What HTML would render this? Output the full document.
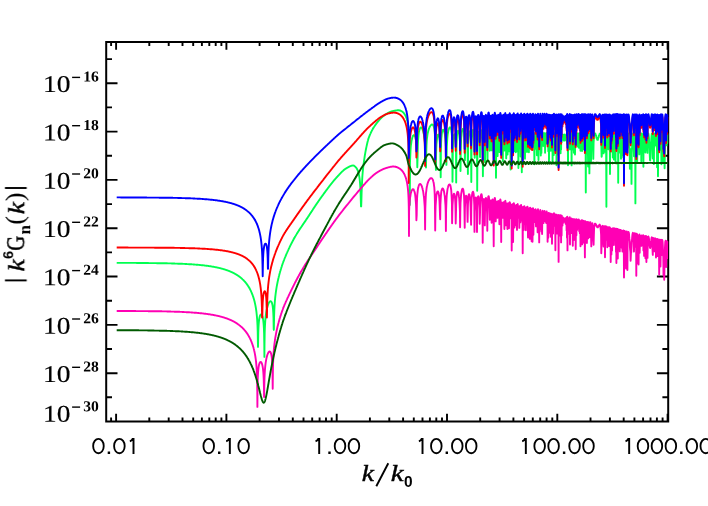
<!DOCTYPE html>
<html><head><meta charset="utf-8"><title>chart</title>
<style>
html,body{margin:0;padding:0;background:#fff;overflow:hidden;}
svg{display:block;}
.ss{font-family:"Liberation Sans",sans-serif;}
.sf{font-family:"Liberation Serif",serif;}
.c{fill:none;stroke-width:1.9;stroke-linejoin:round;stroke-linecap:butt;}
.gp{text-rendering:geometricPrecision;}
.kk{stroke:#000;stroke-width:0.42px;}
.gg{stroke:#000;stroke-width:0.45px;}
.tk{stroke:#000;stroke-width:0.18px;}
text{-webkit-font-smoothing:antialiased;}
</style></head><body>
<svg width="708" height="506" viewBox="0 0 708 506">
<rect width="708" height="506" fill="#fff"/>
<clipPath id="cp"><rect x="106.2" y="42.0" width="562.3" height="379.5"/></clipPath>
<path d="M111.1 421.5 v-3.9M111.1 42.0 v3.9M116.1 421.5 v-7.8M116.1 42.0 v7.8M149.3 421.5 v-3.9M149.3 42.0 v3.9M168.7 421.5 v-3.9M168.7 42.0 v3.9M182.5 421.5 v-3.9M182.5 42.0 v3.9M193.2 421.5 v-3.9M193.2 42.0 v3.9M201.9 421.5 v-3.9M201.9 42.0 v3.9M209.3 421.5 v-3.9M209.3 42.0 v3.9M215.7 421.5 v-3.9M215.7 42.0 v3.9M221.4 421.5 v-3.9M221.4 42.0 v3.9M226.4 421.5 v-7.8M226.4 42.0 v7.8M259.6 421.5 v-3.9M259.6 42.0 v3.9M279.0 421.5 v-3.9M279.0 42.0 v3.9M292.8 421.5 v-3.9M292.8 42.0 v3.9M303.5 421.5 v-3.9M303.5 42.0 v3.9M312.2 421.5 v-3.9M312.2 42.0 v3.9M319.6 421.5 v-3.9M319.6 42.0 v3.9M326.0 421.5 v-3.9M326.0 42.0 v3.9M331.7 421.5 v-3.9M331.7 42.0 v3.9M336.7 421.5 v-7.8M336.7 42.0 v7.8M369.9 421.5 v-3.9M369.9 42.0 v3.9M389.3 421.5 v-3.9M389.3 42.0 v3.9M403.1 421.5 v-3.9M403.1 42.0 v3.9M413.8 421.5 v-3.9M413.8 42.0 v3.9M422.5 421.5 v-3.9M422.5 42.0 v3.9M429.9 421.5 v-3.9M429.9 42.0 v3.9M436.3 421.5 v-3.9M436.3 42.0 v3.9M442.0 421.5 v-3.9M442.0 42.0 v3.9M447.0 421.5 v-7.8M447.0 42.0 v7.8M480.2 421.5 v-3.9M480.2 42.0 v3.9M499.6 421.5 v-3.9M499.6 42.0 v3.9M513.4 421.5 v-3.9M513.4 42.0 v3.9M524.1 421.5 v-3.9M524.1 42.0 v3.9M532.8 421.5 v-3.9M532.8 42.0 v3.9M540.2 421.5 v-3.9M540.2 42.0 v3.9M546.6 421.5 v-3.9M546.6 42.0 v3.9M552.3 421.5 v-3.9M552.3 42.0 v3.9M557.3 421.5 v-7.8M557.3 42.0 v7.8M590.5 421.5 v-3.9M590.5 42.0 v3.9M609.9 421.5 v-3.9M609.9 42.0 v3.9M623.7 421.5 v-3.9M623.7 42.0 v3.9M634.4 421.5 v-3.9M634.4 42.0 v3.9M643.1 421.5 v-3.9M643.1 42.0 v3.9M650.5 421.5 v-3.9M650.5 42.0 v3.9M656.9 421.5 v-3.9M656.9 42.0 v3.9M662.6 421.5 v-3.9M662.6 42.0 v3.9M667.6 421.5 v-7.8M667.6 42.0 v7.8M106.2 397.3 h5.8M668.2 397.3 h-5.8M106.2 373.2 h11.3M668.2 373.2 h-11.3M106.2 349.0 h5.8M668.2 349.0 h-5.8M106.2 324.9 h11.3M668.2 324.9 h-11.3M106.2 300.7 h5.8M668.2 300.7 h-5.8M106.2 276.5 h11.3M668.2 276.5 h-11.3M106.2 252.4 h5.8M668.2 252.4 h-5.8M106.2 228.2 h11.3M668.2 228.2 h-11.3M106.2 204.1 h5.8M668.2 204.1 h-5.8M106.2 179.9 h11.3M668.2 179.9 h-11.3M106.2 155.7 h5.8M668.2 155.7 h-5.8M106.2 131.6 h11.3M668.2 131.6 h-11.3M106.2 107.4 h5.8M668.2 107.4 h-5.8M106.2 83.3 h11.3M668.2 83.3 h-11.3M106.2 59.1 h5.8M668.2 59.1 h-5.8" stroke="#000" stroke-width="1.9" fill="none"/>
<rect x="106.2" y="42.0" width="562.0" height="379.5" fill="none" stroke="#000" stroke-width="2"/>
<g clip-path="url(#cp)">
<path class="c" stroke="#00ff50" d="M116.7 262.9L116.9 262.9L117.1 262.9L117.3 262.9L117.5 262.9L117.7 262.9L117.9 262.9L118.1 262.9L118.3 262.9L118.5 262.9L118.7 262.9L118.9 262.9L119.1 262.9L119.3 262.9L119.5 262.9L119.7 262.9L119.9 262.9L120.1 262.9L120.3 262.9L120.5 262.9L120.7 262.9L120.9 262.9L121.1 262.9L121.3 262.9L121.5 262.9L121.7 262.9L121.9 262.9L122.1 262.9L122.3 262.9L122.5 262.9L122.7 262.9L122.9 262.9L123.1 262.9L123.3 262.9L123.5 262.9L123.7 262.9L123.9 262.9L124.1 262.9L124.3 262.9L124.5 262.9L124.7 262.9L124.9 262.9L125.1 262.9L125.3 262.9L125.5 262.9L125.7 262.9L125.9 262.9L126.1 262.9L126.3 262.9L126.5 262.9L126.7 262.9L126.9 262.9L127.1 262.9L127.3 262.9L127.5 262.9L127.7 262.9L127.9 262.9L128.1 262.9L128.3 262.9L128.5 262.9L128.7 262.9L128.9 262.9L129.1 262.9L129.3 262.9L129.5 262.9L129.7 262.9L129.9 262.9L130.1 262.9L130.3 262.9L130.5 262.9L130.7 262.9L130.9 262.9L131.1 262.9L131.3 262.9L131.5 262.9L131.7 262.9L131.9 262.9L132.1 262.9L132.3 262.9L132.5 262.9L132.7 262.9L132.9 262.9L133.1 262.9L133.3 262.9L133.5 262.9L133.7 262.9L133.9 262.9L134.1 262.9L134.3 262.9L134.5 262.9L134.7 262.9L134.9 262.9L135.1 262.9L135.3 262.9L135.5 262.9L135.7 262.9L135.9 262.9L136.1 262.9L136.3 262.9L136.5 263.0L136.7 263.0L136.9 263.0L137.1 263.0L137.3 263.0L137.5 263.0L137.7 263.0L137.9 263.0L138.1 263.0L138.3 263.0L138.5 263.0L138.7 263.0L138.9 263.0L139.1 263.0L139.3 263.0L139.5 263.0L139.7 263.0L139.9 263.0L140.1 263.0L140.3 263.0L140.5 263.0L140.7 263.0L140.9 263.0L141.1 263.0L141.3 263.0L141.5 263.0L141.7 263.0L141.9 263.0L142.1 263.0L142.3 263.0L142.5 263.0L142.7 263.0L142.9 263.0L143.1 263.0L143.3 263.0L143.5 263.0L143.7 263.0L143.9 263.0L144.1 263.0L144.3 263.0L144.5 263.0L144.7 263.0L144.9 263.0L145.1 263.0L145.3 263.0L145.5 263.0L145.7 263.0L145.9 263.0L146.1 263.0L146.3 263.0L146.5 263.0L146.7 263.0L146.9 263.0L147.1 263.0L147.3 263.0L147.5 263.0L147.7 263.0L147.9 263.0L148.1 263.0L148.3 263.0L148.5 263.0L148.7 263.1L148.9 263.1L149.1 263.1L149.3 263.1L149.5 263.1L149.7 263.1L149.9 263.1L150.1 263.1L150.3 263.1L150.5 263.1L150.7 263.1L150.9 263.1L151.1 263.1L151.3 263.1L151.5 263.1L151.7 263.1L151.9 263.1L152.1 263.1L152.3 263.1L152.5 263.1L152.7 263.1L152.9 263.1L153.1 263.1L153.3 263.1L153.5 263.1L153.7 263.1L153.9 263.1L154.1 263.1L154.3 263.1L154.5 263.1L154.7 263.1L154.9 263.1L155.1 263.1L155.3 263.1L155.5 263.1L155.7 263.1L155.9 263.1L156.1 263.1L156.3 263.1L156.5 263.1L156.7 263.2L156.9 263.2L157.1 263.2L157.3 263.2L157.5 263.2L157.7 263.2L157.9 263.2L158.1 263.2L158.3 263.2L158.5 263.2L158.7 263.2L158.9 263.2L159.1 263.2L159.3 263.2L159.5 263.2L159.7 263.2L159.9 263.2L160.1 263.2L160.3 263.2L160.5 263.2L160.7 263.2L160.9 263.2L161.1 263.2L161.3 263.2L161.5 263.2L161.7 263.2L161.9 263.2L162.1 263.2L162.3 263.2L162.5 263.2L162.7 263.3L162.9 263.3L163.1 263.3L163.3 263.3L163.5 263.3L163.7 263.3L163.9 263.3L164.1 263.3L164.3 263.3L164.5 263.3L164.7 263.3L164.9 263.3L165.1 263.3L165.3 263.3L165.5 263.3L165.7 263.3L165.9 263.3L166.1 263.3L166.3 263.3L166.5 263.3L166.7 263.3L166.9 263.3L167.1 263.3L167.3 263.3L167.5 263.4L167.7 263.4L167.9 263.4L168.1 263.4L168.3 263.4L168.5 263.4L168.7 263.4L168.9 263.4L169.1 263.4L169.3 263.4L169.5 263.4L169.7 263.4L169.9 263.4L170.1 263.4L170.3 263.4L170.5 263.4L170.7 263.4L170.9 263.4L171.1 263.4L171.3 263.4L171.5 263.5L171.7 263.5L171.9 263.5L172.1 263.5L172.3 263.5L172.5 263.5L172.7 263.5L172.9 263.5L173.1 263.5L173.3 263.5L173.5 263.5L173.7 263.5L173.9 263.5L174.1 263.5L174.3 263.5L174.5 263.5L174.7 263.5L174.9 263.6L175.1 263.6L175.3 263.6L175.5 263.6L175.7 263.6L175.9 263.6L176.1 263.6L176.3 263.6L176.5 263.6L176.7 263.6L176.9 263.6L177.1 263.6L177.3 263.6L177.5 263.6L177.7 263.7L177.9 263.7L178.1 263.7L178.3 263.7L178.5 263.7L178.7 263.7L178.9 263.7L179.1 263.7L179.3 263.7L179.5 263.7L179.7 263.7L179.9 263.7L180.1 263.7L180.3 263.7L180.5 263.8L180.7 263.8L180.9 263.8L181.1 263.8L181.3 263.8L181.5 263.8L181.7 263.8L181.9 263.8L182.1 263.8L182.3 263.8L182.5 263.8L182.7 263.9L182.9 263.9L183.1 263.9L183.3 263.9L183.5 263.9L183.7 263.9L183.9 263.9L184.1 263.9L184.3 263.9L184.5 263.9L184.7 263.9L184.9 264.0L185.1 264.0L185.3 264.0L185.5 264.0L185.7 264.0L185.9 264.0L186.1 264.0L186.3 264.0L186.5 264.0L186.7 264.0L186.9 264.1L187.1 264.1L187.3 264.1L187.5 264.1L187.7 264.1L187.9 264.1L188.1 264.1L188.3 264.1L188.5 264.1L188.7 264.2L188.9 264.2L189.1 264.2L189.3 264.2L189.5 264.2L189.7 264.2L189.9 264.2L190.1 264.2L190.3 264.3L190.5 264.3L190.7 264.3L190.9 264.3L191.1 264.3L191.3 264.3L191.5 264.3L191.7 264.3L191.9 264.4L192.1 264.4L192.3 264.4L192.5 264.4L192.7 264.4L192.9 264.4L193.1 264.4L193.3 264.5L193.5 264.5L193.7 264.5L193.9 264.5L194.1 264.5L194.3 264.5L194.5 264.5L194.7 264.6L194.9 264.6L195.1 264.6L195.3 264.6L195.5 264.6L195.7 264.6L195.9 264.6L196.1 264.7L196.3 264.7L196.5 264.7L196.7 264.7L196.9 264.7L197.1 264.7L197.3 264.8L197.5 264.8L197.7 264.8L197.9 264.8L198.1 264.8L198.3 264.9L198.5 264.9L198.7 264.9L198.9 264.9L199.1 264.9L199.3 264.9L199.5 265.0L199.7 265.0L199.9 265.0L200.1 265.0L200.3 265.0L200.5 265.1L200.7 265.1L200.9 265.1L201.1 265.1L201.3 265.1L201.5 265.2L201.7 265.2L201.9 265.2L202.1 265.2L202.3 265.2L202.5 265.3L202.7 265.3L202.9 265.3L203.1 265.3L203.3 265.3L203.5 265.4L203.7 265.4L203.9 265.4L204.1 265.4L204.3 265.5L204.5 265.5L204.7 265.5L204.9 265.5L205.1 265.6L205.3 265.6L205.5 265.6L205.7 265.6L205.9 265.7L206.1 265.7L206.3 265.7L206.5 265.7L206.7 265.8L206.9 265.8L207.1 265.8L207.3 265.8L207.5 265.9L207.7 265.9L207.9 265.9L208.1 265.9L208.3 266.0L208.5 266.0L208.7 266.0L208.9 266.1L209.1 266.1L209.3 266.1L209.5 266.1L209.7 266.2L209.9 266.2L210.1 266.2L210.3 266.3L210.5 266.3L210.7 266.3L210.9 266.4L211.1 266.4L211.3 266.4L211.5 266.5L211.7 266.5L211.9 266.5L212.1 266.6L212.3 266.6L212.5 266.6L212.7 266.7L212.9 266.7L213.1 266.7L213.3 266.8L213.5 266.8L213.7 266.8L213.9 266.9L214.1 266.9L214.3 266.9L214.5 267.0L214.7 267.0L214.9 267.1L215.1 267.1L215.3 267.1L215.5 267.2L215.7 267.2L215.9 267.3L216.1 267.3L216.3 267.3L216.5 267.4L216.7 267.4L216.9 267.5L217.1 267.5L217.3 267.5L217.5 267.6L217.7 267.6L217.9 267.7L218.1 267.7L218.3 267.8L218.5 267.8L218.7 267.9L218.9 267.9L219.1 267.9L219.3 268.0L219.5 268.0L219.7 268.1L219.9 268.1L220.1 268.2L220.3 268.2L220.5 268.3L220.7 268.3L220.9 268.4L221.1 268.4L221.3 268.5L221.5 268.5L221.7 268.6L221.9 268.7L222.1 268.7L222.3 268.8L222.5 268.8L222.7 268.9L222.9 268.9L223.1 269.0L223.3 269.0L223.5 269.1L223.7 269.2L223.9 269.2L224.1 269.3L224.3 269.3L224.5 269.4L224.7 269.5L224.9 269.5L225.1 269.6L225.3 269.7L225.5 269.7L225.7 269.8L225.9 269.9L226.1 269.9L226.3 270.0L226.5 270.1L226.7 270.1L226.9 270.2L227.1 270.3L227.3 270.3L227.5 270.4L227.7 270.5L227.9 270.6L228.1 270.6L228.3 270.7L228.5 270.8L228.7 270.9L228.9 270.9L229.1 271.0L229.3 271.1L229.5 271.2L229.7 271.3L229.9 271.3L230.1 271.4L230.3 271.5L230.5 271.6L230.7 271.7L230.9 271.8L231.1 271.9L231.3 272.0L231.5 272.0L231.7 272.1L231.9 272.2L232.1 272.3L232.3 272.4L232.5 272.5L232.7 272.6L232.9 272.7L233.1 272.8L233.3 272.9L233.5 273.0L233.7 273.1L233.9 273.2L234.1 273.3L234.3 273.4L234.5 273.5L234.7 273.6L234.9 273.8L235.1 273.9L235.3 274.0L235.5 274.1L235.7 274.2L235.9 274.3L236.1 274.5L236.3 274.6L236.5 274.7L236.7 274.8L236.9 274.9L237.1 275.1L237.3 275.2L237.5 275.3L237.7 275.5L237.9 275.6L238.1 275.7L238.3 275.9L238.5 276.0L238.7 276.2L238.9 276.3L239.1 276.4L239.3 276.6L239.5 276.7L239.7 276.9L239.9 277.0L240.1 277.2L240.3 277.4L240.5 277.5L240.7 277.7L240.9 277.9L241.1 278.0L241.3 278.2L241.5 278.4L241.7 278.5L241.9 278.7L242.1 278.9L242.3 279.1L242.5 279.3L242.7 279.5L242.9 279.6L243.1 279.8L243.3 280.0L243.5 280.2L243.7 280.4L243.9 280.7L244.1 280.9L244.3 281.1L244.5 281.3L244.7 281.5L244.9 281.7L245.1 282.0L245.3 282.2L245.5 282.4L245.7 282.7L245.9 282.9L246.1 283.2L246.3 283.4L246.5 283.7L246.7 284.0L246.9 284.2L247.1 284.5L247.3 284.8L247.5 285.1L247.7 285.4L247.9 285.7L248.1 286.0L248.3 286.3L248.5 286.6L248.7 286.9L248.9 287.2L249.1 287.6L249.3 287.9L249.5 288.3L249.7 288.6L249.9 289.0L250.1 289.4L250.3 289.8L250.5 290.2L250.7 290.6L250.9 291.0L251.1 291.4L251.3 291.9L251.5 292.3L251.7 292.8L251.9 293.3L252.1 293.8L252.3 294.3L252.5 294.8L252.7 295.4L252.9 295.9L253.1 296.5L253.3 297.1L253.5 297.7L253.7 298.4L253.9 299.1L254.1 299.8L254.3 300.5L254.5 301.3L254.7 302.1L254.9 303.0L255.1 303.9L255.3 304.9L255.5 305.9L255.7 307.0L255.9 308.2L256.1 309.5L256.3 310.9L256.5 312.5L256.7 314.3L256.9 316.3L257.1 318.7L257.3 321.6L257.5 325.4L257.7 331.1L257.9 343.0L258.0 346.9L258.1 343.3L258.3 332.1L258.5 327.1L258.7 324.0L258.9 321.7L259.1 320.0L259.3 318.7L259.5 317.6L259.7 316.8L259.9 316.1L260.1 315.5L260.3 315.1L260.5 314.8L260.7 314.6L260.9 314.4L261.1 314.4L261.3 314.4L261.5 314.6L261.7 314.8L261.9 315.1L262.1 315.5L262.3 316.0L262.5 316.6L262.7 317.4L262.9 318.3L263.1 319.5L263.3 320.9L263.5 322.7L263.7 325.0L263.9 328.3L264.1 333.3L264.3 344.6L264.4 356.9L264.5 344.4L264.7 332.6L264.9 327.1L265.1 323.4L265.3 320.5L265.5 318.3L265.7 316.4L265.9 314.7L266.1 313.3L266.3 312.0L266.5 310.9L266.7 309.8L266.9 308.9L267.1 308.0L267.3 307.2L267.5 306.5L267.7 305.8L267.9 305.2L268.1 304.6L268.3 304.1L268.5 303.6L268.7 303.2L268.9 302.8L269.1 302.5L269.3 302.2L269.5 301.9L269.7 301.7L269.9 301.5L270.1 301.4L270.3 301.3L270.5 301.3L270.7 301.3L270.9 301.4L271.1 301.5L271.3 301.7L271.5 302.0L271.7 302.3L271.9 302.8L272.1 303.4L272.3 304.2L272.5 305.1L272.7 306.4L272.9 307.9L273.1 310.0L273.3 313.1L273.5 317.9L273.7 328.9L273.8 329.9L273.9 328.4L274.1 316.4L274.3 310.6L274.5 306.6L274.7 303.5L274.9 300.9L275.1 298.7L275.3 296.7L275.5 295.0L275.7 293.3L275.9 291.8L276.1 290.5L276.3 289.1L276.5 287.9L276.7 286.7L276.9 285.6L277.1 284.5L277.3 283.5L277.5 282.5L277.7 281.5L277.9 280.6L278.1 279.7L278.3 278.8L278.5 278.0L278.7 277.2L278.9 276.3L279.1 275.6L279.3 274.8L279.5 274.0L279.7 273.3L279.9 272.6L280.1 271.8L280.3 271.1L280.5 270.5L280.7 269.8L280.9 269.1L281.1 268.5L281.3 267.8L281.5 267.2L281.7 266.6L281.9 265.9L282.1 265.3L282.3 264.7L282.5 264.1L282.7 263.5L282.9 263.0L283.0 262.7L283.2 262.1L283.4 261.6L283.6 261.1L283.8 260.6L284.0 260.1L284.2 259.5L284.4 259.0L284.6 258.5L284.8 258.0L285.0 257.5L285.2 257.0L285.4 256.6L285.6 256.1L285.8 255.6L286.0 255.1L286.2 254.6L286.4 254.2L286.6 253.7L286.8 253.2L287.0 252.8L287.2 252.3L287.4 251.9L287.6 251.4L287.8 251.0L288.0 250.6L288.2 250.1L288.4 249.7L288.6 249.3L288.8 248.8L289.0 248.4L289.2 248.0L289.4 247.6L289.6 247.1L289.8 246.7L290.0 246.3L290.2 245.9L290.4 245.5L290.6 245.1L290.8 244.7L291.0 244.3L291.2 243.9L291.4 243.5L291.6 243.1L291.8 242.8L292.0 242.4L292.2 242.0L292.4 241.6L292.6 241.2L292.8 240.9L293.0 240.5L293.2 240.1L293.4 239.7L293.6 239.4L293.8 239.0L294.0 238.6L294.2 238.3L294.4 237.9L294.6 237.6L294.8 237.2L295.0 236.9L295.2 236.5L295.4 236.2L295.6 235.8L295.8 235.5L296.0 235.2L296.2 234.8L296.4 234.5L296.6 234.2L296.8 233.8L297.0 233.5L297.2 233.2L297.4 232.9L297.6 232.5L297.8 232.2L298.0 231.9L298.2 231.6L298.4 231.3L298.6 231.0L298.8 230.7L299.0 230.4L299.2 230.1L299.4 229.7L299.6 229.4L299.8 229.1L300.0 228.8L300.2 228.5L300.4 228.2L300.6 227.9L300.8 227.6L301.0 227.3L301.2 227.1L301.4 226.8L301.6 226.5L301.8 226.2L302.0 225.9L302.2 225.6L302.4 225.3L302.6 225.0L302.8 224.7L303.0 224.4L303.2 224.1L303.4 223.8L303.6 223.5L303.8 223.2L304.0 223.0L304.2 222.7L304.4 222.4L304.6 222.1L304.8 221.8L305.0 221.5L305.2 221.2L305.4 220.9L305.6 220.6L305.8 220.3L306.0 220.0L306.2 219.7L306.4 219.4L306.6 219.1L306.8 218.8L307.0 218.5L307.2 218.2L307.4 217.9L307.6 217.6L307.8 217.3L308.0 217.0L308.2 216.7L308.4 216.4L308.6 216.1L308.8 215.8L309.0 215.5L309.2 215.1L309.4 214.8L309.6 214.5L309.8 214.2L310.0 213.9L310.2 213.6L310.4 213.3L310.6 213.0L310.8 212.7L311.0 212.4L311.2 212.1L311.4 211.8L311.6 211.5L311.8 211.2L312.0 210.9L312.2 210.6L312.4 210.3L312.6 210.0L312.8 209.6L313.0 209.3L313.2 209.0L313.4 208.7L313.6 208.4L313.8 208.1L314.0 207.8L314.2 207.5L314.4 207.2L314.6 206.9L314.8 206.6L315.0 206.3L315.2 206.0L315.4 205.7L315.6 205.4L315.8 205.1L316.0 204.8L316.2 204.5L316.4 204.2L316.6 203.9L316.8 203.6L317.0 203.3L317.2 203.0L317.4 202.8L317.6 202.5L317.8 202.2L318.0 201.9L318.2 201.6L318.4 201.3L318.6 201.0L318.8 200.7L319.0 200.4L319.2 200.1L319.4 199.8L319.6 199.6L319.8 199.3L320.0 199.0L320.2 198.7L320.4 198.4L320.6 198.1L320.8 197.9L321.0 197.6L321.2 197.3L321.4 197.0L321.6 196.8L321.8 196.5L322.0 196.2L322.2 195.9L322.4 195.7L322.6 195.4L322.8 195.1L323.0 194.8L323.2 194.6L323.4 194.3L323.6 194.0L323.8 193.7L324.0 193.5L324.2 193.2L324.4 192.9L324.6 192.6L324.8 192.4L325.0 192.1L325.2 191.8L325.4 191.5L325.6 191.3L325.8 191.0L326.0 190.7L326.2 190.5L326.4 190.2L326.6 189.9L326.8 189.7L327.0 189.4L327.2 189.1L327.4 188.8L327.6 188.6L327.8 188.3L328.0 188.0L328.2 187.8L328.4 187.5L328.6 187.3L328.8 187.0L329.0 186.7L329.2 186.5L329.4 186.2L329.6 185.9L329.8 185.7L330.0 185.4L330.2 185.2L330.4 184.9L330.6 184.7L330.8 184.4L331.0 184.1L331.2 183.9L331.4 183.6L331.6 183.4L331.8 183.1L332.0 182.9L332.2 182.6L332.4 182.4L332.6 182.1L332.8 181.9L333.0 181.7L333.2 181.4L333.4 181.2L333.6 180.9L333.8 180.7L334.0 180.4L334.2 180.2L334.4 180.0L334.6 179.7L334.8 179.5L335.0 179.3L335.2 179.0L335.4 178.8L335.6 178.6L335.8 178.4L336.0 178.1L336.2 177.9L336.4 177.7L336.6 177.5L336.8 177.2L337.0 177.0L337.2 176.8L337.4 176.6L337.6 176.4L337.8 176.2L338.0 176.0L338.2 175.7L338.4 175.5L338.6 175.3L338.8 175.1L339.0 174.9L339.2 174.7L339.4 174.4L339.6 174.2L339.8 174.0L340.0 173.8L340.2 173.6L340.4 173.4L340.6 173.2L340.8 172.9L341.0 172.7L341.2 172.5L341.4 172.3L341.6 172.1L341.8 171.9L342.0 171.7L342.2 171.5L342.4 171.3L342.6 171.1L342.8 171.0L343.0 170.8L343.2 170.6L343.4 170.4L343.6 170.2L343.8 170.1L344.0 169.9L344.2 169.7L344.4 169.6L344.6 169.4L344.8 169.3L345.0 169.1L345.2 169.0L345.4 168.9L345.6 168.7L345.8 168.6L346.0 168.5L346.2 168.4L346.4 168.3L346.6 168.2L346.8 168.0L347.0 167.9L347.2 167.8L347.4 167.7L347.6 167.6L347.8 167.5L348.0 167.3L348.2 167.2L348.4 167.1L348.6 167.0L348.8 166.9L349.0 166.8L349.2 166.7L349.4 166.6L349.6 166.5L349.8 166.4L350.0 166.3L350.2 166.2L350.4 166.1L350.6 166.0L350.8 166.0L351.0 165.9L351.2 165.8L351.4 165.8L351.6 165.7L351.8 165.7L352.0 165.6L352.2 165.6L352.4 165.6L352.6 165.5L352.8 165.5L353.0 165.5L353.2 165.5L353.4 165.5L353.6 165.6L353.8 165.6L354.0 165.7L354.2 165.8L354.4 166.0L354.6 166.1L354.8 166.3L355.0 166.5L355.2 166.7L355.4 166.9L355.6 167.1L355.8 167.3L356.0 167.5L356.2 167.7L356.4 168.0L356.6 168.3L356.8 168.6L357.0 169.0L357.2 169.4L357.4 169.8L357.6 170.2L357.8 170.7L358.0 171.3L358.2 171.9L358.4 172.5L358.6 173.3L358.8 174.1L359.0 175.1L359.2 176.2L359.4 177.4L359.6 178.7L359.8 180.5L360.0 182.6L360.2 185.2L360.4 188.3L360.6 192.5L360.8 200.0L361.0 206.4L361.2 206.4L361.4 200.5L361.6 192.9L361.8 187.6L362.0 183.2L362.2 179.2L362.4 176.0L362.6 173.5L362.8 171.2L363.0 169.3L363.2 167.5L363.4 165.8L363.6 164.2L363.8 162.7L364.0 161.2L364.2 159.7L364.4 158.3L364.6 157.0L364.8 155.7L365.0 154.5L365.2 153.3L365.4 152.2L365.6 151.1L365.8 150.0L366.0 149.0L366.2 148.0L366.4 147.1L366.6 146.1L366.8 145.2L367.0 144.3L367.2 143.4L367.4 142.6L367.6 141.8L367.8 141.0L368.0 140.3L368.2 139.5L368.4 138.9L368.6 138.2L368.8 137.6L369.0 137.1L369.2 136.6L369.4 136.1L369.6 135.6L369.8 135.1L370.0 134.6L370.2 134.2L370.4 133.7L370.6 133.3L370.8 132.8L371.0 132.4L371.2 132.0L371.4 131.6L371.6 131.2L371.8 130.8L372.0 130.4L372.2 130.0L372.4 129.7L372.6 129.3L372.8 128.9L373.0 128.6L373.2 128.3L373.4 127.9L373.6 127.6L373.8 127.3L374.0 127.0L374.2 126.7L374.4 126.3L374.6 126.1L374.8 125.8L375.0 125.5L375.2 125.2L375.4 124.9L375.6 124.6L375.8 124.4L376.0 124.1L376.2 123.8L376.4 123.5L376.6 123.3L376.8 123.0L377.0 122.8L377.2 122.5L377.4 122.3L377.6 122.0L377.8 121.8L378.0 121.5L378.2 121.3L378.4 121.0L378.6 120.8L378.8 120.6L379.0 120.3L379.2 120.1L379.4 119.9L379.6 119.7L379.8 119.4L380.0 119.2L380.2 119.0L380.4 118.8L380.6 118.6L380.8 118.4L381.0 118.2L381.2 118.0L381.4 117.8L381.6 117.6L381.8 117.4L382.0 117.2L382.2 117.0L382.4 116.9L382.6 116.7L382.8 116.5L383.0 116.3L383.2 116.2L383.4 116.0L383.6 115.9L383.8 115.7L384.0 115.6L384.2 115.4L384.4 115.3L384.6 115.1L384.8 115.0L385.0 114.9L385.2 114.7L385.4 114.6L385.6 114.5L385.8 114.3L386.0 114.2L386.2 114.1L386.4 114.0L386.6 113.8L386.8 113.7L387.0 113.6L387.2 113.5L387.4 113.4L387.6 113.2L387.8 113.1L388.0 113.0L388.2 112.9L388.4 112.8L388.6 112.7L388.8 112.6L389.0 112.5L389.2 112.4L389.4 112.3L389.6 112.2L389.8 112.1L390.0 112.0L390.2 111.9L390.4 111.8L390.6 111.7L390.8 111.7L391.0 111.6L391.2 111.5L391.4 111.5L391.6 111.4L391.8 111.3L392.0 111.3L392.2 111.2L392.4 111.2L392.6 111.1L392.8 111.1L393.0 111.0L393.2 111.0L393.4 111.0L393.6 110.9L393.8 110.9L394.0 110.8L394.2 110.8L394.4 110.8L394.6 110.7L394.8 110.7L395.0 110.6L395.2 110.6L395.4 110.6L395.6 110.5L395.8 110.5L396.0 110.5L396.2 110.5L396.4 110.4L396.6 110.4L396.8 110.4L397.0 110.4L397.2 110.3L397.4 110.3L397.6 110.3L397.8 110.3L398.0 110.3L398.2 110.3L398.4 110.3L398.5 110.3L398.6 110.3L398.7 110.3L398.8 110.3L398.9 110.3L399.0 110.3L399.1 110.3L399.2 110.4L399.3 110.4L399.4 110.4L399.5 110.4L399.6 110.4L399.7 110.4L399.8 110.5L399.9 110.5L400.0 110.5L400.1 110.5L400.2 110.6L400.3 110.6L400.4 110.6L400.5 110.7L400.6 110.7L400.7 110.7L400.8 110.8L400.9 110.8L401.0 110.9L401.1 110.9L401.2 111.0L401.3 111.0L401.4 111.1L401.5 111.1L401.6 111.2L401.7 111.2L401.8 111.3L401.9 111.4L402.0 111.4L402.1 111.5L402.2 111.6L402.3 111.6L402.4 111.7L402.5 111.8L402.6 111.9L402.7 112.0L402.8 112.1L402.9 112.1L403.0 112.2L403.1 112.3L403.2 112.4L403.3 112.5L403.4 112.6L403.5 112.7L403.6 112.9L403.7 113.0L403.8 113.1L403.9 113.2L404.0 113.3L404.1 113.5L404.2 113.6L404.3 113.7L404.4 113.9L404.5 114.0L404.6 114.2L404.7 114.3L404.8 114.5L404.9 114.7L405.0 114.8L405.1 115.0L405.2 115.2L405.3 115.4L405.4 115.6L405.5 115.8L405.6 116.0L405.7 116.2L405.8 116.4L405.9 116.6L406.0 116.8L406.1 117.1L406.2 117.3L406.3 117.6L406.4 117.9L406.5 118.1L406.6 118.4L406.7 118.7L406.8 119.0L406.9 119.3L407.0 119.7L407.1 120.0L407.2 120.4L407.3 120.8L407.4 121.2L407.5 121.6L407.6 122.0L407.7 122.5L407.8 123.0L407.9 123.5L408.0 124.0L408.1 124.6L408.2 125.2L408.3 125.9L408.4 126.6L408.5 127.3L408.6 128.1L408.7 129.0L408.8 130.0L408.9 131.1L409.0 132.3L409.1 133.7L409.2 135.3L409.3 137.2L409.4 139.5L409.5 142.5L409.6 146.7L409.7 153.8L409.8 194.1L409.8 205.0L410.0 162.5L410.3 155.1L410.5 150.7L410.7 147.7L410.9 145.3L411.2 143.4L411.4 141.9L411.6 140.5L411.9 139.4L412.1 138.5L412.3 137.7L412.5 137.0L412.8 136.4L413.0 135.9L413.2 135.6L413.5 135.3L413.7 135.2L413.9 135.1L414.1 135.1L414.4 135.3L414.6 135.5L414.8 135.9L415.1 136.4L415.3 137.0L415.5 137.8L415.7 138.8L416.0 140.0L416.2 141.6L416.4 143.5L416.7 146.0L416.9 149.5L417.1 154.9L417.3 167.3L417.6 156.8L417.8 146.2L418.0 141.1L418.3 137.8L418.5 135.4L418.7 133.6L418.9 132.1L419.2 131.0L419.4 130.0L419.6 129.3L419.9 128.7L420.1 128.2L420.3 127.9L420.5 127.6L420.8 127.5L421.0 127.5L421.2 127.5L421.5 127.7L421.7 127.9L421.9 128.2L422.1 128.6L422.4 129.1L422.6 129.6L422.8 130.3L423.1 131.0L423.3 131.8L423.5 132.7L423.7 133.7L424.0 134.8L424.2 136.1L424.4 137.6L424.7 139.4L424.9 141.5L425.1 144.0L425.3 147.4L425.6 152.3L425.8 161.4L426.0 167.5L426.3 151.2L426.5 145.2L426.7 141.5L426.9 138.9L427.2 136.9L427.4 135.2L427.6 133.8L427.9 132.6L428.1 131.6L428.3 130.7L428.5 129.9L428.8 129.2L429.0 128.5L429.2 127.9L429.5 127.4L429.7 126.9L429.9 126.5L430.1 126.1L430.4 125.8L430.6 125.5L430.8 125.2L431.1 125.0L431.3 124.8L431.5 124.6L431.7 124.5L432.0 124.5L432.2 124.5L432.4 124.6L432.7 124.7L432.9 124.9L433.1 125.2L433.3 125.6L433.6 126.2L433.8 126.8L434.0 127.6L434.3 128.7L434.5 130.0L434.7 131.7L434.9 133.9L435.2 136.9L435.4 141.5L435.6 150.4L435.9 169.9L436.1 153.7L436.3 147.6L436.5 143.8L436.8 141.1L437.0 139.1L437.2 137.6L437.5 136.4L437.7 135.5L437.9 134.9L438.1 134.6L438.4 134.5L438.6 134.6L438.8 135.0L439.1 135.6L439.3 136.6L439.5 138.0L439.7 139.9L440.0 142.5L440.2 146.4L440.4 153.0L440.7 177.3L440.9 150.5L441.1 142.8L441.3 138.6L441.6 135.8L441.8 133.8L442.0 132.4L442.3 131.3L442.5 130.6L442.7 130.1L442.9 129.8L443.2 129.7L443.4 129.8L443.6 130.1L443.9 130.5L444.1 131.1L444.3 131.8L444.5 132.8L444.8 133.9L445.0 135.3L445.2 137.0L445.5 139.1L445.7 141.8L445.9 145.5L446.1 151.3L446.4 164.9L446.6 156.7L446.8 146.7L447.1 141.8L447.3 138.6L447.5 136.2L447.7 134.3L448.0 132.8L448.2 131.6L448.4 130.5L448.7 129.7L448.9 129.0L449.1 128.4L449.3 127.9L449.6 127.6L449.8 127.4L450.0 127.3L450.3 127.4L450.5 127.6L450.7 128.0L450.9 128.7L451.2 129.6L451.4 130.9L451.6 132.7L451.9 135.3L452.1 139.1L452.3 145.9L452.5 181.8L452.8 152.9L453.0 145.5L453.2 141.3L453.5 138.6L453.7 136.7L453.9 135.4L454.1 134.6L454.4 134.2L454.6 134.3L454.8 134.8L455.1 135.8L455.3 137.4L455.5 139.9L455.7 143.7L456.0 150.5L456.2 182.5L456.4 148.1L456.7 140.8L456.9 136.9L457.1 134.4L457.3 132.8L457.6 131.7L457.8 131.0L458.0 130.7L458.3 130.8L458.5 131.1L458.7 131.8L458.9 132.7L459.2 134.0L459.4 135.6L459.6 137.8L459.9 140.9L460.1 145.3L460.3 153.3L460.5 171.0L460.8 148.4L461.0 141.9L461.2 138.0L461.5 135.4L461.7 133.4L461.9 131.9L462.1 130.7L462.4 129.8L462.6 129.2L462.8 128.9L463.1 128.8L463.3 129.0L463.5 129.5L463.7 130.3L464.0 131.7L464.2 133.9L464.4 137.2L464.7 143.0L464.9 160.1L465.1 152.8L465.3 144.0L465.6 139.6L465.8 136.9L466.0 135.2L466.3 134.3L466.5 134.0L466.7 134.5L466.9 135.6L467.2 137.8L467.4 141.3L467.6 147.8L467.9 174.1L468.1 147.0L468.3 139.6L468.5 135.8L468.8 133.5L469.0 132.2L469.2 131.5L469.5 131.3L469.7 131.6L469.9 132.4L470.1 133.7L470.4 135.5L470.6 138.2L470.8 142.2L471.1 149.1L471.3 182.1L471.5 148.3L471.7 141.0L472.0 136.9L472.2 134.2L472.4 132.4L472.7 131.0L472.9 130.2L473.1 129.7L473.3 129.7L473.6 130.2L473.8 131.2L474.0 133.1L474.3 136.1L474.5 141.7L474.7 157.8L474.9 151.0L475.2 142.2L475.4 137.9L475.6 135.5L475.9 134.2L476.1 134.0L476.3 134.7L476.5 136.5L476.8 139.9L477.0 146.7L477.2 190.7L477.5 144.9L477.7 138.1L477.9 134.6L478.1 132.7L478.4 131.8L478.6 131.7L478.8 132.3L479.1 133.5L479.3 135.6L479.5 138.8L479.7 144.2L480.0 157.1L480.2 151.7L480.4 141.5L480.7 136.8L480.9 133.9L481.1 132.0L481.3 130.8L481.6 130.3L481.8 130.5L482.0 131.3L482.3 133.2L482.5 136.6L482.7 143.5L482.9 176.2L483.2 145.6L483.4 139.0L483.6 135.7L483.9 134.2L484.1 133.9L484.3 135.0L484.5 137.8L484.8 143.5L485.0 162.3L485.2 145.7L485.5 137.9L485.7 134.3L485.9 132.5L486.1 132.0L486.4 132.4L486.6 133.7L486.8 136.2L487.1 140.4L487.3 148.9L487.5 160.1L487.7 142.8L488.0 137.0L488.2 133.7L488.4 131.8L488.7 130.9L488.9 130.8L489.1 131.7L489.3 134.0L489.6 138.6L489.8 150.7L490.0 150.4L490.3 140.2L490.5 135.9L490.7 134.1L490.9 134.0L491.2 135.6L491.4 139.7L491.6 150.1L491.9 150.5L492.1 138.9L492.3 134.5L492.5 132.6L492.8 132.2L493.0 133.0L493.2 135.1L493.4 139.1L493.7 147.6L493.9 158.7L494.1 141.6L494.4 135.9L494.6 132.9L494.8 131.4L495.0 131.1L495.3 132.1L495.5 134.7L495.7 140.8L496.0 177.8L496.2 143.7L496.4 137.1L496.6 134.3L496.9 133.9L497.1 135.6L497.3 140.4L497.6 156.1L497.8 144.7L498.0 136.5L498.2 133.3L498.5 132.3L498.7 132.9L498.9 135.2L499.2 140.0L499.4 152.1L499.6 148.6L499.8 138.3L500.1 133.9L500.3 131.9L500.5 131.4L500.8 132.5L501.0 135.9L501.2 145.0L501.4 152.3L501.7 139.2L501.9 134.9L502.1 133.8L502.4 135.2L502.6 140.4L502.8 161.0L503.0 142.3L503.3 135.3L503.5 132.8L503.7 132.6L504.0 134.4L504.2 138.8L504.4 150.5L504.6 148.0L504.9 137.5L505.1 133.4L505.3 131.7L505.6 131.9L505.8 134.5L506.0 141.7L506.2 158.4L506.5 139.7L506.7 134.8L506.9 133.8L507.2 135.9L507.4 143.5L507.6 154.5L507.8 137.9L508.1 133.5L508.3 132.5L508.5 134.0L508.8 138.4L509.0 151.3L509.2 145.8L509.4 136.3L509.7 132.7L509.9 131.7L510.1 133.2L510.4 138.5L510.6 169.5L510.8 141.0L511.0 135.0L511.3 133.8L511.5 136.4L511.7 146.4L512.0 146.5L512.2 135.8L512.4 132.8L512.6 133.1L512.9 136.5L513.1 146.1L513.3 148.9L513.6 136.8L513.8 132.8L514.0 131.9L514.2 134.1L514.5 142.0L514.7 151.2L514.9 137.2L515.2 133.8L515.4 134.9L515.6 142.1L515.8 152.2L516.1 136.6L516.3 132.9L516.5 133.3L516.8 137.4L517.0 151.4L517.2 143.2L517.4 134.8L517.7 132.1L517.9 132.9L518.1 138.3L518.4 168.1L518.6 138.5L518.8 133.9L519.0 134.8L519.3 142.6L519.5 148.4L519.7 135.5L520.0 132.8L520.2 134.3L520.4 141.1L520.6 156.5L520.9 137.2L521.1 132.7L521.3 132.5L521.6 137.0L521.8 172.3L522.0 138.7L522.2 133.9L522.5 135.2L522.7 145.9L522.9 142.9L523.2 134.1L523.4 132.9L523.6 136.6L523.8 152.2L524.1 140.9L524.3 133.6L524.5 132.3L524.8 135.9L525.0 158.7L525.2 138.9L525.4 133.8L525.7 135.7L525.9 150.9L526.1 139.5L526.4 133.3L526.6 133.7L526.8 140.6L527.0 152.0L527.3 135.7L527.5 132.3L527.7 134.3L528.0 147.7L528.2 140.6L528.4 133.9L528.6 135.6L528.9 152.2L529.1 138.5L529.3 133.0L529.6 134.6L529.8 145.2L530.0 142.7L530.2 133.6L530.5 132.6L530.7 138.8L530.9 149.1L531.2 135.0L531.4 134.3L531.6 144.8L531.8 140.8L532.1 133.3L532.3 134.4L532.5 145.6L532.8 141.5L533.0 133.2L533.2 133.2L533.4 143.1L533.7 141.6L533.9 133.8L534.1 136.6L534.4 164.3L534.6 135.3L534.8 133.1L535.0 139.4L535.3 148.7L535.5 134.3L535.7 132.8L536.0 140.6L536.2 143.0L536.4 133.9L536.6 136.8L536.9 155.2L537.1 134.5L537.3 133.6L537.6 143.3L537.8 141.4L538.0 133.0L538.2 134.4L538.5 160.0L538.7 136.2L538.9 134.2L539.2 148.1L539.4 137.3L539.6 133.0L539.8 139.2L540.1 145.9L540.3 133.5L540.5 133.9L540.8 155.5L541.0 136.2L541.2 134.3L541.4 153.0L541.7 135.9L541.9 133.4L542.1 143.5L542.4 139.6L542.6 132.7L542.8 137.2L543.0 145.7L543.3 133.8L543.5 138.8L543.7 142.3L544.0 133.1L544.2 137.8L544.4 146.4L544.6 133.2L544.9 135.2L545.1 152.8L545.3 134.1L545.6 137.9L545.8 143.0L546.0 133.1L546.2 138.6L546.5 143.2L546.7 132.9L546.9 137.4L547.2 142.9L547.4 133.6L547.6 144.4L547.8 136.6L548.1 133.7L548.3 151.2L548.5 135.5L548.8 133.5L549.0 162.2L549.2 134.6L549.4 137.3L549.7 142.0L549.9 133.1L550.1 142.6L550.4 137.7L550.6 133.0L550.8 150.7L551.0 135.0L551.3 137.0L551.5 141.8L551.7 133.2L552.0 145.2L552.2 136.1L552.4 133.7L552.6 161.9L552.9 133.8L553.1 142.2L553.3 136.2L553.6 134.5L553.8 155.0L554.0 133.2L554.2 138.8L554.5 138.1L554.7 135.0L554.9 146.3L555.2 133.1L555.4 145.9L555.6 135.2L555.8 134.9L556.1 144.0L556.3 133.8L556.5 165.3L556.8 133.3L557.0 142.2L557.2 136.0L557.4 134.6L557.7 144.2L557.9 133.9L558.1 154.6L558.4 133.2L558.6 146.9L558.8 134.4L559.0 137.0L559.3 138.2L559.5 135.8L559.7 140.1L560.0 134.0L560.2 150.2L560.4 132.9L560.6 153.2L560.9 133.8L561.1 149.6L561.3 133.6L561.6 142.6L561.8 134.8L562.0 137.3L562.2 136.8L562.5 137.9L562.7 136.2L562.9 136.7L563.2 138.2L563.4 134.6L563.6 140.5L563.8 135.6L564.1 138.3L564.3 135.5L564.5 139.5L564.8 134.4L565.0 140.5L565.2 136.0L565.4 137.2L565.7 136.7L565.9 137.2L566.1 136.1L566.4 136.8L566.6 139.9L566.8 134.3L567.0 142.9L567.3 133.8L567.5 144.8L567.7 133.7L568.0 165.3L568.2 133.4L568.4 147.5L568.6 133.5L568.9 141.5L569.1 136.7L569.3 135.3L569.6 141.5L569.8 133.7L570.0 149.4L570.2 133.6L570.5 144.5L570.7 135.0L570.9 137.5L571.2 137.9L571.4 134.4L571.6 165.4L571.8 133.5L572.1 142.3L572.3 135.3L572.5 135.6L572.8 149.5L573.0 133.3L573.2 144.2L573.4 135.1L573.7 135.5L573.9 152.7L574.1 133.5L574.4 140.9L574.6 136.8L574.8 134.2L575.0 154.5L575.3 134.8L575.5 136.0L575.7 144.5L576.0 133.7L576.2 138.3L576.4 141.2L576.6 133.1L576.9 145.2L577.1 138.5L577.3 133.4L577.6 146.5L577.8 136.0L578.0 134.0L578.2 145.5L578.5 137.5L578.7 133.5L578.9 147.7L579.2 138.7L579.4 133.3L579.6 141.4L579.8 139.7L580.1 133.6L580.3 136.8L580.5 150.8L580.8 133.8L581.0 135.1L581.2 149.3L581.4 138.0L581.7 133.2L581.9 139.7L582.1 151.1L582.4 134.9L582.6 134.0L582.8 145.9L583.0 143.0L583.3 134.0L583.5 134.7L583.7 149.3L584.0 141.9L584.2 134.0L584.4 134.4L584.6 145.8L584.9 145.5L585.1 134.9L585.3 133.5L585.6 139.6L585.8 192.6L586.0 138.2L586.2 133.2L586.5 134.9L586.7 140.6L586.9 153.6L587.2 136.2L587.4 133.7L587.6 134.0L587.8 139.6L588.1 166.6L588.3 141.1L588.5 134.9L588.8 133.2L589.0 135.5L589.2 140.0L589.4 173.4L589.7 140.3L589.9 135.9L590.1 133.6L590.4 133.7L590.6 136.6L590.8 140.8L591.0 161.6L591.3 143.3L591.5 138.3L591.7 135.0L592.0 133.2L592.2 133.8L592.4 134.5L592.6 137.4L592.9 143.3L593.1 149.6L593.3 158.9L593.6 142.7L593.8 139.9L594.0 136.9L594.2 134.4L594.5 134.1L594.7 133.5L594.9 133.2L595.2 133.8L595.4 133.7L595.6 134.5L595.8 135.6L596.1 135.5L596.3 136.8L596.5 138.1L596.8 137.5L597.0 138.8L597.2 139.9L597.4 138.6L597.7 139.3L597.9 139.8L598.1 137.9L598.4 137.9L598.6 137.7L598.8 135.9L599.0 135.6L599.3 135.2L599.5 134.0L599.7 133.7L600.0 133.6L600.2 133.4L600.4 133.5L600.6 134.8L600.9 136.4L601.1 137.9L601.3 144.4L601.6 156.7L601.8 155.9L602.0 140.9L602.2 137.1L602.5 134.8L602.7 133.4L602.9 133.5L603.2 136.0L603.4 141.2L603.6 153.4L603.8 143.8L604.1 137.0L604.3 134.1L604.5 133.6L604.8 135.5L605.0 145.0L605.2 151.7L605.4 138.2L605.7 133.6L605.9 133.7L606.1 139.2L606.4 206.8L606.6 139.5L606.8 133.6L607.0 134.0L607.3 142.6L607.5 147.4L607.7 135.5L608.0 133.6L608.2 138.5L608.4 149.3L608.6 135.3L608.9 133.9L609.1 142.3L609.3 144.2L609.6 133.7L609.8 135.2L610.0 174.0L610.2 135.7L610.5 134.1L610.7 148.5L610.9 137.9L611.2 133.7L611.4 144.2L611.6 137.0L611.8 133.6L612.1 151.8L612.3 135.8L612.5 134.9L612.8 157.6L613.0 134.0L613.2 139.0L613.4 140.4L613.7 133.9L613.9 159.5L614.1 133.8L614.4 139.0L614.6 136.9L614.8 134.7L615.0 143.7L615.3 133.4L615.5 163.2L615.7 133.4L616.0 151.6L616.2 133.8L616.4 145.4L616.6 134.2L616.9 143.7L617.1 134.3L617.3 144.6L617.6 134.0L617.8 149.1L618.0 133.5L618.2 182.8L618.5 133.3L618.7 146.1L618.9 134.3L619.2 137.9L619.4 137.9L619.6 134.1L619.8 152.6L620.1 133.7L620.3 141.5L620.5 138.3L620.8 134.1L621.0 158.8L621.2 135.0L621.4 135.5L621.7 157.4L621.9 133.9L622.1 135.7L622.4 153.0L622.6 134.7L622.8 135.0L623.0 155.3L623.3 137.2L623.5 133.4L623.7 139.1L624.0 146.6L624.2 135.0L624.4 134.0L624.6 140.7L624.9 151.4L625.1 135.5L625.3 133.4L625.6 136.4L625.8 147.5L626.0 145.7L626.2 135.5L626.5 133.5L626.7 134.5L626.9 138.4L627.2 148.6L627.4 147.6L627.6 139.2L627.8 135.3L628.1 133.5L628.3 133.5L628.5 134.5L628.8 136.1L629.0 138.2L629.2 142.9L629.4 147.3L629.7 153.7L629.9 168.8L630.1 159.2L630.4 154.7L630.6 149.3L630.8 151.5L631.0 154.3L631.3 154.5L631.5 183.9L631.7 154.8L632.0 149.2L632.2 142.5L632.4 138.3L632.6 136.3L632.9 134.3L633.1 133.5L633.3 133.8L633.6 135.2L633.8 140.2L634.0 156.2L634.2 146.3L634.5 136.7L634.7 133.6L634.9 134.1L635.2 138.4L635.4 203.4L635.6 138.3L635.8 133.8L636.1 134.6L636.3 146.3L636.5 140.9L636.8 133.9L637.0 135.2L637.2 162.3L637.4 136.1L637.7 133.9L637.9 144.7L638.1 137.9L638.4 133.7L638.6 148.9L638.8 136.3L639.0 134.6L639.3 154.4L639.5 133.6L639.7 141.9L640.0 136.8L640.2 135.4L640.4 142.3L640.6 134.0L640.9 149.4L641.1 133.6L641.3 161.2L641.6 133.4L641.8 153.3L642.0 133.8L642.2 144.0L642.5 134.9L642.7 138.3L642.9 138.5L643.2 134.1L643.4 166.7L643.6 134.0L643.8 137.8L644.1 142.6L644.3 133.5L644.5 141.0L644.8 140.8L645.0 133.4L645.2 137.7L645.4 152.5L645.7 135.2L645.9 133.8L646.1 140.4L646.4 150.3L646.6 136.0L646.8 133.5L647.0 135.7L647.3 144.1L647.5 152.9L647.7 138.8L648.0 134.7L648.2 133.4L648.4 133.7L648.6 135.2L648.9 137.5L649.1 140.7L649.3 144.7L649.6 149.7L649.8 155.4L650.0 160.2L650.2 160.5L650.5 155.9L650.7 150.1L650.9 145.0L651.2 140.9L651.4 137.6L651.6 135.2L651.8 133.7L652.1 133.5L652.3 134.9L652.5 139.4L652.8 158.6L653.0 141.9L653.2 134.9L653.4 133.7L653.7 138.1L653.9 164.0L654.1 136.4L654.4 133.5L654.6 140.0L654.8 144.2L655.0 133.7L655.3 137.3L655.5 145.4L655.7 133.6L656.0 142.3L656.2 136.9L656.4 135.0L656.6 147.0L656.9 133.5L657.1 167.2L657.3 133.6L657.6 158.6L657.8 133.5L658.0 176.2L658.2 133.5L658.5 145.4L658.7 135.5L658.9 135.9L659.2 145.8L659.4 133.4L659.6 140.6L659.8 141.4L660.1 133.5L660.3 138.1L660.5 149.9L660.8 135.2L661.0 133.7L661.2 139.1L661.4 164.3L661.7 139.1L661.9 134.3L662.1 133.5L662.4 135.2L662.6 138.3L662.8 144.9L663.0 161.8L663.3 157.9L663.5 148.3L663.7 144.6L664.0 145.0L664.2 146.1L664.4 148.9L664.6 168.3L664.9 152.0L665.1 142.5L665.3 136.8L665.6 134.2L665.8 133.6L666.0 135.8L666.2 144.2L666.5 145.4L666.7 135.1L666.9 133.8L667.2 141.7L667.4 143.1L667.6 133.6"/>
<path class="c" stroke="#ff0000" d="M116.7 247.5L116.9 247.5L117.1 247.5L117.3 247.5L117.5 247.5L117.7 247.5L117.9 247.5L118.1 247.5L118.3 247.5L118.5 247.5L118.7 247.5L118.9 247.5L119.1 247.5L119.3 247.5L119.5 247.5L119.7 247.5L119.9 247.5L120.1 247.5L120.3 247.5L120.5 247.5L120.7 247.5L120.9 247.5L121.1 247.5L121.3 247.5L121.5 247.5L121.7 247.5L121.9 247.5L122.1 247.5L122.3 247.5L122.5 247.5L122.7 247.5L122.9 247.5L123.1 247.5L123.3 247.5L123.5 247.5L123.7 247.5L123.9 247.5L124.1 247.5L124.3 247.5L124.5 247.5L124.7 247.5L124.9 247.5L125.1 247.5L125.3 247.5L125.5 247.5L125.7 247.5L125.9 247.5L126.1 247.5L126.3 247.5L126.5 247.5L126.7 247.5L126.9 247.5L127.1 247.5L127.3 247.5L127.5 247.5L127.7 247.5L127.9 247.5L128.1 247.5L128.3 247.6L128.5 247.6L128.7 247.6L128.9 247.6L129.1 247.6L129.3 247.6L129.5 247.6L129.7 247.6L129.9 247.6L130.1 247.6L130.3 247.6L130.5 247.6L130.7 247.6L130.9 247.6L131.1 247.6L131.3 247.6L131.5 247.6L131.7 247.6L131.9 247.6L132.1 247.6L132.3 247.6L132.5 247.6L132.7 247.6L132.9 247.6L133.1 247.6L133.3 247.6L133.5 247.6L133.7 247.6L133.9 247.6L134.1 247.6L134.3 247.6L134.5 247.6L134.7 247.6L134.9 247.6L135.1 247.6L135.3 247.6L135.5 247.6L135.7 247.6L135.9 247.6L136.1 247.6L136.3 247.6L136.5 247.6L136.7 247.6L136.9 247.6L137.1 247.6L137.3 247.6L137.5 247.6L137.7 247.6L137.9 247.6L138.1 247.6L138.3 247.6L138.5 247.6L138.7 247.6L138.9 247.6L139.1 247.6L139.3 247.6L139.5 247.6L139.7 247.6L139.9 247.6L140.1 247.6L140.3 247.6L140.5 247.6L140.7 247.6L140.9 247.6L141.1 247.6L141.3 247.6L141.5 247.6L141.7 247.6L141.9 247.6L142.1 247.6L142.3 247.6L142.5 247.6L142.7 247.6L142.9 247.6L143.1 247.6L143.3 247.6L143.5 247.6L143.7 247.6L143.9 247.6L144.1 247.6L144.3 247.6L144.5 247.6L144.7 247.6L144.9 247.6L145.1 247.6L145.3 247.6L145.5 247.6L145.7 247.6L145.9 247.6L146.1 247.6L146.3 247.6L146.5 247.6L146.7 247.6L146.9 247.6L147.1 247.6L147.3 247.6L147.5 247.6L147.7 247.6L147.9 247.6L148.1 247.6L148.3 247.6L148.5 247.6L148.7 247.6L148.9 247.6L149.1 247.6L149.3 247.6L149.5 247.6L149.7 247.6L149.9 247.6L150.1 247.6L150.3 247.6L150.5 247.6L150.7 247.6L150.9 247.6L151.1 247.6L151.3 247.6L151.5 247.6L151.7 247.6L151.9 247.6L152.1 247.6L152.3 247.6L152.5 247.6L152.7 247.6L152.9 247.6L153.1 247.6L153.3 247.6L153.5 247.6L153.7 247.6L153.9 247.6L154.1 247.6L154.3 247.6L154.5 247.7L154.7 247.7L154.9 247.7L155.1 247.7L155.3 247.7L155.5 247.7L155.7 247.7L155.9 247.7L156.1 247.7L156.3 247.7L156.5 247.7L156.7 247.7L156.9 247.7L157.1 247.7L157.3 247.7L157.5 247.7L157.7 247.7L157.9 247.7L158.1 247.7L158.3 247.7L158.5 247.7L158.7 247.7L158.9 247.7L159.1 247.7L159.3 247.7L159.5 247.7L159.7 247.7L159.9 247.7L160.1 247.7L160.3 247.7L160.5 247.7L160.7 247.7L160.9 247.7L161.1 247.7L161.3 247.7L161.5 247.7L161.7 247.7L161.9 247.7L162.1 247.7L162.3 247.7L162.5 247.7L162.7 247.7L162.9 247.7L163.1 247.7L163.3 247.7L163.5 247.7L163.7 247.7L163.9 247.7L164.1 247.7L164.3 247.7L164.5 247.7L164.7 247.7L164.9 247.7L165.1 247.7L165.3 247.7L165.5 247.7L165.7 247.7L165.9 247.7L166.1 247.7L166.3 247.7L166.5 247.8L166.7 247.8L166.9 247.8L167.1 247.8L167.3 247.8L167.5 247.8L167.7 247.8L167.9 247.8L168.1 247.8L168.3 247.8L168.5 247.8L168.7 247.8L168.9 247.8L169.1 247.8L169.3 247.8L169.5 247.8L169.7 247.8L169.9 247.8L170.1 247.8L170.3 247.8L170.5 247.8L170.7 247.8L170.9 247.8L171.1 247.8L171.3 247.8L171.5 247.8L171.7 247.8L171.9 247.8L172.1 247.8L172.3 247.8L172.5 247.8L172.7 247.8L172.9 247.8L173.1 247.8L173.3 247.8L173.5 247.8L173.7 247.8L173.9 247.8L174.1 247.8L174.3 247.8L174.5 247.9L174.7 247.9L174.9 247.9L175.1 247.9L175.3 247.9L175.5 247.9L175.7 247.9L175.9 247.9L176.1 247.9L176.3 247.9L176.5 247.9L176.7 247.9L176.9 247.9L177.1 247.9L177.3 247.9L177.5 247.9L177.7 247.9L177.9 247.9L178.1 247.9L178.3 247.9L178.5 247.9L178.7 247.9L178.9 247.9L179.1 247.9L179.3 247.9L179.5 247.9L179.7 247.9L179.9 247.9L180.1 247.9L180.3 248.0L180.5 248.0L180.7 248.0L180.9 248.0L181.1 248.0L181.3 248.0L181.5 248.0L181.7 248.0L181.9 248.0L182.1 248.0L182.3 248.0L182.5 248.0L182.7 248.0L182.9 248.0L183.1 248.0L183.3 248.0L183.5 248.0L183.7 248.0L183.9 248.0L184.1 248.0L184.3 248.0L184.5 248.0L184.7 248.0L184.9 248.0L185.1 248.1L185.3 248.1L185.5 248.1L185.7 248.1L185.9 248.1L186.1 248.1L186.3 248.1L186.5 248.1L186.7 248.1L186.9 248.1L187.1 248.1L187.3 248.1L187.5 248.1L187.7 248.1L187.9 248.1L188.1 248.1L188.3 248.1L188.5 248.1L188.7 248.1L188.9 248.2L189.1 248.2L189.3 248.2L189.5 248.2L189.7 248.2L189.9 248.2L190.1 248.2L190.3 248.2L190.5 248.2L190.7 248.2L190.9 248.2L191.1 248.2L191.3 248.2L191.5 248.2L191.7 248.2L191.9 248.2L192.1 248.3L192.3 248.3L192.5 248.3L192.7 248.3L192.9 248.3L193.1 248.3L193.3 248.3L193.5 248.3L193.7 248.3L193.9 248.3L194.1 248.3L194.3 248.3L194.5 248.3L194.7 248.3L194.9 248.3L195.1 248.4L195.3 248.4L195.5 248.4L195.7 248.4L195.9 248.4L196.1 248.4L196.3 248.4L196.5 248.4L196.7 248.4L196.9 248.4L197.1 248.4L197.3 248.4L197.5 248.4L197.7 248.5L197.9 248.5L198.1 248.5L198.3 248.5L198.5 248.5L198.7 248.5L198.9 248.5L199.1 248.5L199.3 248.5L199.5 248.5L199.7 248.5L199.9 248.6L200.1 248.6L200.3 248.6L200.5 248.6L200.7 248.6L200.9 248.6L201.1 248.6L201.3 248.6L201.5 248.6L201.7 248.6L201.9 248.7L202.1 248.7L202.3 248.7L202.5 248.7L202.7 248.7L202.9 248.7L203.1 248.7L203.3 248.7L203.5 248.7L203.7 248.7L203.9 248.8L204.1 248.8L204.3 248.8L204.5 248.8L204.7 248.8L204.9 248.8L205.1 248.8L205.3 248.8L205.5 248.9L205.7 248.9L205.9 248.9L206.1 248.9L206.3 248.9L206.5 248.9L206.7 248.9L206.9 248.9L207.1 249.0L207.3 249.0L207.5 249.0L207.7 249.0L207.9 249.0L208.1 249.0L208.3 249.0L208.5 249.1L208.7 249.1L208.9 249.1L209.1 249.1L209.3 249.1L209.5 249.1L209.7 249.1L209.9 249.2L210.1 249.2L210.3 249.2L210.5 249.2L210.7 249.2L210.9 249.2L211.1 249.2L211.3 249.3L211.5 249.3L211.7 249.3L211.9 249.3L212.1 249.3L212.3 249.3L212.5 249.4L212.7 249.4L212.9 249.4L213.1 249.4L213.3 249.4L213.5 249.4L213.7 249.5L213.9 249.5L214.1 249.5L214.3 249.5L214.5 249.5L214.7 249.6L214.9 249.6L215.1 249.6L215.3 249.6L215.5 249.6L215.7 249.7L215.9 249.7L216.1 249.7L216.3 249.7L216.5 249.7L216.7 249.8L216.9 249.8L217.1 249.8L217.3 249.8L217.5 249.8L217.7 249.9L217.9 249.9L218.1 249.9L218.3 249.9L218.5 250.0L218.7 250.0L218.9 250.0L219.1 250.0L219.3 250.1L219.5 250.1L219.7 250.1L219.9 250.1L220.1 250.2L220.3 250.2L220.5 250.2L220.7 250.2L220.9 250.3L221.1 250.3L221.3 250.3L221.5 250.3L221.7 250.4L221.9 250.4L222.1 250.4L222.3 250.4L222.5 250.5L222.7 250.5L222.9 250.5L223.1 250.6L223.3 250.6L223.5 250.6L223.7 250.7L223.9 250.7L224.1 250.7L224.3 250.7L224.5 250.8L224.7 250.8L224.9 250.8L225.1 250.9L225.3 250.9L225.5 250.9L225.7 251.0L225.9 251.0L226.1 251.0L226.3 251.1L226.5 251.1L226.7 251.2L226.9 251.2L227.1 251.2L227.3 251.3L227.5 251.3L227.7 251.3L227.9 251.4L228.1 251.4L228.3 251.5L228.5 251.5L228.7 251.5L228.9 251.6L229.1 251.6L229.3 251.7L229.5 251.7L229.7 251.7L229.9 251.8L230.1 251.8L230.3 251.9L230.5 251.9L230.7 252.0L230.9 252.0L231.1 252.1L231.3 252.1L231.5 252.2L231.7 252.2L231.9 252.3L232.1 252.3L232.3 252.4L232.5 252.4L232.7 252.5L232.9 252.5L233.1 252.6L233.3 252.6L233.5 252.7L233.7 252.7L233.9 252.8L234.1 252.8L234.3 252.9L234.5 253.0L234.7 253.0L234.9 253.1L235.1 253.1L235.3 253.2L235.5 253.3L235.7 253.3L235.9 253.4L236.1 253.4L236.3 253.5L236.5 253.6L236.7 253.6L236.9 253.7L237.1 253.8L237.3 253.8L237.5 253.9L237.7 254.0L237.9 254.1L238.1 254.1L238.3 254.2L238.5 254.3L238.7 254.4L238.9 254.4L239.1 254.5L239.3 254.6L239.5 254.7L239.7 254.8L239.9 254.8L240.1 254.9L240.3 255.0L240.5 255.1L240.7 255.2L240.9 255.3L241.1 255.4L241.3 255.5L241.5 255.5L241.7 255.6L241.9 255.7L242.1 255.8L242.3 255.9L242.5 256.0L242.7 256.1L242.9 256.2L243.1 256.3L243.3 256.5L243.5 256.6L243.7 256.7L243.9 256.8L244.1 256.9L244.3 257.0L244.5 257.1L244.7 257.2L244.9 257.4L245.1 257.5L245.3 257.6L245.5 257.7L245.7 257.9L245.9 258.0L246.1 258.1L246.3 258.3L246.5 258.4L246.7 258.6L246.9 258.7L247.1 258.9L247.3 259.0L247.5 259.2L247.7 259.3L247.9 259.5L248.1 259.6L248.3 259.8L248.5 260.0L248.7 260.1L248.9 260.3L249.1 260.5L249.3 260.7L249.5 260.8L249.7 261.0L249.9 261.2L250.1 261.4L250.3 261.6L250.5 261.8L250.7 262.0L250.9 262.3L251.1 262.5L251.3 262.7L251.5 262.9L251.7 263.2L251.9 263.4L252.1 263.6L252.3 263.9L252.5 264.1L252.7 264.4L252.9 264.7L253.1 264.9L253.3 265.2L253.5 265.5L253.7 265.8L253.9 266.1L254.1 266.4L254.3 266.8L254.5 267.1L254.7 267.4L254.9 267.8L255.1 268.1L255.3 268.5L255.5 268.9L255.7 269.3L255.9 269.7L256.1 270.1L256.3 270.6L256.5 271.0L256.7 271.5L256.9 272.0L257.1 272.5L257.3 273.0L257.5 273.5L257.7 274.1L257.9 274.7L258.1 275.3L258.3 276.0L258.5 276.7L258.7 277.4L258.9 278.2L259.1 279.0L259.3 279.8L259.5 280.8L259.7 281.7L259.9 282.8L260.1 283.9L260.3 285.2L260.5 286.6L260.7 288.1L260.9 289.8L261.1 291.8L261.3 294.2L261.5 297.1L261.7 300.9L261.9 306.5L262.1 317.5L262.2 317.5L262.3 317.5L262.5 307.5L262.7 302.5L262.9 299.4L263.1 297.2L263.3 295.5L263.5 294.3L263.7 293.3L263.9 292.5L264.1 292.0L264.3 291.6L264.5 291.3L264.7 291.3L264.9 291.3L265.1 291.6L265.3 292.0L265.5 292.6L265.7 293.5L265.9 294.7L266.1 296.3L266.3 298.7L266.5 302.4L266.7 309.0L266.9 317.5L267.1 307.9L267.3 300.1L267.5 295.3L267.7 291.8L267.9 288.9L268.1 286.5L268.3 284.4L268.5 282.6L268.7 280.9L268.9 279.3L269.1 277.9L269.3 276.5L269.5 275.3L269.7 274.1L269.9 273.0L270.1 271.9L270.3 270.9L270.5 269.9L270.7 268.9L270.9 268.0L271.1 267.1L271.3 266.3L271.5 265.5L271.7 264.7L271.9 263.9L272.1 263.1L272.3 262.4L272.5 261.7L272.7 261.0L272.9 260.3L273.1 259.6L273.3 258.9L273.5 258.3L273.7 257.7L273.9 257.1L274.1 256.4L274.3 255.8L274.5 255.3L274.7 254.7L274.9 254.1L275.1 253.6L275.3 253.0L275.5 252.5L275.7 251.9L275.9 251.4L276.1 250.9L276.3 250.4L276.5 249.9L276.7 249.4L276.9 248.9L277.1 248.4L277.3 247.9L277.5 247.4L277.7 246.9L277.9 246.5L278.1 246.0L278.3 245.6L278.5 245.1L278.7 244.7L278.9 244.2L279.1 243.8L279.3 243.3L279.5 242.9L279.7 242.5L279.9 242.0L280.1 241.6L280.3 241.2L280.5 240.8L280.7 240.4L280.9 240.0L281.1 239.6L281.3 239.2L281.5 238.8L281.7 238.4L281.9 238.0L282.1 237.6L282.3 237.2L282.5 236.8L282.7 236.4L282.9 236.0L283.0 235.8L283.2 235.5L283.4 235.1L283.6 234.8L283.8 234.5L284.0 234.1L284.2 233.8L284.4 233.5L284.6 233.1L284.8 232.8L285.0 232.5L285.2 232.2L285.4 231.8L285.6 231.5L285.8 231.2L286.0 230.9L286.2 230.6L286.4 230.3L286.6 230.0L286.8 229.7L287.0 229.4L287.2 229.1L287.4 228.8L287.6 228.5L287.8 228.2L288.0 227.9L288.2 227.6L288.4 227.3L288.6 227.0L288.8 226.7L289.0 226.4L289.2 226.1L289.4 225.8L289.6 225.6L289.8 225.3L290.0 225.0L290.2 224.7L290.4 224.4L290.6 224.1L290.8 223.8L291.0 223.6L291.2 223.3L291.4 223.0L291.6 222.7L291.8 222.4L292.0 222.1L292.2 221.9L292.4 221.6L292.6 221.3L292.8 221.0L293.0 220.7L293.2 220.4L293.4 220.2L293.6 219.9L293.8 219.6L294.0 219.3L294.2 219.0L294.4 218.7L294.6 218.4L294.8 218.1L295.0 217.8L295.2 217.5L295.4 217.3L295.6 217.0L295.8 216.7L296.0 216.4L296.2 216.1L296.4 215.8L296.6 215.5L296.8 215.2L297.0 215.0L297.2 214.7L297.4 214.4L297.6 214.1L297.8 213.8L298.0 213.5L298.2 213.2L298.4 213.0L298.6 212.7L298.8 212.4L299.0 212.1L299.2 211.8L299.4 211.5L299.6 211.3L299.8 211.0L300.0 210.7L300.2 210.4L300.4 210.1L300.6 209.8L300.8 209.6L301.0 209.3L301.2 209.0L301.4 208.7L301.6 208.4L301.8 208.2L302.0 207.9L302.2 207.6L302.4 207.3L302.6 207.0L302.8 206.8L303.0 206.5L303.2 206.2L303.4 205.9L303.6 205.7L303.8 205.4L304.0 205.1L304.2 204.8L304.4 204.6L304.6 204.3L304.8 204.0L305.0 203.7L305.2 203.5L305.4 203.2L305.6 202.9L305.8 202.6L306.0 202.4L306.2 202.1L306.4 201.8L306.6 201.5L306.8 201.3L307.0 201.0L307.2 200.7L307.4 200.5L307.6 200.2L307.8 199.9L308.0 199.6L308.2 199.4L308.4 199.1L308.6 198.8L308.8 198.6L309.0 198.3L309.2 198.0L309.4 197.8L309.6 197.5L309.8 197.2L310.0 197.0L310.2 196.7L310.4 196.4L310.6 196.2L310.8 195.9L311.0 195.6L311.2 195.4L311.4 195.1L311.6 194.9L311.8 194.6L312.0 194.3L312.2 194.1L312.4 193.8L312.6 193.5L312.8 193.3L313.0 193.0L313.2 192.7L313.4 192.5L313.6 192.2L313.8 192.0L314.0 191.7L314.2 191.4L314.4 191.2L314.6 190.9L314.8 190.7L315.0 190.4L315.2 190.1L315.4 189.9L315.6 189.6L315.8 189.4L316.0 189.1L316.2 188.8L316.4 188.6L316.6 188.3L316.8 188.1L317.0 187.8L317.2 187.6L317.4 187.3L317.6 187.0L317.8 186.8L318.0 186.5L318.2 186.3L318.4 186.0L318.6 185.7L318.8 185.5L319.0 185.2L319.2 185.0L319.4 184.7L319.6 184.5L319.8 184.2L320.0 183.9L320.2 183.7L320.4 183.4L320.6 183.2L320.8 182.9L321.0 182.7L321.2 182.4L321.4 182.1L321.6 181.9L321.8 181.6L322.0 181.4L322.2 181.1L322.4 180.9L322.6 180.6L322.8 180.3L323.0 180.1L323.2 179.8L323.4 179.6L323.6 179.3L323.8 179.0L324.0 178.8L324.2 178.5L324.4 178.3L324.6 178.0L324.8 177.8L325.0 177.5L325.2 177.2L325.4 177.0L325.6 176.7L325.8 176.5L326.0 176.2L326.2 175.9L326.4 175.7L326.6 175.4L326.8 175.2L327.0 174.9L327.2 174.7L327.4 174.4L327.6 174.1L327.8 173.9L328.0 173.6L328.2 173.4L328.4 173.1L328.6 172.9L328.8 172.6L329.0 172.4L329.2 172.1L329.4 171.8L329.6 171.6L329.8 171.3L330.0 171.1L330.2 170.8L330.4 170.6L330.6 170.3L330.8 170.1L331.0 169.8L331.2 169.6L331.4 169.3L331.6 169.1L331.8 168.8L332.0 168.6L332.2 168.3L332.4 168.1L332.6 167.8L332.8 167.5L333.0 167.3L333.2 167.0L333.4 166.8L333.6 166.6L333.8 166.3L334.0 166.1L334.2 165.8L334.4 165.6L334.6 165.3L334.8 165.1L335.0 164.8L335.2 164.6L335.4 164.3L335.6 164.1L335.8 163.8L336.0 163.6L336.2 163.4L336.4 163.1L336.6 162.9L336.8 162.6L337.0 162.4L337.2 162.1L337.4 161.9L337.6 161.7L337.8 161.4L338.0 161.2L338.2 160.9L338.4 160.7L338.6 160.5L338.8 160.2L339.0 160.0L339.2 159.8L339.4 159.5L339.6 159.3L339.8 159.1L340.0 158.8L340.2 158.6L340.4 158.4L340.6 158.1L340.8 157.9L341.0 157.7L341.2 157.4L341.4 157.2L341.6 157.0L341.8 156.8L342.0 156.5L342.2 156.3L342.4 156.1L342.6 155.9L342.8 155.6L343.0 155.4L343.2 155.2L343.4 155.0L343.6 154.7L343.8 154.5L344.0 154.3L344.2 154.1L344.4 153.8L344.6 153.6L344.8 153.4L345.0 153.2L345.2 153.0L345.4 152.7L345.6 152.5L345.8 152.3L346.0 152.1L346.2 151.9L346.4 151.6L346.6 151.4L346.8 151.2L347.0 151.0L347.2 150.8L347.4 150.5L347.6 150.3L347.8 150.1L348.0 149.9L348.2 149.7L348.4 149.5L348.6 149.2L348.8 149.0L349.0 148.8L349.2 148.6L349.4 148.4L349.6 148.1L349.8 147.9L350.0 147.7L350.2 147.5L350.4 147.3L350.6 147.1L350.8 146.8L351.0 146.6L351.2 146.4L351.4 146.2L351.6 146.0L351.8 145.7L352.0 145.5L352.2 145.3L352.4 145.1L352.6 144.9L352.8 144.6L353.0 144.4L353.2 144.2L353.4 144.0L353.6 143.8L353.8 143.5L354.0 143.3L354.2 143.1L354.4 142.9L354.6 142.6L354.8 142.4L355.0 142.2L355.2 142.0L355.4 141.7L355.6 141.5L355.8 141.3L356.0 141.1L356.2 140.8L356.4 140.6L356.6 140.4L356.8 140.1L357.0 139.9L357.2 139.7L357.4 139.4L357.6 139.2L357.8 139.0L358.0 138.8L358.2 138.5L358.4 138.3L358.6 138.1L358.8 137.8L359.0 137.6L359.2 137.4L359.4 137.1L359.6 136.9L359.8 136.7L360.0 136.5L360.2 136.2L360.4 136.0L360.6 135.8L360.8 135.5L361.0 135.3L361.2 135.1L361.4 134.9L361.6 134.6L361.8 134.4L362.0 134.2L362.2 134.0L362.4 133.7L362.6 133.5L362.8 133.3L363.0 133.1L363.2 132.9L363.4 132.6L363.6 132.4L363.8 132.2L364.0 132.0L364.2 131.8L364.4 131.5L364.6 131.3L364.8 131.1L365.0 130.9L365.2 130.7L365.4 130.5L365.6 130.3L365.8 130.1L366.0 129.9L366.2 129.7L366.4 129.4L366.6 129.2L366.8 129.0L367.0 128.8L367.2 128.6L367.4 128.4L367.6 128.2L367.8 128.0L368.0 127.9L368.2 127.7L368.4 127.5L368.6 127.3L368.8 127.1L369.0 126.9L369.2 126.7L369.4 126.5L369.6 126.3L369.8 126.2L370.0 126.0L370.2 125.8L370.4 125.6L370.6 125.4L370.8 125.2L371.0 125.0L371.2 124.9L371.4 124.7L371.6 124.5L371.8 124.3L372.0 124.1L372.2 123.9L372.4 123.8L372.6 123.6L372.8 123.4L373.0 123.2L373.2 123.0L373.4 122.9L373.6 122.7L373.8 122.5L374.0 122.3L374.2 122.1L374.4 122.0L374.6 121.8L374.8 121.6L375.0 121.5L375.2 121.3L375.4 121.1L375.6 120.9L375.8 120.8L376.0 120.6L376.2 120.4L376.4 120.3L376.6 120.1L376.8 120.0L377.0 119.8L377.2 119.6L377.4 119.5L377.6 119.3L377.8 119.2L378.0 119.0L378.2 118.9L378.4 118.7L378.6 118.6L378.8 118.4L379.0 118.3L379.2 118.1L379.4 118.0L379.6 117.9L379.8 117.7L380.0 117.6L380.2 117.5L380.4 117.3L380.6 117.2L380.8 117.1L381.0 117.0L381.2 116.8L381.4 116.7L381.6 116.6L381.8 116.5L382.0 116.4L382.2 116.3L382.4 116.1L382.6 116.0L382.8 115.9L383.0 115.8L383.2 115.7L383.4 115.6L383.6 115.5L383.8 115.4L384.0 115.3L384.2 115.1L384.4 115.0L384.6 114.9L384.8 114.8L385.0 114.7L385.2 114.6L385.4 114.6L385.6 114.5L385.8 114.4L386.0 114.3L386.2 114.2L386.4 114.1L386.6 114.0L386.8 114.0L387.0 113.9L387.2 113.8L387.4 113.8L387.6 113.7L387.8 113.7L388.0 113.6L388.2 113.5L388.4 113.5L388.6 113.4L388.8 113.4L389.0 113.3L389.2 113.3L389.4 113.3L389.6 113.2L389.8 113.2L390.0 113.1L390.2 113.1L390.4 113.0L390.6 113.0L390.8 113.0L391.0 112.9L391.2 112.9L391.4 112.8L391.6 112.8L391.8 112.8L392.0 112.7L392.2 112.7L392.4 112.7L392.6 112.7L392.8 112.7L393.0 112.6L393.2 112.6L393.4 112.6L393.6 112.6L393.7 112.6L393.8 112.6L393.9 112.6L394.0 112.6L394.1 112.6L394.2 112.6L394.3 112.6L394.4 112.6L394.5 112.6L394.6 112.6L394.7 112.7L394.8 112.7L394.9 112.7L395.0 112.7L395.1 112.7L395.2 112.7L395.3 112.7L395.4 112.7L395.5 112.8L395.6 112.8L395.7 112.8L395.8 112.8L395.9 112.8L396.0 112.8L396.1 112.9L396.2 112.9L396.3 112.9L396.4 112.9L396.5 113.0L396.6 113.0L396.7 113.0L396.8 113.1L396.9 113.1L397.0 113.1L397.1 113.1L397.2 113.2L397.3 113.2L397.4 113.3L397.5 113.3L397.6 113.3L397.7 113.4L397.8 113.4L397.9 113.4L398.0 113.5L398.1 113.5L398.2 113.6L398.3 113.6L398.4 113.7L398.5 113.7L398.6 113.8L398.7 113.8L398.8 113.9L398.9 113.9L399.0 114.0L399.1 114.1L399.2 114.1L399.3 114.2L399.4 114.2L399.5 114.3L399.6 114.4L399.7 114.4L399.8 114.5L399.9 114.6L400.0 114.6L400.1 114.7L400.2 114.8L400.3 114.9L400.4 114.9L400.5 115.0L400.6 115.1L400.7 115.2L400.8 115.3L400.9 115.4L401.0 115.5L401.1 115.6L401.2 115.6L401.3 115.7L401.4 115.8L401.5 115.9L401.6 116.1L401.7 116.2L401.8 116.3L401.9 116.4L402.0 116.5L402.1 116.6L402.2 116.7L402.3 116.9L402.4 117.0L402.5 117.1L402.6 117.2L402.7 117.4L402.8 117.5L402.9 117.7L403.0 117.8L403.1 117.9L403.2 118.1L403.3 118.3L403.4 118.4L403.5 118.6L403.6 118.7L403.7 118.9L403.8 119.1L403.9 119.3L404.0 119.5L404.1 119.7L404.2 119.8L404.3 120.1L404.4 120.3L404.5 120.5L404.6 120.7L404.7 120.9L404.8 121.2L404.9 121.4L405.0 121.6L405.1 121.9L405.2 122.2L405.3 122.4L405.4 122.7L405.5 123.0L405.6 123.3L405.7 123.6L405.8 123.9L405.9 124.3L406.0 124.6L406.1 125.0L406.2 125.4L406.3 125.8L406.4 126.2L406.5 126.6L406.6 127.1L406.7 127.6L406.8 128.1L406.9 128.6L407.0 129.2L407.1 129.8L407.2 130.4L407.3 131.1L407.4 131.8L407.5 132.6L407.6 133.5L407.7 134.4L407.8 135.4L407.9 136.6L408.0 137.9L408.1 139.4L408.2 141.1L408.3 143.2L408.4 145.8L408.5 149.4L408.6 154.7L408.7 166.3L408.7 183.0L408.9 161.3L409.1 150.7L409.3 145.5L409.6 141.9L409.8 139.3L410.0 137.2L410.3 135.5L410.5 134.0L410.7 132.8L410.9 131.7L411.2 130.8L411.4 130.0L411.6 129.3L411.9 128.7L412.1 128.3L412.3 127.9L412.5 127.6L412.8 127.5L413.0 127.4L413.2 127.4L413.5 127.5L413.7 127.7L413.9 128.1L414.1 128.5L414.4 129.1L414.6 129.9L414.8 130.8L415.1 132.0L415.3 133.5L415.5 135.3L415.7 137.7L416.0 141.1L416.2 146.3L416.4 157.5L416.7 153.7L416.9 141.9L417.1 136.6L417.3 133.1L417.6 130.6L417.8 128.6L418.0 127.1L418.3 125.9L418.5 124.8L418.7 124.0L418.9 123.3L419.2 122.8L419.4 122.4L419.6 122.1L419.9 121.8L420.1 121.7L420.3 121.7L420.5 121.8L420.8 121.9L421.0 122.1L421.2 122.4L421.5 122.8L421.7 123.3L421.9 123.8L422.1 124.5L422.4 125.2L422.6 126.0L422.8 126.9L423.1 128.0L423.3 129.2L423.5 130.5L423.7 132.1L424.0 133.9L424.2 136.2L424.4 139.0L424.7 142.9L424.9 149.1L425.1 165.9L425.3 145.0L425.6 136.2L425.8 131.6L426.0 128.5L426.3 126.1L426.5 124.3L426.7 122.7L426.9 121.4L427.2 120.3L427.4 119.3L427.6 118.4L427.9 117.6L428.1 116.9L428.3 116.3L428.5 115.7L428.8 115.2L429.0 114.7L429.2 114.3L429.5 113.9L429.7 113.5L429.9 113.2L430.1 112.9L430.4 112.7L430.6 112.5L430.8 112.3L431.1 112.2L431.3 112.1L431.5 112.1L431.7 112.1L432.0 112.3L432.2 112.4L432.4 112.7L432.7 113.1L432.9 113.5L433.1 114.1L433.3 114.9L433.6 115.8L433.8 117.0L434.0 118.5L434.3 120.5L434.5 123.2L434.7 127.1L434.9 133.9L435.2 163.4L435.4 145.9L435.6 138.2L435.9 133.9L436.1 130.9L436.3 128.6L436.5 126.9L436.8 125.6L437.0 124.6L437.2 123.9L437.5 123.4L437.7 123.1L437.9 123.1L438.1 123.4L438.4 123.9L438.6 124.7L438.8 125.8L439.1 127.4L439.3 129.5L439.5 132.6L439.7 137.3L440.0 146.9L440.2 151.3L440.4 136.9L440.7 131.2L440.9 127.7L441.1 125.3L441.3 123.6L441.6 122.3L441.8 121.3L442.0 120.6L442.3 120.2L442.5 119.9L442.7 119.9L442.9 120.0L443.2 120.3L443.4 120.7L443.6 121.3L443.9 122.1L444.1 123.0L444.3 124.2L444.5 125.6L444.8 127.3L445.0 129.5L445.2 132.3L445.5 136.3L445.7 142.6L445.9 161.6L446.1 140.6L446.4 132.2L446.6 127.7L446.8 124.7L447.1 122.4L447.3 120.6L447.5 119.1L447.7 117.9L448.0 116.9L448.2 116.0L448.4 115.3L448.7 114.7L448.9 114.2L449.1 113.9L449.3 113.7L449.6 113.6L449.8 113.6L450.0 113.9L450.3 114.3L450.5 114.9L450.7 115.8L450.9 117.0L451.2 118.7L451.4 121.1L451.6 124.7L451.9 131.0L452.1 151.7L452.3 141.7L452.5 133.5L452.8 129.1L453.0 126.1L453.2 124.1L453.5 122.7L453.7 121.8L453.9 121.4L454.1 121.3L454.4 121.7L454.6 122.6L454.8 124.0L455.1 126.3L455.3 129.6L455.5 135.4L455.7 150.8L456.0 139.8L456.2 130.7L456.4 126.2L456.7 123.4L456.9 121.6L457.1 120.3L457.3 119.5L457.6 119.1L457.8 119.0L458.0 119.3L458.3 119.8L458.5 120.6L458.7 121.7L458.9 123.2L459.2 125.2L459.4 127.8L459.6 131.5L459.9 137.6L460.1 154.1L460.3 138.6L460.5 129.7L460.8 125.1L461.0 122.1L461.2 119.8L461.5 118.1L461.7 116.8L461.9 115.8L462.1 115.1L462.4 114.6L462.6 114.4L462.8 114.4L463.1 114.7L463.3 115.4L463.5 116.5L463.7 118.2L464.0 120.7L464.2 124.9L464.4 133.1L464.7 152.8L464.9 134.3L465.1 128.2L465.3 124.6L465.6 122.4L465.8 121.0L466.0 120.4L466.3 120.4L466.5 121.1L466.7 122.6L466.9 125.1L467.2 129.4L467.4 138.4L467.6 146.6L467.9 131.0L468.1 125.4L468.3 122.2L468.5 120.3L468.8 119.2L469.0 118.6L469.2 118.6L469.5 119.1L469.7 120.0L469.9 121.4L470.1 123.4L470.4 126.4L470.6 130.9L470.8 139.5L471.1 148.4L471.3 131.0L471.5 124.9L471.7 121.3L472.0 118.9L472.2 117.2L472.4 116.0L472.7 115.2L472.9 114.8L473.1 114.9L473.3 115.5L473.6 116.6L473.8 118.6L474.0 122.0L474.3 128.3L474.5 154.6L474.7 134.6L474.9 127.0L475.2 123.2L475.4 120.9L475.6 119.8L475.9 119.7L476.1 120.5L476.3 122.5L476.5 126.2L476.8 133.7L477.0 154.4L477.2 130.4L477.5 124.2L477.7 121.0L477.9 119.2L478.1 118.4L478.4 118.3L478.6 118.9L478.8 120.2L479.1 122.3L479.3 125.6L479.5 131.2L479.7 145.3L480.0 135.7L480.2 126.1L480.4 121.5L480.7 118.6L480.9 116.8L481.1 115.7L481.3 115.2L481.6 115.3L481.8 116.2L482.0 118.0L482.3 121.4L482.5 128.3L482.7 163.2L482.9 131.1L483.2 124.4L483.4 121.1L483.6 119.5L483.9 119.3L484.1 120.3L484.3 123.0L484.5 128.5L484.8 145.4L485.0 132.5L485.2 124.3L485.5 120.5L485.7 118.7L485.9 118.1L486.1 118.4L486.4 119.6L486.6 122.0L486.8 126.0L487.1 133.8L487.3 150.3L487.5 128.3L487.7 122.1L488.0 118.6L488.2 116.6L488.4 115.6L488.7 115.4L488.9 116.2L489.1 118.2L489.3 122.4L489.6 132.4L489.8 138.5L490.0 126.2L490.3 121.5L490.5 119.3L490.7 118.9L490.9 120.3L491.2 123.8L491.4 132.4L491.6 141.4L491.9 125.9L492.1 120.8L492.3 118.6L492.5 117.9L492.8 118.5L493.0 120.3L493.2 123.8L493.4 130.8L493.7 165.5L493.9 128.0L494.1 121.3L494.4 117.9L494.6 116.1L494.8 115.5L495.0 116.2L495.3 118.4L495.5 123.3L495.7 138.8L496.0 131.6L496.2 123.1L496.4 119.6L496.6 118.6L496.9 119.8L497.1 123.6L497.3 133.9L497.6 134.9L497.8 123.5L498.0 119.4L498.2 117.9L498.5 118.1L498.7 119.8L498.9 123.7L499.2 132.2L499.4 140.8L499.6 124.7L499.8 119.3L500.1 116.7L500.3 115.7L500.5 116.3L500.8 118.8L501.0 125.2L501.2 157.9L501.4 126.6L501.7 120.6L501.9 118.5L502.1 119.1L502.4 122.7L502.6 133.5L502.8 132.8L503.0 122.2L503.3 118.6L503.5 117.7L503.7 118.7L504.0 122.0L504.2 129.7L504.4 144.3L504.6 124.4L504.9 118.8L505.1 116.3L505.3 115.8L505.6 117.4L505.8 122.2L506.0 140.3L506.2 128.2L506.5 120.7L506.7 118.4L506.9 119.2L507.2 123.9L507.4 143.5L507.6 126.8L507.8 119.9L508.1 117.7L508.3 118.1L508.5 121.1L508.8 128.7L509.0 142.4L509.2 123.3L509.4 118.0L509.7 116.0L509.9 116.4L510.1 119.6L510.4 130.0L510.6 131.9L510.8 121.3L511.0 118.3L511.3 119.1L511.5 124.6L511.7 168.6L512.0 124.0L512.2 118.6L512.4 117.5L512.6 119.4L512.9 125.1L513.1 155.3L513.3 124.7L513.6 118.3L513.8 116.1L514.0 116.7L514.2 121.0L514.5 140.4L514.7 125.9L514.9 119.2L515.2 118.2L515.4 121.7L515.6 137.7L515.8 126.0L516.1 118.9L516.3 117.5L516.5 119.5L516.8 126.5L517.0 142.1L517.2 122.0L517.4 117.1L517.7 116.1L517.9 118.7L518.1 129.1L518.4 129.5L518.6 119.8L518.8 118.0L519.0 121.4L519.3 139.4L519.5 124.6L519.7 118.3L520.0 117.6L520.2 121.1L520.4 133.8L520.6 127.3L520.9 118.5L521.1 116.1L521.3 117.7L521.6 126.1L521.8 131.5L522.0 119.9L522.2 118.0L522.5 122.2L522.7 166.7L522.9 122.1L523.2 117.6L523.4 118.4L523.6 124.9L523.8 140.6L524.1 120.7L524.3 116.4L524.5 117.0L524.8 123.9L525.0 133.9L525.2 119.9L525.4 117.9L525.7 123.1L525.9 140.4L526.1 120.3L526.4 117.3L526.6 119.9L526.8 132.4L527.0 125.8L527.3 117.6L527.5 116.3L527.7 121.0L528.0 146.9L528.2 120.8L528.4 117.8L528.6 122.7L528.9 138.5L529.1 119.7L529.3 117.4L529.6 121.3L529.8 148.0L530.0 121.6L530.2 116.5L530.5 117.6L530.7 129.6L530.9 124.8L531.2 117.9L531.4 120.2L531.6 149.7L531.8 120.9L532.1 117.3L532.3 120.9L532.5 150.1L532.8 120.9L533.0 116.3L533.2 118.7L533.4 142.9L533.7 121.2L533.9 117.7L534.1 124.6L534.4 128.5L534.6 117.9L534.8 118.4L535.0 129.8L535.3 124.5L535.5 116.8L535.7 117.7L536.0 133.9L536.2 121.9L536.4 117.7L536.6 125.0L536.9 126.7L537.1 117.6L537.3 119.4L537.6 139.5L537.8 120.8L538.0 116.3L538.2 120.8L538.5 133.5L538.7 118.3L538.9 119.8L539.2 149.2L539.4 118.9L539.6 117.9L539.8 129.2L540.1 123.2L540.3 116.4L540.5 119.9L540.8 135.5L541.0 118.3L541.2 120.1L541.4 137.7L541.7 118.2L541.9 118.8L542.1 140.1L542.4 119.8L542.6 116.5L542.8 125.8L543.0 123.2L543.3 117.6L543.5 128.8L543.7 121.6L544.0 117.3L544.2 126.5L544.4 123.4L544.6 116.4L544.9 122.1L545.1 126.0L545.3 117.5L545.6 126.8L545.8 121.9L546.0 117.3L546.2 128.0L546.5 121.8L546.7 116.4L546.9 126.0L547.2 121.8L547.4 118.0L547.6 146.4L547.8 118.4L548.1 119.2L548.3 142.2L548.5 117.4L548.8 118.8L549.0 132.8L549.2 117.5L549.4 125.7L549.7 121.3L549.9 117.7L550.1 137.0L550.4 118.7L550.6 117.7L550.8 140.6L551.0 117.6L551.3 125.0L551.5 121.2L551.7 117.8L552.0 147.5L552.2 117.7L552.4 119.1L552.6 128.3L552.9 117.4L553.1 136.9L553.3 118.2L553.6 120.6L553.8 126.7L554.0 116.4L554.2 128.8L554.5 119.1L554.7 121.2L554.9 123.4L555.2 117.6L555.4 153.0L555.6 117.2L555.8 121.4L556.1 122.2L556.3 118.8L556.5 128.5L556.8 117.2L557.0 135.9L557.2 117.7L557.4 120.8L557.7 122.3L557.9 119.0L558.1 126.4L558.4 117.4L558.6 170.1L558.8 116.8L559.0 125.0L559.3 119.1L559.5 122.7L559.7 120.2L560.0 119.6L560.2 125.0L560.4 116.9L560.6 137.5L560.9 117.3L561.1 143.8L561.3 117.1L561.6 136.9L561.8 117.0L562.0 125.7L562.2 118.4L562.5 126.5L562.7 118.1L562.9 124.2L563.2 118.9L563.4 120.7L563.6 120.3L563.8 122.3L564.1 119.2L564.3 122.2L564.5 119.7L564.8 120.2L565.0 120.3L565.2 123.0L565.4 118.6L565.7 124.2L565.9 118.3L566.1 123.3L566.4 118.3L566.6 130.6L566.8 117.2L567.0 137.8L567.3 116.6L567.5 150.3L567.7 117.3L568.0 128.5L568.2 118.2L568.4 123.8L568.6 118.6L568.9 120.9L569.1 124.2L569.3 117.6L569.6 133.9L569.8 116.6L570.0 143.8L570.2 117.9L570.5 122.4L570.7 121.2L570.9 118.5L571.2 126.5L571.4 117.2L571.6 131.8L571.8 118.4L572.1 121.2L572.3 121.8L572.5 117.7L572.8 144.4L573.0 117.8L573.2 122.2L573.4 121.4L573.7 117.6L573.9 138.3L574.1 118.3L574.4 120.4L574.6 124.6L574.8 117.2L575.0 126.3L575.3 120.9L575.5 117.6L575.7 147.1L576.0 118.3L576.2 119.1L576.4 133.0L576.6 116.7L576.9 122.7L577.1 127.6L577.3 117.1L577.6 123.3L577.8 123.0L578.0 117.1L578.2 122.9L578.5 125.5L578.7 116.6L578.9 123.8L579.2 128.1L579.4 117.3L579.6 120.7L579.8 130.2L580.1 118.0L580.3 118.3L580.5 142.9L580.8 118.9L581.0 117.4L581.2 124.5L581.4 126.4L581.7 116.8L581.9 119.8L582.1 140.8L582.4 120.9L582.6 116.7L582.8 123.0L583.0 138.9L583.3 119.2L583.5 117.0L583.7 124.5L584.0 135.6L584.2 119.2L584.4 116.8L584.6 122.9L584.9 153.0L585.1 120.9L585.3 116.6L585.6 119.7L585.8 129.9L586.0 126.7L586.2 117.5L586.5 117.3L586.7 120.3L586.9 138.2L587.2 123.3L587.4 118.3L587.6 117.0L587.8 119.7L588.1 131.8L588.3 133.2L588.5 120.9L588.8 116.8L589.0 117.5L589.2 120.0L589.4 129.6L589.7 131.5L589.9 122.6L590.1 118.4L590.4 116.6L590.6 118.1L590.8 120.4L591.0 128.2L591.3 140.4L591.5 127.1L591.7 121.0L592.0 117.4L592.2 117.1L592.4 117.1L592.6 118.4L592.9 121.7L593.1 124.6L593.3 134.4L593.6 138.3L593.8 130.5L594.0 124.4L594.2 120.0L594.5 119.2L594.7 118.1L594.9 116.9L595.2 117.1L595.4 116.9L595.6 116.9L595.8 117.5L596.1 117.5L596.3 118.0L596.5 118.9L596.8 118.6L597.0 119.2L597.2 119.9L597.4 119.2L597.7 119.5L597.9 119.8L598.1 118.8L598.4 118.7L598.6 118.6L598.8 117.7L599.0 117.4L599.3 117.3L599.5 116.9L599.7 116.7L600.0 117.2L600.2 117.8L600.4 118.1L600.6 120.5L600.9 123.4L601.1 126.3L601.3 144.9L601.6 135.5L601.8 126.7L602.0 120.4L602.2 118.2L602.5 117.2L602.7 117.2L602.9 118.1L603.2 122.8L603.4 133.0L603.6 137.6L603.8 122.0L604.1 118.2L604.3 117.0L604.5 118.3L604.8 121.9L605.0 148.1L605.2 125.5L605.4 118.9L605.7 116.9L605.9 118.4L606.1 128.9L606.4 130.4L606.6 119.6L606.8 116.9L607.0 119.1L607.3 137.5L607.5 123.7L607.7 117.5L608.0 118.3L608.2 127.3L608.4 124.4L608.6 117.2L608.9 118.6L609.1 135.8L609.3 122.1L609.6 116.9L609.8 121.3L610.0 129.3L610.2 117.5L610.5 119.2L610.7 151.4L610.9 118.7L611.2 118.4L611.4 143.6L611.6 118.2L611.8 118.1L612.1 139.7L612.3 117.5L612.5 120.7L612.8 127.2L613.0 117.0L613.2 128.1L613.4 120.1L613.7 118.7L613.9 133.7L614.1 116.9L614.4 128.4L614.6 118.2L614.8 120.3L615.0 121.9L615.3 117.7L615.5 128.2L615.7 116.8L616.0 140.1L616.2 116.7L616.4 151.0L616.6 116.8L616.9 141.4L617.1 116.8L617.3 145.8L617.6 116.7L617.8 146.1L618.0 116.8L618.2 130.4L618.5 117.4L618.7 123.0L618.9 119.6L619.2 118.7L619.4 126.1L619.6 116.9L619.8 138.6L620.1 118.2L620.3 120.7L620.5 126.8L620.8 116.9L621.0 127.5L621.2 120.8L621.4 117.3L621.7 134.6L621.9 118.9L622.1 117.5L622.4 138.1L622.6 120.3L622.8 117.2L623.0 126.6L623.3 124.8L623.5 116.8L623.7 119.4L624.0 185.7L624.2 120.8L624.4 116.9L624.6 120.2L624.9 140.5L625.1 121.8L625.3 117.3L625.6 117.8L625.8 123.7L626.0 154.2L626.2 121.8L626.5 117.8L626.7 117.0L626.9 118.9L627.2 124.1L627.4 155.3L627.6 128.5L627.8 121.3L628.1 117.9L628.3 117.1L628.5 117.0L628.8 117.6L629.0 118.9L629.2 121.4L629.4 123.6L629.7 126.0L629.9 131.5L630.1 134.1L630.4 136.4L630.6 145.3L630.8 141.0L631.0 136.8L631.3 136.7L631.5 130.6L631.7 126.3L632.0 124.4L632.2 121.2L632.4 118.9L632.6 117.8L632.9 116.8L633.1 117.1L633.3 118.4L633.6 121.1L633.8 130.6L634.0 135.3L634.2 123.1L634.5 118.0L634.7 116.9L634.9 119.2L635.2 127.1L635.4 130.3L635.6 118.9L635.8 116.9L636.1 120.1L636.3 159.0L636.5 120.3L636.8 116.9L637.0 121.2L637.2 133.0L637.4 117.7L637.7 118.5L637.9 146.0L638.1 118.6L638.4 118.4L638.6 147.3L638.8 117.8L639.0 120.0L639.3 126.3L639.5 116.9L639.7 135.2L640.0 118.0L640.2 121.5L640.4 121.1L640.6 118.9L640.9 124.4L641.1 117.8L641.3 127.9L641.6 117.4L641.8 125.9L642.0 118.4L642.2 122.0L642.5 120.7L642.7 118.9L642.9 127.3L643.2 116.8L643.4 131.9L643.6 118.9L643.8 118.6L644.1 137.2L644.3 117.4L644.5 120.4L644.8 132.2L645.0 117.4L645.2 118.5L645.4 139.3L645.7 121.1L645.9 116.8L646.1 120.1L646.4 142.8L646.6 122.6L646.8 117.3L647.0 117.5L647.3 122.0L647.5 138.4L647.7 127.8L648.0 120.3L648.2 117.5L648.4 116.8L648.6 117.2L648.9 118.4L649.1 120.2L649.3 122.3L649.6 124.6L649.8 126.6L650.0 127.8L650.2 127.8L650.5 126.7L650.7 124.8L650.9 122.5L651.2 120.3L651.4 118.5L651.6 117.2L651.8 116.8L652.1 117.6L652.3 120.5L652.5 129.1L652.8 134.1L653.0 120.8L653.2 117.1L653.4 118.0L653.7 126.5L653.9 128.3L654.1 117.9L654.4 117.7L654.6 130.2L654.8 122.1L655.0 116.8L655.3 124.8L655.5 122.6L655.7 117.1L656.0 136.1L656.2 118.1L656.4 120.7L656.6 123.4L656.9 117.5L657.1 131.7L657.3 117.1L657.6 134.0L657.8 117.1L658.0 129.6L658.2 117.7L658.5 122.6L658.7 121.7L658.9 117.6L659.2 152.2L659.4 117.4L659.6 120.1L659.8 133.5L660.1 117.6L660.3 118.8L660.5 143.9L660.8 121.1L661.0 116.9L661.2 119.3L661.4 132.2L661.7 128.3L661.9 119.5L662.1 116.9L662.4 117.2L662.6 118.9L662.8 122.4L663.0 128.0L663.3 134.4L663.5 151.7L663.7 145.2L664.0 147.8L664.2 156.2L664.4 147.5L664.6 131.5L664.9 125.4L665.1 121.2L665.3 118.0L665.6 116.8L665.8 117.7L666.0 122.2L666.2 143.1L666.5 122.6L666.7 117.2L666.9 118.4L667.2 134.1L667.4 121.5L667.6 116.9"/>
<path class="c" stroke="#0000ff" d="M116.7 197.4L116.9 197.4L117.1 197.4L117.3 197.4L117.5 197.4L117.7 197.4L117.9 197.4L118.1 197.4L118.3 197.4L118.5 197.4L118.7 197.4L118.9 197.4L119.1 197.4L119.3 197.4L119.5 197.4L119.7 197.4L119.9 197.4L120.1 197.4L120.3 197.4L120.5 197.4L120.7 197.5L120.9 197.5L121.1 197.5L121.3 197.5L121.5 197.5L121.7 197.5L121.9 197.5L122.1 197.5L122.3 197.5L122.5 197.5L122.7 197.5L122.9 197.5L123.1 197.5L123.3 197.5L123.5 197.5L123.7 197.5L123.9 197.5L124.1 197.5L124.3 197.5L124.5 197.5L124.7 197.5L124.9 197.5L125.1 197.5L125.3 197.5L125.5 197.5L125.7 197.5L125.9 197.5L126.1 197.5L126.3 197.5L126.5 197.5L126.7 197.5L126.9 197.5L127.1 197.5L127.3 197.5L127.5 197.5L127.7 197.5L127.9 197.5L128.1 197.5L128.3 197.5L128.5 197.5L128.7 197.5L128.9 197.5L129.1 197.5L129.3 197.5L129.5 197.5L129.7 197.5L129.9 197.5L130.1 197.5L130.3 197.5L130.5 197.5L130.7 197.5L130.9 197.5L131.1 197.5L131.3 197.5L131.5 197.5L131.7 197.5L131.9 197.5L132.1 197.5L132.3 197.5L132.5 197.5L132.7 197.5L132.9 197.5L133.1 197.5L133.3 197.5L133.5 197.5L133.7 197.5L133.9 197.5L134.1 197.5L134.3 197.5L134.5 197.5L134.7 197.5L134.9 197.5L135.1 197.5L135.3 197.5L135.5 197.5L135.7 197.5L135.9 197.5L136.1 197.5L136.3 197.5L136.5 197.5L136.7 197.5L136.9 197.5L137.1 197.5L137.3 197.5L137.5 197.5L137.7 197.5L137.9 197.5L138.1 197.5L138.3 197.5L138.5 197.5L138.7 197.5L138.9 197.5L139.1 197.5L139.3 197.5L139.5 197.5L139.7 197.5L139.9 197.5L140.1 197.5L140.3 197.5L140.5 197.5L140.7 197.5L140.9 197.5L141.1 197.5L141.3 197.5L141.5 197.5L141.7 197.5L141.9 197.5L142.1 197.5L142.3 197.5L142.5 197.5L142.7 197.5L142.9 197.5L143.1 197.5L143.3 197.5L143.5 197.5L143.7 197.5L143.9 197.5L144.1 197.5L144.3 197.5L144.5 197.5L144.7 197.5L144.9 197.5L145.1 197.5L145.3 197.5L145.5 197.5L145.7 197.5L145.9 197.5L146.1 197.5L146.3 197.5L146.5 197.5L146.7 197.5L146.9 197.6L147.1 197.6L147.3 197.6L147.5 197.6L147.7 197.6L147.9 197.6L148.1 197.6L148.3 197.6L148.5 197.6L148.7 197.6L148.9 197.6L149.1 197.6L149.3 197.6L149.5 197.6L149.7 197.6L149.9 197.6L150.1 197.6L150.3 197.6L150.5 197.6L150.7 197.6L150.9 197.6L151.1 197.6L151.3 197.6L151.5 197.6L151.7 197.6L151.9 197.6L152.1 197.6L152.3 197.6L152.5 197.6L152.7 197.6L152.9 197.6L153.1 197.6L153.3 197.6L153.5 197.6L153.7 197.6L153.9 197.6L154.1 197.6L154.3 197.6L154.5 197.6L154.7 197.6L154.9 197.6L155.1 197.6L155.3 197.6L155.5 197.6L155.7 197.6L155.9 197.6L156.1 197.6L156.3 197.6L156.5 197.6L156.7 197.6L156.9 197.6L157.1 197.6L157.3 197.6L157.5 197.6L157.7 197.6L157.9 197.6L158.1 197.6L158.3 197.6L158.5 197.6L158.7 197.6L158.9 197.6L159.1 197.7L159.3 197.7L159.5 197.7L159.7 197.7L159.9 197.7L160.1 197.7L160.3 197.7L160.5 197.7L160.7 197.7L160.9 197.7L161.1 197.7L161.3 197.7L161.5 197.7L161.7 197.7L161.9 197.7L162.1 197.7L162.3 197.7L162.5 197.7L162.7 197.7L162.9 197.7L163.1 197.7L163.3 197.7L163.5 197.7L163.7 197.7L163.9 197.7L164.1 197.7L164.3 197.7L164.5 197.7L164.7 197.7L164.9 197.7L165.1 197.7L165.3 197.7L165.5 197.7L165.7 197.7L165.9 197.7L166.1 197.7L166.3 197.7L166.5 197.7L166.7 197.7L166.9 197.7L167.1 197.8L167.3 197.8L167.5 197.8L167.7 197.8L167.9 197.8L168.1 197.8L168.3 197.8L168.5 197.8L168.7 197.8L168.9 197.8L169.1 197.8L169.3 197.8L169.5 197.8L169.7 197.8L169.9 197.8L170.1 197.8L170.3 197.8L170.5 197.8L170.7 197.8L170.9 197.8L171.1 197.8L171.3 197.8L171.5 197.8L171.7 197.8L171.9 197.8L172.1 197.8L172.3 197.8L172.5 197.8L172.7 197.8L172.9 197.8L173.1 197.9L173.3 197.9L173.5 197.9L173.7 197.9L173.9 197.9L174.1 197.9L174.3 197.9L174.5 197.9L174.7 197.9L174.9 197.9L175.1 197.9L175.3 197.9L175.5 197.9L175.7 197.9L175.9 197.9L176.1 197.9L176.3 197.9L176.5 197.9L176.7 197.9L176.9 197.9L177.1 197.9L177.3 197.9L177.5 197.9L177.7 198.0L177.9 198.0L178.1 198.0L178.3 198.0L178.5 198.0L178.7 198.0L178.9 198.0L179.1 198.0L179.3 198.0L179.5 198.0L179.7 198.0L179.9 198.0L180.1 198.0L180.3 198.0L180.5 198.0L180.7 198.0L180.9 198.0L181.1 198.0L181.3 198.0L181.5 198.0L181.7 198.1L181.9 198.1L182.1 198.1L182.3 198.1L182.5 198.1L182.7 198.1L182.9 198.1L183.1 198.1L183.3 198.1L183.5 198.1L183.7 198.1L183.9 198.1L184.1 198.1L184.3 198.1L184.5 198.1L184.7 198.1L184.9 198.1L185.1 198.2L185.3 198.2L185.5 198.2L185.7 198.2L185.9 198.2L186.1 198.2L186.3 198.2L186.5 198.2L186.7 198.2L186.9 198.2L187.1 198.2L187.3 198.2L187.5 198.2L187.7 198.2L187.9 198.2L188.1 198.3L188.3 198.3L188.5 198.3L188.7 198.3L188.9 198.3L189.1 198.3L189.3 198.3L189.5 198.3L189.7 198.3L189.9 198.3L190.1 198.3L190.3 198.3L190.5 198.3L190.7 198.4L190.9 198.4L191.1 198.4L191.3 198.4L191.5 198.4L191.7 198.4L191.9 198.4L192.1 198.4L192.3 198.4L192.5 198.4L192.7 198.4L192.9 198.5L193.1 198.5L193.3 198.5L193.5 198.5L193.7 198.5L193.9 198.5L194.1 198.5L194.3 198.5L194.5 198.5L194.7 198.5L194.9 198.5L195.1 198.6L195.3 198.6L195.5 198.6L195.7 198.6L195.9 198.6L196.1 198.6L196.3 198.6L196.5 198.6L196.7 198.6L196.9 198.6L197.1 198.7L197.3 198.7L197.5 198.7L197.7 198.7L197.9 198.7L198.1 198.7L198.3 198.7L198.5 198.7L198.7 198.7L198.9 198.8L199.1 198.8L199.3 198.8L199.5 198.8L199.7 198.8L199.9 198.8L200.1 198.8L200.3 198.8L200.5 198.9L200.7 198.9L200.9 198.9L201.1 198.9L201.3 198.9L201.5 198.9L201.7 198.9L201.9 198.9L202.1 199.0L202.3 199.0L202.5 199.0L202.7 199.0L202.9 199.0L203.1 199.0L203.3 199.0L203.5 199.1L203.7 199.1L203.9 199.1L204.1 199.1L204.3 199.1L204.5 199.1L204.7 199.2L204.9 199.2L205.1 199.2L205.3 199.2L205.5 199.2L205.7 199.2L205.9 199.2L206.1 199.3L206.3 199.3L206.5 199.3L206.7 199.3L206.9 199.3L207.1 199.3L207.3 199.4L207.5 199.4L207.7 199.4L207.9 199.4L208.1 199.4L208.3 199.4L208.5 199.5L208.7 199.5L208.9 199.5L209.1 199.5L209.3 199.5L209.5 199.6L209.7 199.6L209.9 199.6L210.1 199.6L210.3 199.6L210.5 199.7L210.7 199.7L210.9 199.7L211.1 199.7L211.3 199.7L211.5 199.8L211.7 199.8L211.9 199.8L212.1 199.8L212.3 199.8L212.5 199.9L212.7 199.9L212.9 199.9L213.1 199.9L213.3 200.0L213.5 200.0L213.7 200.0L213.9 200.0L214.1 200.0L214.3 200.1L214.5 200.1L214.7 200.1L214.9 200.1L215.1 200.2L215.3 200.2L215.5 200.2L215.7 200.2L215.9 200.3L216.1 200.3L216.3 200.3L216.5 200.3L216.7 200.4L216.9 200.4L217.1 200.4L217.3 200.5L217.5 200.5L217.7 200.5L217.9 200.5L218.1 200.6L218.3 200.6L218.5 200.6L218.7 200.7L218.9 200.7L219.1 200.7L219.3 200.7L219.5 200.8L219.7 200.8L219.9 200.8L220.1 200.9L220.3 200.9L220.5 200.9L220.7 201.0L220.9 201.0L221.1 201.0L221.3 201.1L221.5 201.1L221.7 201.1L221.9 201.2L222.1 201.2L222.3 201.2L222.5 201.3L222.7 201.3L222.9 201.3L223.1 201.4L223.3 201.4L223.5 201.5L223.7 201.5L223.9 201.5L224.1 201.6L224.3 201.6L224.5 201.6L224.7 201.7L224.9 201.7L225.1 201.8L225.3 201.8L225.5 201.8L225.7 201.9L225.9 201.9L226.1 202.0L226.3 202.0L226.5 202.1L226.7 202.1L226.9 202.1L227.1 202.2L227.3 202.2L227.5 202.3L227.7 202.3L227.9 202.4L228.1 202.4L228.3 202.5L228.5 202.5L228.7 202.6L228.9 202.6L229.1 202.7L229.3 202.7L229.5 202.8L229.7 202.8L229.9 202.9L230.1 202.9L230.3 203.0L230.5 203.0L230.7 203.1L230.9 203.1L231.1 203.2L231.3 203.2L231.5 203.3L231.7 203.4L231.9 203.4L232.1 203.5L232.3 203.5L232.5 203.6L232.7 203.7L232.9 203.7L233.1 203.8L233.3 203.8L233.5 203.9L233.7 204.0L233.9 204.0L234.1 204.1L234.3 204.2L234.5 204.2L234.7 204.3L234.9 204.4L235.1 204.4L235.3 204.5L235.5 204.6L235.7 204.7L235.9 204.7L236.1 204.8L236.3 204.9L236.5 205.0L236.7 205.0L236.9 205.1L237.1 205.2L237.3 205.3L237.5 205.4L237.7 205.4L237.9 205.5L238.1 205.6L238.3 205.7L238.5 205.8L238.7 205.9L238.9 205.9L239.1 206.0L239.3 206.1L239.5 206.2L239.7 206.3L239.9 206.4L240.1 206.5L240.3 206.6L240.5 206.7L240.7 206.8L240.9 206.9L241.1 207.0L241.3 207.1L241.5 207.2L241.7 207.3L241.9 207.4L242.1 207.5L242.3 207.6L242.5 207.7L242.7 207.9L242.9 208.0L243.1 208.1L243.3 208.2L243.5 208.3L243.7 208.4L243.9 208.6L244.1 208.7L244.3 208.8L244.5 208.9L244.7 209.1L244.9 209.2L245.1 209.3L245.3 209.5L245.5 209.6L245.7 209.8L245.9 209.9L246.1 210.0L246.3 210.2L246.5 210.3L246.7 210.5L246.9 210.7L247.1 210.8L247.3 211.0L247.5 211.1L247.7 211.3L247.9 211.5L248.1 211.6L248.3 211.8L248.5 212.0L248.7 212.2L248.9 212.3L249.1 212.5L249.3 212.7L249.5 212.9L249.7 213.1L249.9 213.3L250.1 213.5L250.3 213.7L250.5 213.9L250.7 214.1L250.9 214.4L251.1 214.6L251.3 214.8L251.5 215.1L251.7 215.3L251.9 215.5L252.1 215.8L252.3 216.0L252.5 216.3L252.7 216.6L252.9 216.8L253.1 217.1L253.3 217.4L253.5 217.7L253.7 218.0L253.9 218.3L254.1 218.6L254.3 218.9L254.5 219.2L254.7 219.6L254.9 219.9L255.1 220.3L255.3 220.6L255.5 221.0L255.7 221.4L255.9 221.8L256.1 222.2L256.3 222.6L256.5 223.0L256.7 223.5L256.9 223.9L257.1 224.4L257.3 224.9L257.5 225.4L257.7 225.9L257.9 226.5L258.1 227.1L258.3 227.7L258.5 228.3L258.7 228.9L258.9 229.6L259.1 230.3L259.3 231.1L259.5 231.9L259.7 232.7L259.9 233.6L260.1 234.6L260.3 235.6L260.5 236.7L260.7 237.9L260.9 239.2L261.1 240.7L261.3 242.3L261.5 244.1L261.7 246.3L261.9 248.9L262.1 252.2L262.3 256.7L262.5 264.3L262.7 276.2L262.9 264.9L263.1 258.0L263.3 254.1L263.5 251.4L263.7 249.5L263.9 248.0L264.1 246.8L264.3 245.8L264.5 245.1L264.7 244.5L264.9 244.1L265.1 243.8L265.3 243.6L265.5 243.6L265.7 243.6L265.9 243.8L266.1 244.1L266.3 244.6L266.5 245.3L266.7 246.1L266.9 247.3L267.1 248.8L267.3 250.9L267.5 253.9L267.7 258.7L267.9 268.7L268.0 268.7L268.1 268.7L268.3 257.3L268.5 251.5L268.7 247.5L268.9 244.4L269.1 241.9L269.3 239.7L269.5 237.8L269.7 236.1L269.9 234.6L270.1 233.1L270.3 231.8L270.5 230.6L270.7 229.4L270.9 228.3L271.1 227.3L271.3 226.3L271.5 225.3L271.7 224.4L271.9 223.5L272.1 222.7L272.3 221.9L272.5 221.1L272.7 220.3L272.9 219.6L273.1 218.9L273.3 218.2L273.5 217.5L273.7 216.9L273.9 216.2L274.1 215.6L274.3 215.0L274.5 214.4L274.7 213.8L274.9 213.2L275.1 212.6L275.3 212.1L275.5 211.5L275.7 211.0L275.9 210.5L276.1 210.0L276.3 209.5L276.5 209.0L276.7 208.5L276.9 208.0L277.1 207.5L277.3 207.1L277.5 206.6L277.7 206.1L277.9 205.7L278.1 205.3L278.3 204.8L278.5 204.4L278.7 204.0L278.9 203.5L279.1 203.1L279.3 202.7L279.5 202.3L279.7 201.9L279.9 201.5L280.1 201.1L280.3 200.7L280.5 200.3L280.7 200.0L280.9 199.6L281.1 199.2L281.3 198.8L281.5 198.5L281.7 198.1L281.9 197.8L282.1 197.4L282.3 197.0L282.5 196.7L282.7 196.3L282.9 196.0L283.1 195.7L283.3 195.3L283.5 195.0L283.7 194.7L283.9 194.3L284.1 194.0L284.3 193.7L284.5 193.3L284.7 193.0L284.9 192.7L285.1 192.4L285.3 192.1L285.5 191.8L285.7 191.4L285.9 191.1L286.1 190.8L286.3 190.5L286.5 190.2L286.7 189.9L286.9 189.6L287.1 189.3L287.3 189.0L287.5 188.7L287.7 188.4L287.9 188.2L288.1 187.9L288.3 187.6L288.5 187.3L288.7 187.0L288.9 186.7L289.1 186.4L289.3 186.2L289.5 185.9L289.7 185.6L289.9 185.3L290.1 185.1L290.3 184.8L290.5 184.5L290.7 184.2L290.9 184.0L291.1 183.7L291.3 183.4L291.5 183.2L291.7 182.9L291.9 182.6L292.1 182.4L292.3 182.1L292.5 181.9L292.7 181.6L292.9 181.3L293.1 181.1L293.3 180.8L293.5 180.6L293.7 180.3L293.9 180.1L294.1 179.8L294.3 179.6L294.5 179.3L294.7 179.1L294.9 178.8L295.1 178.6L295.3 178.3L295.5 178.1L295.7 177.8L295.9 177.6L296.1 177.3L296.3 177.1L296.5 176.8L296.7 176.6L296.9 176.4L297.1 176.1L297.3 175.9L297.5 175.6L297.7 175.4L297.9 175.2L298.1 174.9L298.3 174.7L298.5 174.5L298.7 174.2L298.9 174.0L299.1 173.8L299.3 173.5L299.5 173.3L299.7 173.1L299.9 172.8L300.1 172.6L300.3 172.4L300.5 172.2L300.7 171.9L300.9 171.7L301.1 171.5L301.3 171.2L301.5 171.0L301.7 170.8L301.9 170.6L302.1 170.3L302.3 170.1L302.5 169.9L302.7 169.7L302.9 169.5L303.1 169.2L303.3 169.0L303.5 168.8L303.7 168.6L303.9 168.3L304.1 168.1L304.3 167.9L304.5 167.7L304.7 167.5L304.9 167.3L305.1 167.0L305.3 166.8L305.5 166.6L305.7 166.4L305.9 166.2L306.1 166.0L306.3 165.7L306.5 165.5L306.7 165.3L306.9 165.1L307.1 164.9L307.3 164.7L307.5 164.5L307.7 164.3L307.9 164.0L308.1 163.8L308.3 163.6L308.5 163.4L308.7 163.2L308.9 163.0L309.1 162.8L309.3 162.6L309.5 162.4L309.7 162.2L309.9 161.9L310.1 161.7L310.3 161.5L310.5 161.3L310.7 161.1L310.9 160.9L311.1 160.7L311.3 160.5L311.5 160.3L311.7 160.1L311.9 159.9L312.1 159.7L312.3 159.5L312.5 159.3L312.7 159.1L312.9 158.9L313.1 158.7L313.3 158.5L313.5 158.3L313.7 158.1L313.9 157.8L314.1 157.6L314.3 157.4L314.5 157.2L314.7 157.0L314.9 156.8L315.1 156.6L315.3 156.4L315.5 156.2L315.7 156.0L315.9 155.8L316.1 155.6L316.3 155.4L316.5 155.2L316.7 155.0L316.9 154.8L317.1 154.6L317.3 154.4L317.5 154.3L317.7 154.1L317.9 153.9L318.1 153.7L318.3 153.5L318.5 153.3L318.7 153.1L318.9 152.9L319.1 152.7L319.3 152.5L319.5 152.3L319.7 152.1L319.9 151.9L320.1 151.7L320.3 151.5L320.5 151.3L320.7 151.1L320.9 150.9L321.1 150.7L321.3 150.5L321.5 150.3L321.7 150.1L321.9 149.9L322.1 149.8L322.3 149.6L322.5 149.4L322.7 149.2L322.9 149.0L323.1 148.8L323.3 148.6L323.5 148.4L323.7 148.2L323.9 148.0L324.1 147.8L324.3 147.6L324.5 147.4L324.7 147.3L324.9 147.1L325.1 146.9L325.3 146.7L325.5 146.5L325.7 146.3L325.9 146.1L326.1 145.9L326.3 145.7L326.5 145.5L326.7 145.3L326.9 145.2L327.1 145.0L327.3 144.8L327.5 144.6L327.7 144.4L327.9 144.2L328.1 144.0L328.3 143.8L328.5 143.6L328.7 143.5L328.9 143.3L329.1 143.1L329.3 142.9L329.5 142.7L329.7 142.5L329.9 142.3L330.1 142.1L330.3 141.9L330.5 141.8L330.7 141.6L330.9 141.4L331.1 141.2L331.3 141.0L331.5 140.8L331.7 140.6L331.9 140.4L332.1 140.3L332.3 140.1L332.5 139.9L332.7 139.7L332.9 139.5L333.1 139.3L333.3 139.1L333.5 139.0L333.7 138.8L333.9 138.6L334.1 138.4L334.3 138.2L334.5 138.0L334.7 137.8L334.9 137.7L335.1 137.5L335.3 137.3L335.5 137.1L335.7 136.9L335.9 136.7L336.0 136.6L336.2 136.5L336.4 136.3L336.6 136.1L336.8 135.9L337.0 135.8L337.2 135.6L337.4 135.4L337.6 135.2L337.8 135.1L338.0 134.9L338.2 134.7L338.4 134.6L338.6 134.4L338.8 134.2L339.0 134.0L339.2 133.9L339.4 133.7L339.6 133.5L339.8 133.4L340.0 133.2L340.2 133.0L340.4 132.9L340.6 132.7L340.8 132.5L341.0 132.4L341.2 132.2L341.4 132.0L341.6 131.9L341.8 131.7L342.0 131.5L342.2 131.4L342.4 131.2L342.6 131.1L342.8 130.9L343.0 130.7L343.2 130.6L343.4 130.4L343.6 130.2L343.8 130.1L344.0 129.9L344.2 129.8L344.4 129.6L344.6 129.4L344.8 129.3L345.0 129.1L345.2 129.0L345.4 128.8L345.6 128.6L345.8 128.5L346.0 128.3L346.2 128.2L346.4 128.0L346.6 127.8L346.8 127.7L347.0 127.5L347.2 127.4L347.4 127.2L347.6 127.0L347.8 126.9L348.0 126.7L348.2 126.6L348.4 126.4L348.6 126.2L348.8 126.1L349.0 125.9L349.2 125.8L349.4 125.6L349.6 125.5L349.8 125.3L350.0 125.1L350.2 125.0L350.4 124.8L350.6 124.7L350.8 124.5L351.0 124.3L351.2 124.2L351.4 124.0L351.6 123.9L351.8 123.7L352.0 123.6L352.2 123.4L352.4 123.2L352.6 123.1L352.8 122.9L353.0 122.8L353.2 122.6L353.4 122.4L353.6 122.3L353.8 122.1L354.0 122.0L354.2 121.8L354.4 121.6L354.6 121.5L354.8 121.3L355.0 121.2L355.2 121.0L355.4 120.8L355.6 120.7L355.8 120.5L356.0 120.4L356.2 120.2L356.4 120.0L356.6 119.9L356.8 119.7L357.0 119.6L357.2 119.4L357.4 119.2L357.6 119.1L357.8 118.9L358.0 118.8L358.2 118.6L358.4 118.5L358.6 118.3L358.8 118.1L359.0 118.0L359.2 117.8L359.4 117.7L359.6 117.5L359.8 117.3L360.0 117.2L360.2 117.0L360.4 116.9L360.6 116.7L360.8 116.6L361.0 116.4L361.2 116.2L361.4 116.1L361.6 115.9L361.8 115.8L362.0 115.6L362.2 115.5L362.4 115.3L362.6 115.1L362.8 115.0L363.0 114.8L363.2 114.7L363.4 114.5L363.6 114.4L363.8 114.2L364.0 114.1L364.2 113.9L364.4 113.8L364.6 113.6L364.8 113.4L365.0 113.3L365.2 113.1L365.4 113.0L365.6 112.8L365.8 112.7L366.0 112.5L366.2 112.4L366.4 112.2L366.6 112.1L366.8 111.9L367.0 111.8L367.2 111.6L367.4 111.5L367.6 111.3L367.8 111.2L368.0 111.0L368.2 110.9L368.4 110.7L368.6 110.6L368.8 110.4L369.0 110.3L369.2 110.2L369.4 110.0L369.6 109.9L369.8 109.7L370.0 109.6L370.2 109.4L370.4 109.3L370.6 109.1L370.8 109.0L371.0 108.8L371.2 108.7L371.4 108.5L371.6 108.4L371.8 108.2L372.0 108.1L372.2 107.9L372.4 107.8L372.6 107.6L372.8 107.5L373.0 107.3L373.2 107.2L373.4 107.0L373.6 106.9L373.8 106.8L374.0 106.6L374.2 106.5L374.4 106.3L374.6 106.2L374.8 106.0L375.0 105.9L375.2 105.7L375.4 105.6L375.6 105.4L375.8 105.3L376.0 105.2L376.2 105.0L376.4 104.9L376.6 104.7L376.8 104.6L377.0 104.5L377.2 104.3L377.4 104.2L377.6 104.1L377.8 103.9L378.0 103.8L378.2 103.7L378.4 103.5L378.6 103.4L378.8 103.3L379.0 103.1L379.2 103.0L379.4 102.9L379.6 102.8L379.8 102.6L380.0 102.5L380.2 102.4L380.4 102.3L380.6 102.2L380.8 102.0L381.0 101.9L381.2 101.8L381.4 101.7L381.6 101.6L381.8 101.5L382.0 101.4L382.2 101.3L382.4 101.2L382.6 101.0L382.8 100.9L383.0 100.8L383.2 100.7L383.4 100.6L383.6 100.5L383.8 100.4L384.0 100.3L384.2 100.2L384.4 100.1L384.6 100.0L384.8 99.9L385.0 99.8L385.2 99.7L385.4 99.6L385.6 99.5L385.8 99.4L386.0 99.3L386.2 99.2L386.4 99.1L386.6 99.1L386.8 99.0L387.0 98.9L387.2 98.8L387.4 98.8L387.6 98.7L387.8 98.7L388.0 98.6L388.2 98.5L388.4 98.5L388.6 98.4L388.8 98.4L389.0 98.4L389.2 98.3L389.4 98.3L389.6 98.2L389.8 98.2L390.0 98.1L390.2 98.1L390.4 98.0L390.6 98.0L390.8 98.0L391.0 97.9L391.2 97.9L391.4 97.8L391.6 97.8L391.8 97.8L392.0 97.8L392.2 97.7L392.4 97.7L392.6 97.7L392.8 97.7L393.0 97.6L393.2 97.6L393.4 97.6L393.6 97.6L393.7 97.6L393.8 97.6L393.9 97.6L394.0 97.6L394.1 97.6L394.2 97.6L394.3 97.6L394.4 97.6L394.5 97.6L394.6 97.6L394.7 97.6L394.8 97.7L394.9 97.7L395.0 97.7L395.1 97.7L395.2 97.7L395.3 97.7L395.4 97.7L395.5 97.7L395.6 97.8L395.7 97.8L395.8 97.8L395.9 97.8L396.0 97.8L396.1 97.9L396.2 97.9L396.3 97.9L396.4 97.9L396.5 97.9L396.6 98.0L396.7 98.0L396.8 98.0L396.9 98.1L397.0 98.1L397.1 98.1L397.2 98.2L397.3 98.2L397.4 98.2L397.5 98.3L397.6 98.3L397.7 98.3L397.8 98.4L397.9 98.4L398.0 98.5L398.1 98.5L398.2 98.6L398.3 98.6L398.4 98.6L398.5 98.7L398.6 98.7L398.7 98.8L398.8 98.8L398.9 98.9L399.0 99.0L399.1 99.0L399.2 99.1L399.3 99.1L399.4 99.2L399.5 99.3L399.6 99.3L399.7 99.4L399.8 99.5L399.9 99.5L400.0 99.6L400.1 99.7L400.2 99.7L400.3 99.8L400.4 99.9L400.5 100.0L400.6 100.1L400.7 100.2L400.8 100.2L400.9 100.3L401.0 100.4L401.1 100.5L401.2 100.6L401.3 100.7L401.4 100.8L401.5 100.9L401.6 101.0L401.7 101.1L401.8 101.2L401.9 101.3L402.0 101.4L402.1 101.6L402.2 101.7L402.3 101.8L402.4 101.9L402.5 102.1L402.6 102.2L402.7 102.3L402.8 102.5L402.9 102.6L403.0 102.7L403.1 102.9L403.2 103.0L403.3 103.2L403.4 103.4L403.5 103.5L403.6 103.7L403.7 103.9L403.8 104.0L403.9 104.2L404.0 104.4L404.1 104.6L404.2 104.8L404.3 105.0L404.4 105.2L404.5 105.4L404.6 105.6L404.7 105.9L404.8 106.1L404.9 106.3L405.0 106.6L405.1 106.8L405.2 107.1L405.3 107.4L405.4 107.7L405.5 108.0L405.6 108.3L405.7 108.6L405.8 108.9L405.9 109.2L406.0 109.6L406.1 109.9L406.2 110.3L406.3 110.7L406.4 111.1L406.5 111.6L406.6 112.0L406.7 112.5L406.8 113.0L406.9 113.5L407.0 114.1L407.1 114.7L407.2 115.3L407.3 116.0L407.4 116.8L407.5 117.5L407.6 118.4L407.7 119.3L407.8 120.4L407.9 121.5L408.0 122.8L408.1 124.3L408.2 126.1L408.3 128.2L408.4 130.8L408.5 134.3L408.6 139.7L408.7 151.3L408.7 158.0L408.9 154.6L409.1 144.0L409.3 138.8L409.6 135.3L409.8 132.7L410.0 130.6L410.3 128.9L410.5 127.4L410.7 126.2L410.9 125.2L411.2 124.3L411.4 123.5L411.6 122.8L411.9 122.3L412.1 121.8L412.3 121.5L412.5 121.2L412.8 121.1L413.0 121.0L413.2 121.0L413.5 121.2L413.7 121.4L413.9 121.8L414.1 122.2L414.4 122.9L414.6 123.6L414.8 124.6L415.1 125.8L415.3 127.3L415.5 129.1L415.7 131.6L416.0 135.0L416.2 140.2L416.4 151.4L416.7 148.2L416.9 136.4L417.1 131.1L417.3 127.6L417.6 125.1L417.8 123.2L418.0 121.7L418.3 120.4L418.5 119.4L418.7 118.6L418.9 117.9L419.2 117.4L419.4 117.0L419.6 116.7L419.9 116.5L420.1 116.4L420.3 116.4L420.5 116.5L420.8 116.6L421.0 116.9L421.2 117.2L421.5 117.6L421.7 118.1L421.9 118.6L422.1 119.3L422.4 120.0L422.6 120.9L422.8 121.8L423.1 122.8L423.3 124.0L423.5 125.4L423.7 127.0L424.0 128.8L424.2 131.1L424.4 134.0L424.7 137.9L424.9 144.1L425.1 160.9L425.3 140.9L425.6 132.1L425.8 127.5L426.0 124.4L426.3 122.1L426.5 120.2L426.7 118.7L426.9 117.4L427.2 116.3L427.4 115.3L427.6 114.4L427.9 113.7L428.1 113.0L428.3 112.3L428.5 111.8L428.8 111.2L429.0 110.8L429.2 110.3L429.5 109.9L429.7 109.6L429.9 109.3L430.1 109.0L430.4 108.8L430.6 108.6L430.8 108.4L431.1 108.3L431.3 108.2L431.5 108.2L431.7 108.3L432.0 108.4L432.2 108.6L432.4 108.8L432.7 109.2L432.9 109.7L433.1 110.3L433.3 111.0L433.6 112.0L433.8 113.2L434.0 114.7L434.3 116.7L434.5 119.4L434.7 123.3L434.9 130.1L435.2 159.6L435.4 141.0L435.6 133.3L435.9 129.0L436.1 126.0L436.3 123.7L436.5 122.0L436.8 120.7L437.0 119.7L437.2 119.0L437.5 118.6L437.7 118.3L437.9 118.3L438.1 118.6L438.4 119.1L438.6 119.9L438.8 121.0L439.1 122.6L439.3 124.8L439.5 127.9L439.7 132.6L440.0 142.2L440.2 147.0L440.4 132.6L440.7 126.9L440.9 123.4L441.1 121.0L441.3 119.3L441.6 118.0L441.8 117.0L442.0 116.3L442.3 115.9L442.5 115.7L442.7 115.6L442.9 115.7L443.2 116.0L443.4 116.5L443.6 117.1L443.9 117.9L444.1 118.8L444.3 120.0L444.5 121.4L444.8 123.2L445.0 125.3L445.2 128.2L445.5 132.1L445.7 138.5L445.9 157.5L446.1 137.1L446.4 128.7L446.6 124.2L446.8 121.2L447.1 118.9L447.3 117.1L447.5 115.6L447.7 114.4L448.0 113.4L448.2 112.5L448.4 111.8L448.7 111.2L448.9 110.8L449.1 110.4L449.3 110.2L449.6 110.1L449.8 110.2L450.0 110.4L450.3 110.8L450.5 111.4L450.7 112.3L450.9 113.6L451.2 115.3L451.4 117.7L451.6 121.3L451.9 127.6L452.1 148.3L452.3 137.5L452.5 129.3L452.8 124.9L453.0 122.0L453.2 119.9L453.5 118.6L453.7 117.7L453.9 117.2L454.1 117.2L454.4 117.6L454.6 118.5L454.8 119.9L455.1 122.1L455.3 125.5L455.5 131.3L455.7 146.7L456.0 136.0L456.2 126.9L456.4 122.4L456.7 119.6L456.9 117.8L457.1 116.5L457.3 115.7L457.6 115.3L457.8 115.3L458.0 115.5L458.3 116.0L458.5 116.8L458.7 117.9L458.9 119.4L459.2 121.4L459.4 124.1L459.6 127.8L459.9 133.9L460.1 150.3L460.3 135.3L460.5 126.5L460.8 121.9L461.0 118.8L461.2 116.6L461.5 114.9L461.7 113.6L461.9 112.6L462.1 111.9L462.4 111.4L462.6 111.2L462.8 111.2L463.1 111.5L463.3 112.2L463.5 113.3L463.7 114.9L464.0 117.5L464.2 121.7L464.4 129.9L464.7 148.9L464.9 130.5L465.1 124.4L465.3 120.8L465.6 118.6L465.8 117.2L466.0 116.6L466.3 116.6L466.5 117.3L466.7 118.8L466.9 121.4L467.2 125.7L467.4 134.6L467.6 143.1L467.9 127.4L468.1 121.8L468.3 118.7L468.5 116.8L468.8 115.6L469.0 115.1L469.2 115.1L469.5 115.6L469.7 116.5L469.9 117.9L470.1 119.9L470.4 122.9L470.6 127.4L470.8 136.1L471.1 145.3L471.3 127.9L471.5 121.8L471.7 118.2L472.0 115.8L472.2 114.1L472.4 112.9L472.7 112.1L472.9 111.8L473.1 111.8L473.3 112.4L473.6 113.6L473.8 115.6L474.0 118.9L474.3 125.3L474.5 151.6L474.7 131.0L474.9 123.5L475.2 119.6L475.4 117.4L475.6 116.3L475.9 116.2L476.1 117.0L476.3 119.0L476.5 122.7L476.8 130.2L477.0 151.1L477.2 127.0L477.5 120.8L477.7 117.6L477.9 115.9L478.1 115.0L478.4 115.0L478.6 115.6L478.8 116.9L479.1 119.0L479.3 122.3L479.5 127.9L479.7 142.0L480.0 132.7L480.2 123.1L480.4 118.5L480.7 115.6L480.9 113.8L481.1 112.7L481.3 112.2L481.6 112.3L481.8 113.2L482.0 115.0L482.3 118.4L482.5 125.3L482.7 159.8L482.9 127.7L483.2 121.0L483.4 117.7L483.6 116.1L483.9 115.9L484.1 116.9L484.3 119.6L484.5 125.1L484.8 142.0L485.0 129.3L485.2 121.0L485.5 117.3L485.7 115.5L485.9 114.8L486.1 115.2L486.4 116.4L486.6 118.8L486.8 122.8L487.1 130.6L487.3 147.4L487.5 125.4L487.7 119.1L488.0 115.7L488.2 113.7L488.4 112.7L488.7 112.5L488.9 113.3L489.1 115.3L489.3 119.4L489.6 129.5L489.8 135.2L490.0 122.9L490.3 118.2L490.5 116.1L490.7 115.7L490.9 117.0L491.2 120.6L491.4 129.1L491.6 138.2L491.9 122.7L492.1 117.7L492.3 115.4L492.5 114.8L492.8 115.3L493.0 117.2L493.2 120.7L493.4 127.7L493.7 162.7L493.9 125.1L494.1 118.4L494.4 115.0L494.6 113.3L494.8 112.7L495.0 113.3L495.3 115.5L495.5 120.4L495.7 135.9L496.0 128.4L496.2 119.9L496.4 116.5L496.6 115.5L496.9 116.6L497.1 120.4L497.3 130.7L497.6 131.9L497.8 120.4L498.0 116.3L498.2 114.8L498.5 115.0L498.7 116.8L498.9 120.6L499.2 129.2L499.4 138.0L499.6 121.9L499.8 116.5L500.1 113.8L500.3 112.9L500.5 113.4L500.8 116.0L501.0 122.4L501.2 154.8L501.4 123.5L501.7 117.5L501.9 115.4L502.1 116.0L502.4 119.6L502.6 130.4L502.8 129.8L503.0 119.2L503.3 115.6L503.5 114.7L503.7 115.7L504.0 119.0L504.2 126.7L504.4 141.5L504.6 121.6L504.9 116.0L505.1 113.5L505.3 113.1L505.6 114.6L505.8 119.4L506.0 137.5L506.2 125.1L506.5 117.7L506.7 115.3L506.9 116.2L507.2 120.9L507.4 140.4L507.6 123.8L507.8 116.9L508.1 114.7L508.3 115.2L508.5 118.2L508.8 125.8L509.0 139.6L509.2 120.6L509.4 115.3L509.7 113.3L509.9 113.6L510.1 116.8L510.4 127.2L510.6 128.9L510.8 118.3L511.0 115.3L511.3 116.1L511.5 121.7L511.7 165.6L512.0 121.1L512.2 115.7L512.4 114.6L512.6 116.5L512.9 122.2L513.1 152.4L513.3 122.0L513.6 115.5L513.8 113.3L514.0 113.9L514.2 118.3L514.5 137.7L514.7 122.9L514.9 116.3L515.2 115.2L515.4 118.8L515.6 134.8L515.8 123.1L516.1 116.1L516.3 114.6L516.5 116.6L516.8 123.6L517.0 139.3L517.2 119.2L517.4 114.3L517.7 113.4L517.9 115.9L518.1 126.4L518.4 126.6L518.6 116.9L518.8 115.1L519.0 118.5L519.3 136.5L519.5 121.8L519.7 115.5L520.0 114.8L520.2 118.2L520.4 130.9L520.6 124.6L520.9 115.8L521.1 113.4L521.3 115.0L521.6 123.4L521.8 128.6L522.0 117.0L522.2 115.1L522.5 119.3L522.7 163.8L522.9 119.3L523.2 114.8L523.4 115.6L523.6 122.0L523.8 137.9L524.1 118.0L524.3 113.7L524.5 114.3L524.8 121.2L525.0 131.0L525.2 117.0L525.4 115.1L525.7 120.2L525.9 137.6L526.1 117.5L526.4 114.5L526.6 117.1L526.8 129.6L527.0 123.1L527.3 114.9L527.5 113.6L527.7 118.3L528.0 144.0L528.2 117.9L528.4 114.9L528.6 119.9L528.9 135.7L529.1 116.9L529.3 114.6L529.6 118.5L529.8 145.2L530.0 118.9L530.2 113.8L530.5 115.0L530.7 126.9L530.9 122.0L531.2 115.1L531.4 117.4L531.6 146.9L531.8 118.1L532.1 114.5L532.3 118.1L532.5 147.3L532.8 118.3L533.0 113.6L533.2 116.1L533.4 140.2L533.7 118.4L533.9 114.9L534.1 121.8L534.4 125.7L534.6 115.2L534.8 115.7L535.0 127.0L535.3 121.8L535.5 114.1L535.7 115.1L536.0 131.2L536.2 119.1L536.4 114.9L536.6 122.2L536.9 123.9L537.1 114.8L537.3 116.6L537.6 136.8L537.8 118.2L538.0 113.6L538.2 118.1L538.5 130.7L538.7 115.5L538.9 117.0L539.2 146.5L539.4 116.2L539.6 115.2L539.8 126.5L540.1 120.6L540.3 113.8L540.5 117.2L540.8 132.7L541.0 115.5L541.2 117.4L541.4 135.0L541.7 115.4L541.9 116.0L542.1 137.4L542.4 117.2L542.6 113.8L542.8 123.1L543.0 120.4L543.3 114.8L543.5 126.0L543.7 118.9L544.0 114.6L544.2 123.8L544.4 120.8L544.6 113.7L544.9 119.5L545.1 123.3L545.3 114.7L545.6 124.0L545.8 119.2L546.0 114.6L546.2 125.3L546.5 119.2L546.7 113.8L546.9 123.4L547.2 119.0L547.4 115.3L547.6 143.7L547.8 115.8L548.1 116.5L548.3 139.6L548.5 114.8L548.8 116.2L549.0 130.1L549.2 114.8L549.4 123.0L549.7 118.6L549.9 115.0L550.1 134.3L550.4 116.0L550.6 115.1L550.8 137.8L551.0 114.9L551.3 122.3L551.5 118.5L551.7 115.2L552.0 144.8L552.2 115.1L552.4 116.5L552.6 125.6L552.9 114.7L553.1 134.2L553.3 115.5L553.6 118.0L553.8 124.1L554.0 113.8L554.2 126.2L554.5 116.4L554.7 118.5L554.9 120.7L555.2 114.9L555.4 150.4L555.6 114.6L555.8 118.8L556.1 119.6L556.3 116.1L556.5 125.9L556.8 114.5L557.0 133.2L557.2 115.1L557.4 118.2L557.7 119.6L557.9 116.3L558.1 123.7L558.4 114.7L558.6 167.5L558.8 114.2L559.0 122.4L559.3 116.5L559.5 120.0L559.7 117.6L560.0 117.0L560.2 122.4L560.4 114.3L560.6 134.9L560.9 114.7L561.1 141.2L561.3 114.4L561.6 134.2L561.8 114.4L562.0 123.1L562.2 115.7L562.5 123.8L562.7 115.5L562.9 121.6L563.2 116.3L563.4 118.1L563.6 117.7L563.8 119.7L564.1 116.6L564.3 119.6L564.5 117.1L564.8 117.6L565.0 117.7L565.2 120.3L565.4 116.0L565.7 121.6L565.9 115.7L566.1 120.7L566.4 115.6L566.6 128.0L566.8 114.5L567.0 135.2L567.3 114.0L567.5 147.7L567.7 114.7L568.0 125.9L568.2 115.6L568.4 121.3L568.6 116.0L568.9 118.2L569.1 121.5L569.3 115.0L569.6 131.2L569.8 114.0L570.0 141.2L570.2 115.2L570.5 119.8L570.7 118.6L570.9 115.9L571.2 124.0L571.4 114.6L571.6 129.2L571.8 115.8L572.1 118.7L572.3 119.2L572.5 115.1L572.8 141.8L573.0 115.2L573.2 119.7L573.4 118.8L573.7 115.0L573.9 135.7L574.1 115.7L574.4 117.9L574.6 122.0L574.8 114.5L575.0 123.7L575.3 118.3L575.5 115.1L575.7 144.6L576.0 115.6L576.2 116.5L576.4 130.4L576.6 114.1L576.9 120.1L577.1 125.0L577.3 114.5L577.6 120.8L577.8 120.5L578.0 114.5L578.2 120.3L578.5 122.9L578.7 114.0L578.9 121.2L579.2 125.5L579.4 114.7L579.6 118.1L579.8 127.6L580.1 115.4L580.3 115.7L580.5 140.3L580.8 116.4L581.0 114.8L581.2 121.9L581.4 123.8L581.7 114.2L581.9 117.2L582.1 138.2L582.4 118.3L582.6 114.1L582.8 120.4L583.0 136.3L583.3 116.7L583.5 114.4L583.7 121.9L584.0 133.0L584.2 116.7L584.4 114.3L584.6 120.3L584.9 150.4L585.1 118.3L585.3 114.1L585.6 117.1L585.8 127.3L586.0 124.1L586.2 115.0L586.5 114.7L586.7 117.7L586.9 135.7L587.2 120.7L587.4 115.7L587.6 114.4L587.8 117.1L588.1 129.2L588.3 130.6L588.5 118.3L588.8 114.3L589.0 114.9L589.2 117.4L589.4 127.0L589.7 129.0L589.9 120.0L590.1 115.8L590.4 114.1L590.6 115.5L590.8 117.8L591.0 125.6L591.3 137.9L591.5 124.5L591.7 118.4L592.0 114.9L592.2 114.5L592.4 114.5L592.6 115.9L592.9 119.1L593.1 122.0L593.3 131.8L593.6 135.7L593.8 127.9L594.0 121.8L594.2 117.5L594.5 116.7L594.7 115.6L594.9 114.3L595.2 114.5L595.4 114.4L595.6 114.3L595.8 115.0L596.1 115.0L596.3 115.5L596.5 116.3L596.8 116.0L597.0 116.6L597.2 117.3L597.4 116.6L597.7 116.9L597.9 117.2L598.1 116.2L598.4 116.2L598.6 116.1L598.8 115.1L599.0 114.9L599.3 114.8L599.5 114.4L599.7 114.1L600.0 114.6L600.2 115.2L600.4 115.5L600.6 117.9L600.9 120.9L601.1 123.8L601.3 142.3L601.6 132.9L601.8 124.1L602.0 117.8L602.2 115.7L602.5 114.6L602.7 114.6L602.9 115.5L603.2 120.2L603.4 130.4L603.6 135.0L603.8 119.4L604.1 115.6L604.3 114.4L604.5 115.7L604.8 119.3L605.0 145.5L605.2 122.9L605.4 116.3L605.7 114.4L605.9 115.9L606.1 126.4L606.4 127.8L606.6 117.0L606.8 114.4L607.0 116.6L607.3 135.0L607.5 121.2L607.7 114.9L608.0 115.7L608.2 124.8L608.4 121.9L608.6 114.7L608.9 116.1L609.1 133.2L609.3 119.6L609.6 114.4L609.8 118.8L610.0 126.8L610.2 114.9L610.5 116.6L610.7 148.8L610.9 116.1L611.2 115.9L611.4 141.1L611.6 115.7L611.8 115.6L612.1 137.1L612.3 115.0L612.5 118.2L612.8 124.7L613.0 114.4L613.2 125.6L613.4 117.5L613.7 116.2L613.9 131.1L614.1 114.3L614.4 125.8L614.6 115.6L614.8 117.8L615.0 119.3L615.3 115.1L615.5 125.6L615.7 114.3L616.0 137.6L616.2 114.2L616.4 148.4L616.6 114.3L616.9 138.9L617.1 114.3L617.3 143.2L617.6 114.2L617.8 143.6L618.0 114.2L618.2 127.8L618.5 114.8L618.7 120.5L618.9 117.0L619.2 116.2L619.4 123.6L619.6 114.4L619.8 136.0L620.1 115.7L620.3 118.1L620.5 124.3L620.8 114.4L621.0 125.0L621.2 118.3L621.4 114.8L621.7 132.0L621.9 116.4L622.1 115.0L622.4 135.6L622.6 117.8L622.8 114.7L623.0 124.1L623.3 122.2L623.5 114.3L623.7 116.8L624.0 183.2L624.2 118.3L624.4 114.4L624.6 117.7L624.9 138.0L625.1 119.2L625.3 114.8L625.6 115.3L625.8 121.2L626.0 151.7L626.2 119.3L626.5 115.3L626.7 114.5L626.9 116.4L627.2 121.6L627.4 152.8L627.6 126.0L627.8 118.8L628.1 115.3L628.3 114.5L628.5 114.5L628.8 115.1L629.0 116.3L629.2 118.9L629.4 121.1L629.7 123.5L629.9 128.9L630.1 131.6L630.4 133.9L630.6 142.8L630.8 138.5L631.0 134.3L631.3 134.2L631.5 128.1L631.7 123.8L632.0 121.8L632.2 118.7L632.4 116.4L632.6 115.3L632.9 114.3L633.1 114.6L633.3 115.9L633.6 118.6L633.8 128.1L634.0 132.8L634.2 120.5L634.5 115.5L634.7 114.4L634.9 116.6L635.2 124.6L635.4 127.8L635.6 116.4L635.8 114.4L636.1 117.6L636.3 156.5L636.5 117.8L636.8 114.4L637.0 118.7L637.2 130.4L637.4 115.2L637.7 116.0L637.9 143.4L638.1 116.1L638.4 115.8L638.6 144.7L638.8 115.3L639.0 117.5L639.3 123.8L639.5 114.4L639.7 132.6L640.0 115.5L640.2 118.9L640.4 118.6L640.6 116.4L640.9 121.9L641.1 115.3L641.3 125.3L641.6 114.9L641.8 123.4L642.0 115.9L642.2 119.5L642.5 118.2L642.7 116.4L642.9 124.7L643.2 114.3L643.4 129.4L643.6 116.4L643.8 116.1L644.1 134.7L644.3 114.9L644.5 117.8L644.8 129.7L645.0 114.9L645.2 116.0L645.4 136.8L645.7 118.6L645.9 114.3L646.1 117.6L646.4 140.3L646.6 120.1L646.8 114.8L647.0 114.9L647.3 119.5L647.5 135.9L647.7 125.3L648.0 117.7L648.2 115.0L648.4 114.2L648.6 114.7L648.9 115.9L649.1 117.7L649.3 119.8L649.6 122.1L649.8 124.1L650.0 125.3L650.2 125.3L650.5 124.2L650.7 122.2L650.9 120.0L651.2 117.8L651.4 115.9L651.6 114.7L651.8 114.2L652.1 115.1L652.3 118.0L652.5 126.6L652.8 131.6L653.0 118.3L653.2 114.6L653.4 115.5L653.7 123.9L653.9 125.8L654.1 115.3L654.4 115.2L654.6 127.7L654.8 119.6L655.0 114.3L655.3 122.3L655.5 120.1L655.7 114.6L656.0 133.5L656.2 115.6L656.4 118.1L656.6 120.9L656.9 115.0L657.1 129.1L657.3 114.5L657.6 131.5L657.8 114.6L658.0 127.1L658.2 115.2L658.5 120.1L658.7 119.1L658.9 115.1L659.2 149.7L659.4 114.9L659.6 117.6L659.8 131.0L660.1 115.1L660.3 116.3L660.5 141.4L660.8 118.6L661.0 114.3L661.2 116.8L661.4 129.7L661.7 125.8L661.9 117.0L662.1 114.4L662.4 114.7L662.6 116.4L662.8 119.9L663.0 125.5L663.3 131.9L663.5 149.1L663.7 142.7L664.0 145.3L664.2 153.6L664.4 144.9L664.6 129.0L664.9 122.9L665.1 118.7L665.3 115.5L665.6 114.3L665.8 115.1L666.0 119.7L666.2 140.6L666.5 120.1L666.7 114.6L666.9 115.9L667.2 131.6L667.4 119.0L667.6 114.4"/>
<path class="c" stroke="#ff00b4" d="M116.7 311.0L116.9 311.0L117.1 311.0L117.3 311.0L117.5 311.0L117.7 311.0L117.9 311.0L118.1 311.0L118.3 311.0L118.5 311.0L118.7 311.0L118.9 311.0L119.1 311.0L119.3 311.0L119.5 311.0L119.7 311.0L119.9 311.0L120.1 311.0L120.3 311.0L120.5 311.0L120.7 311.0L120.9 311.0L121.1 311.0L121.3 311.0L121.5 311.0L121.7 311.0L121.9 311.0L122.1 311.0L122.3 311.0L122.5 311.0L122.7 311.0L122.9 311.0L123.1 311.0L123.3 311.0L123.5 311.0L123.7 311.0L123.9 311.0L124.1 311.0L124.3 311.0L124.5 311.0L124.7 311.0L124.9 311.0L125.1 311.0L125.3 311.0L125.5 311.0L125.7 311.0L125.9 311.0L126.1 311.0L126.3 311.0L126.5 311.0L126.7 311.0L126.9 311.0L127.1 311.0L127.3 311.0L127.5 311.0L127.7 311.0L127.9 311.0L128.1 311.0L128.3 311.0L128.5 311.0L128.7 311.0L128.9 311.0L129.1 311.0L129.3 311.0L129.5 311.0L129.7 311.0L129.9 311.0L130.1 311.0L130.3 311.0L130.5 311.0L130.7 311.0L130.9 311.0L131.1 311.0L131.3 311.0L131.5 311.0L131.7 311.0L131.9 311.0L132.1 311.0L132.3 311.0L132.5 311.0L132.7 311.0L132.9 311.0L133.1 311.0L133.3 311.0L133.5 311.0L133.7 311.0L133.9 311.0L134.1 311.0L134.3 311.0L134.5 311.0L134.7 311.0L134.9 311.0L135.1 311.0L135.3 311.0L135.5 311.0L135.7 311.0L135.9 311.1L136.1 311.1L136.3 311.1L136.5 311.1L136.7 311.1L136.9 311.1L137.1 311.1L137.3 311.1L137.5 311.1L137.7 311.1L137.9 311.1L138.1 311.1L138.3 311.1L138.5 311.1L138.7 311.1L138.9 311.1L139.1 311.1L139.3 311.1L139.5 311.1L139.7 311.1L139.9 311.1L140.1 311.1L140.3 311.1L140.5 311.1L140.7 311.1L140.9 311.1L141.1 311.1L141.3 311.1L141.5 311.1L141.7 311.1L141.9 311.1L142.1 311.1L142.3 311.1L142.5 311.1L142.7 311.1L142.9 311.1L143.1 311.1L143.3 311.1L143.5 311.1L143.7 311.1L143.9 311.1L144.1 311.1L144.3 311.1L144.5 311.1L144.7 311.1L144.9 311.1L145.1 311.1L145.3 311.1L145.5 311.1L145.7 311.1L145.9 311.1L146.1 311.1L146.3 311.1L146.5 311.1L146.7 311.1L146.9 311.1L147.1 311.1L147.3 311.1L147.5 311.1L147.7 311.1L147.9 311.1L148.1 311.2L148.3 311.2L148.5 311.2L148.7 311.2L148.9 311.2L149.1 311.2L149.3 311.2L149.5 311.2L149.7 311.2L149.9 311.2L150.1 311.2L150.3 311.2L150.5 311.2L150.7 311.2L150.9 311.2L151.1 311.2L151.3 311.2L151.5 311.2L151.7 311.2L151.9 311.2L152.1 311.2L152.3 311.2L152.5 311.2L152.7 311.2L152.9 311.2L153.1 311.2L153.3 311.2L153.5 311.2L153.7 311.2L153.9 311.2L154.1 311.2L154.3 311.2L154.5 311.2L154.7 311.2L154.9 311.2L155.1 311.2L155.3 311.2L155.5 311.2L155.7 311.2L155.9 311.2L156.1 311.3L156.3 311.3L156.5 311.3L156.7 311.3L156.9 311.3L157.1 311.3L157.3 311.3L157.5 311.3L157.7 311.3L157.9 311.3L158.1 311.3L158.3 311.3L158.5 311.3L158.7 311.3L158.9 311.3L159.1 311.3L159.3 311.3L159.5 311.3L159.7 311.3L159.9 311.3L160.1 311.3L160.3 311.3L160.5 311.3L160.7 311.3L160.9 311.3L161.1 311.3L161.3 311.3L161.5 311.3L161.7 311.3L161.9 311.3L162.1 311.4L162.3 311.4L162.5 311.4L162.7 311.4L162.9 311.4L163.1 311.4L163.3 311.4L163.5 311.4L163.7 311.4L163.9 311.4L164.1 311.4L164.3 311.4L164.5 311.4L164.7 311.4L164.9 311.4L165.1 311.4L165.3 311.4L165.5 311.4L165.7 311.4L165.9 311.4L166.1 311.4L166.3 311.4L166.5 311.4L166.7 311.4L166.9 311.5L167.1 311.5L167.3 311.5L167.5 311.5L167.7 311.5L167.9 311.5L168.1 311.5L168.3 311.5L168.5 311.5L168.7 311.5L168.9 311.5L169.1 311.5L169.3 311.5L169.5 311.5L169.7 311.5L169.9 311.5L170.1 311.5L170.3 311.5L170.5 311.5L170.7 311.5L170.9 311.6L171.1 311.6L171.3 311.6L171.5 311.6L171.7 311.6L171.9 311.6L172.1 311.6L172.3 311.6L172.5 311.6L172.7 311.6L172.9 311.6L173.1 311.6L173.3 311.6L173.5 311.6L173.7 311.6L173.9 311.6L174.1 311.6L174.3 311.7L174.5 311.7L174.7 311.7L174.9 311.7L175.1 311.7L175.3 311.7L175.5 311.7L175.7 311.7L175.9 311.7L176.1 311.7L176.3 311.7L176.5 311.7L176.7 311.7L176.9 311.7L177.1 311.8L177.3 311.8L177.5 311.8L177.7 311.8L177.9 311.8L178.1 311.8L178.3 311.8L178.5 311.8L178.7 311.8L178.9 311.8L179.1 311.8L179.3 311.8L179.5 311.8L179.7 311.8L179.9 311.9L180.1 311.9L180.3 311.9L180.5 311.9L180.7 311.9L180.9 311.9L181.1 311.9L181.3 311.9L181.5 311.9L181.7 311.9L181.9 311.9L182.1 312.0L182.3 312.0L182.5 312.0L182.7 312.0L182.9 312.0L183.1 312.0L183.3 312.0L183.5 312.0L183.7 312.0L183.9 312.0L184.1 312.0L184.3 312.1L184.5 312.1L184.7 312.1L184.9 312.1L185.1 312.1L185.3 312.1L185.5 312.1L185.7 312.1L185.9 312.1L186.1 312.1L186.3 312.2L186.5 312.2L186.7 312.2L186.9 312.2L187.1 312.2L187.3 312.2L187.5 312.2L187.7 312.2L187.9 312.2L188.1 312.3L188.3 312.3L188.5 312.3L188.7 312.3L188.9 312.3L189.1 312.3L189.3 312.3L189.5 312.3L189.7 312.4L189.9 312.4L190.1 312.4L190.3 312.4L190.5 312.4L190.7 312.4L190.9 312.4L191.1 312.4L191.3 312.5L191.5 312.5L191.7 312.5L191.9 312.5L192.1 312.5L192.3 312.5L192.5 312.5L192.7 312.6L192.9 312.6L193.1 312.6L193.3 312.6L193.5 312.6L193.7 312.6L193.9 312.6L194.1 312.7L194.3 312.7L194.5 312.7L194.7 312.7L194.9 312.7L195.1 312.7L195.3 312.7L195.5 312.8L195.7 312.8L195.9 312.8L196.1 312.8L196.3 312.8L196.5 312.8L196.7 312.9L196.9 312.9L197.1 312.9L197.3 312.9L197.5 312.9L197.7 313.0L197.9 313.0L198.1 313.0L198.3 313.0L198.5 313.0L198.7 313.0L198.9 313.1L199.1 313.1L199.3 313.1L199.5 313.1L199.7 313.1L199.9 313.2L200.1 313.2L200.3 313.2L200.5 313.2L200.7 313.2L200.9 313.3L201.1 313.3L201.3 313.3L201.5 313.3L201.7 313.3L201.9 313.4L202.1 313.4L202.3 313.4L202.5 313.4L202.7 313.4L202.9 313.5L203.1 313.5L203.3 313.5L203.5 313.5L203.7 313.6L203.9 313.6L204.1 313.6L204.3 313.6L204.5 313.7L204.7 313.7L204.9 313.7L205.1 313.7L205.3 313.8L205.5 313.8L205.7 313.8L205.9 313.8L206.1 313.9L206.3 313.9L206.5 313.9L206.7 313.9L206.9 314.0L207.1 314.0L207.3 314.0L207.5 314.0L207.7 314.1L207.9 314.1L208.1 314.1L208.3 314.2L208.5 314.2L208.7 314.2L208.9 314.2L209.1 314.3L209.3 314.3L209.5 314.3L209.7 314.4L209.9 314.4L210.1 314.4L210.3 314.5L210.5 314.5L210.7 314.5L210.9 314.6L211.1 314.6L211.3 314.6L211.5 314.7L211.7 314.7L211.9 314.7L212.1 314.8L212.3 314.8L212.5 314.8L212.7 314.9L212.9 314.9L213.1 314.9L213.3 315.0L213.5 315.0L213.7 315.0L213.9 315.1L214.1 315.1L214.3 315.2L214.5 315.2L214.7 315.2L214.9 315.3L215.1 315.3L215.3 315.4L215.5 315.4L215.7 315.4L215.9 315.5L216.1 315.5L216.3 315.6L216.5 315.6L216.7 315.6L216.9 315.7L217.1 315.7L217.3 315.8L217.5 315.8L217.7 315.9L217.9 315.9L218.1 316.0L218.3 316.0L218.5 316.0L218.7 316.1L218.9 316.1L219.1 316.2L219.3 316.2L219.5 316.3L219.7 316.3L219.9 316.4L220.1 316.4L220.3 316.5L220.5 316.5L220.7 316.6L220.9 316.6L221.1 316.7L221.3 316.8L221.5 316.8L221.7 316.9L221.9 316.9L222.1 317.0L222.3 317.0L222.5 317.1L222.7 317.1L222.9 317.2L223.1 317.3L223.3 317.3L223.5 317.4L223.7 317.4L223.9 317.5L224.1 317.6L224.3 317.6L224.5 317.7L224.7 317.8L224.9 317.8L225.1 317.9L225.3 318.0L225.5 318.0L225.7 318.1L225.9 318.2L226.1 318.2L226.3 318.3L226.5 318.4L226.7 318.4L226.9 318.5L227.1 318.6L227.3 318.7L227.5 318.7L227.7 318.8L227.9 318.9L228.1 319.0L228.3 319.0L228.5 319.1L228.7 319.2L228.9 319.3L229.1 319.4L229.3 319.5L229.5 319.5L229.7 319.6L229.9 319.7L230.1 319.8L230.3 319.9L230.5 320.0L230.7 320.1L230.9 320.1L231.1 320.2L231.3 320.3L231.5 320.4L231.7 320.5L231.9 320.6L232.1 320.7L232.3 320.8L232.5 320.9L232.7 321.0L232.9 321.1L233.1 321.2L233.3 321.3L233.5 321.4L233.7 321.5L233.9 321.6L234.1 321.7L234.3 321.9L234.5 322.0L234.7 322.1L234.9 322.2L235.1 322.3L235.3 322.4L235.5 322.6L235.7 322.7L235.9 322.8L236.1 322.9L236.3 323.0L236.5 323.2L236.7 323.3L236.9 323.4L237.1 323.6L237.3 323.7L237.5 323.8L237.7 324.0L237.9 324.1L238.1 324.3L238.3 324.4L238.5 324.5L238.7 324.7L238.9 324.8L239.1 325.0L239.3 325.1L239.5 325.3L239.7 325.5L239.9 325.6L240.1 325.8L240.3 325.9L240.5 326.1L240.7 326.3L240.9 326.5L241.1 326.6L241.3 326.8L241.5 327.0L241.7 327.2L241.9 327.4L242.1 327.5L242.3 327.7L242.5 327.9L242.7 328.1L242.9 328.3L243.1 328.5L243.3 328.7L243.5 329.0L243.7 329.2L243.9 329.4L244.1 329.6L244.3 329.8L244.5 330.1L244.7 330.3L244.9 330.5L245.1 330.8L245.3 331.0L245.5 331.3L245.7 331.5L245.9 331.8L246.1 332.0L246.3 332.3L246.5 332.6L246.7 332.9L246.9 333.2L247.1 333.4L247.3 333.7L247.5 334.0L247.7 334.4L247.9 334.7L248.1 335.0L248.3 335.3L248.5 335.7L248.7 336.0L248.9 336.4L249.1 336.7L249.3 337.1L249.5 337.5L249.7 337.8L249.9 338.2L250.1 338.7L250.3 339.1L250.5 339.5L250.7 339.9L250.9 340.4L251.1 340.9L251.3 341.3L251.5 341.8L251.7 342.3L251.9 342.9L252.1 343.4L252.3 344.0L252.5 344.6L252.7 345.2L252.9 345.8L253.1 346.4L253.3 347.1L253.5 347.8L253.7 348.6L253.9 349.3L254.1 350.2L254.3 351.0L254.5 351.9L254.7 352.9L254.9 353.9L255.1 355.0L255.3 356.2L255.5 357.5L255.7 358.9L255.9 360.5L256.1 362.2L256.3 364.3L256.5 366.6L256.7 369.6L256.9 373.4L257.1 379.1L257.3 390.9L257.4 406.9L257.5 391.2L257.7 380.0L257.9 375.0L258.1 371.9L258.3 369.6L258.5 367.9L258.7 366.5L258.9 365.4L259.1 364.6L259.3 363.9L259.5 363.3L259.7 362.8L259.9 362.5L260.1 362.2L260.3 362.1L260.5 362.0L260.7 362.0L260.9 362.0L261.1 362.2L261.3 362.4L261.5 362.7L261.7 363.1L261.9 363.6L262.1 364.2L262.3 365.0L262.5 365.8L262.7 366.9L262.9 368.2L263.1 369.9L263.3 371.9L263.5 374.7L263.7 378.7L263.9 385.8L264.1 397.0L264.3 385.4L264.5 377.9L264.7 373.5L264.9 370.3L265.1 367.8L265.3 365.8L265.5 364.1L265.7 362.6L265.9 361.3L266.1 360.1L266.3 359.1L266.5 358.1L266.7 357.3L266.9 356.5L267.1 355.8L267.3 355.1L267.5 354.5L267.7 354.0L267.9 353.5L268.1 353.1L268.3 352.7L268.5 352.4L268.7 352.1L268.9 351.9L269.1 351.7L269.3 351.6L269.5 351.5L269.7 351.5L269.9 351.6L270.1 351.7L270.3 351.9L270.5 352.2L270.7 352.6L270.9 353.1L271.1 353.7L271.3 354.5L271.5 355.6L271.7 356.9L271.9 358.7L272.1 361.2L272.3 364.9L272.5 371.6L272.7 388.7L272.9 370.6L273.1 362.8L273.3 358.0L273.5 354.5L273.7 351.7L273.9 349.3L274.1 347.2L274.3 345.3L274.5 343.6L274.7 342.1L274.9 340.6L275.1 339.2L275.3 337.9L275.5 336.7L275.7 335.6L275.9 334.4L276.1 333.4L276.3 332.4L276.5 331.4L276.7 330.4L276.9 329.5L277.1 328.6L277.3 327.7L277.5 326.8L277.7 326.0L277.9 325.2L278.1 324.4L278.3 323.6L278.5 322.9L278.7 322.1L278.9 321.4L279.1 320.7L279.3 320.0L279.5 319.3L279.7 318.6L279.9 318.0L280.1 317.3L280.3 316.6L280.5 316.0L280.7 315.4L280.9 314.8L281.1 314.1L281.3 313.5L281.5 312.9L281.7 312.4L281.9 311.8L282.1 311.2L282.3 310.6L282.5 310.1L282.7 309.5L282.9 309.0L283.0 308.7L283.2 308.2L283.4 307.7L283.6 307.1L283.8 306.6L284.0 306.1L284.2 305.7L284.4 305.2L284.6 304.7L284.8 304.2L285.0 303.7L285.2 303.3L285.4 302.8L285.6 302.4L285.8 301.9L286.0 301.5L286.2 301.0L286.4 300.6L286.6 300.1L286.8 299.7L287.0 299.3L287.2 298.8L287.4 298.4L287.6 298.0L287.8 297.5L288.0 297.1L288.2 296.7L288.4 296.3L288.6 295.8L288.8 295.4L289.0 295.0L289.2 294.6L289.4 294.2L289.6 293.7L289.8 293.3L290.0 292.9L290.2 292.5L290.4 292.1L290.6 291.7L290.8 291.2L291.0 290.8L291.2 290.4L291.4 290.0L291.6 289.6L291.8 289.2L292.0 288.8L292.2 288.4L292.4 288.0L292.6 287.6L292.8 287.2L293.0 286.8L293.2 286.4L293.4 286.0L293.6 285.6L293.8 285.2L294.0 284.8L294.2 284.4L294.4 284.0L294.6 283.6L294.8 283.2L295.0 282.8L295.2 282.4L295.4 282.1L295.6 281.7L295.8 281.3L296.0 280.9L296.2 280.5L296.4 280.1L296.6 279.8L296.8 279.4L297.0 279.0L297.2 278.6L297.4 278.2L297.6 277.9L297.8 277.5L298.0 277.1L298.2 276.8L298.4 276.4L298.6 276.0L298.8 275.7L299.0 275.3L299.2 274.9L299.4 274.6L299.6 274.2L299.8 273.9L300.0 273.5L300.2 273.1L300.4 272.8L300.6 272.4L300.8 272.1L301.0 271.7L301.2 271.4L301.4 271.0L301.6 270.7L301.8 270.3L302.0 270.0L302.2 269.7L302.4 269.3L302.6 269.0L302.8 268.6L303.0 268.3L303.2 268.0L303.4 267.6L303.6 267.3L303.8 267.0L304.0 266.7L304.2 266.3L304.4 266.0L304.6 265.7L304.8 265.4L305.0 265.0L305.2 264.7L305.4 264.4L305.6 264.1L305.8 263.8L306.0 263.5L306.2 263.2L306.4 262.8L306.6 262.5L306.8 262.2L307.0 261.9L307.2 261.6L307.4 261.3L307.6 261.0L307.8 260.7L308.0 260.4L308.2 260.1L308.4 259.8L308.6 259.5L308.8 259.2L309.0 258.9L309.2 258.6L309.4 258.3L309.6 258.0L309.8 257.7L310.0 257.4L310.2 257.1L310.4 256.8L310.6 256.5L310.8 256.2L311.0 255.9L311.2 255.6L311.4 255.3L311.6 255.0L311.8 254.7L312.0 254.4L312.2 254.1L312.4 253.8L312.6 253.5L312.8 253.2L313.0 252.9L313.2 252.6L313.4 252.3L313.6 252.0L313.8 251.7L314.0 251.4L314.2 251.1L314.4 250.8L314.6 250.5L314.8 250.2L315.0 249.9L315.2 249.6L315.4 249.3L315.6 249.0L315.8 248.7L316.0 248.4L316.2 248.1L316.4 247.8L316.6 247.5L316.8 247.2L317.0 246.9L317.2 246.6L317.4 246.3L317.6 246.0L317.8 245.7L318.0 245.3L318.2 245.0L318.4 244.7L318.6 244.4L318.8 244.1L319.0 243.8L319.2 243.5L319.4 243.2L319.6 242.9L319.8 242.6L320.0 242.3L320.2 242.0L320.4 241.7L320.6 241.4L320.8 241.1L321.0 240.8L321.2 240.5L321.4 240.2L321.6 239.9L321.8 239.6L322.0 239.3L322.2 239.0L322.4 238.7L322.6 238.4L322.8 238.2L323.0 237.9L323.2 237.6L323.4 237.3L323.6 237.0L323.8 236.7L324.0 236.4L324.2 236.1L324.4 235.8L324.6 235.5L324.8 235.2L325.0 234.9L325.2 234.6L325.4 234.3L325.6 234.0L325.8 233.7L326.0 233.5L326.2 233.2L326.4 232.9L326.6 232.6L326.8 232.3L327.0 232.0L327.2 231.7L327.4 231.4L327.6 231.1L327.8 230.8L328.0 230.5L328.2 230.2L328.4 229.9L328.6 229.7L328.8 229.4L329.0 229.1L329.2 228.8L329.4 228.5L329.6 228.2L329.8 227.9L330.0 227.6L330.2 227.3L330.4 227.1L330.6 226.8L330.8 226.5L331.0 226.2L331.2 225.9L331.4 225.6L331.6 225.3L331.8 225.1L332.0 224.8L332.2 224.5L332.4 224.2L332.6 223.9L332.8 223.6L333.0 223.4L333.2 223.1L333.4 222.8L333.6 222.5L333.8 222.2L334.0 222.0L334.2 221.7L334.4 221.4L334.6 221.1L334.8 220.9L335.0 220.6L335.2 220.3L335.4 220.0L335.6 219.8L335.8 219.5L336.0 219.2L336.2 218.9L336.4 218.7L336.6 218.4L336.8 218.1L337.0 217.9L337.2 217.6L337.4 217.3L337.6 217.1L337.8 216.8L338.0 216.5L338.2 216.3L338.4 216.0L338.6 215.7L338.8 215.5L339.0 215.2L339.2 214.9L339.4 214.7L339.6 214.4L339.8 214.2L340.0 213.9L340.2 213.6L340.4 213.4L340.6 213.1L340.8 212.9L341.0 212.6L341.2 212.4L341.4 212.1L341.6 211.8L341.8 211.6L342.0 211.3L342.2 211.1L342.4 210.8L342.6 210.6L342.8 210.3L343.0 210.1L343.2 209.8L343.4 209.5L343.6 209.3L343.8 209.0L344.0 208.8L344.2 208.5L344.4 208.3L344.6 208.0L344.8 207.8L345.0 207.5L345.2 207.3L345.4 207.0L345.6 206.8L345.8 206.5L346.0 206.3L346.2 206.0L346.4 205.8L346.6 205.5L346.8 205.3L347.0 205.0L347.2 204.8L347.4 204.6L347.6 204.3L347.8 204.1L348.0 203.8L348.2 203.6L348.4 203.3L348.6 203.1L348.8 202.8L349.0 202.6L349.2 202.3L349.4 202.1L349.6 201.8L349.8 201.6L350.0 201.3L350.2 201.1L350.4 200.9L350.6 200.6L350.8 200.4L351.0 200.1L351.2 199.9L351.4 199.6L351.6 199.4L351.8 199.1L352.0 198.9L352.2 198.7L352.4 198.4L352.6 198.2L352.8 197.9L353.0 197.7L353.2 197.4L353.4 197.2L353.6 197.0L353.8 196.7L354.0 196.5L354.2 196.2L354.4 196.0L354.6 195.8L354.8 195.5L355.0 195.3L355.2 195.0L355.4 194.8L355.6 194.6L355.8 194.3L356.0 194.1L356.2 193.8L356.4 193.6L356.6 193.4L356.8 193.1L357.0 192.9L357.2 192.6L357.4 192.4L357.6 192.2L357.8 191.9L358.0 191.7L358.2 191.5L358.4 191.2L358.6 191.0L358.8 190.8L359.0 190.5L359.2 190.3L359.4 190.1L359.6 189.8L359.8 189.6L360.0 189.4L360.2 189.1L360.4 188.9L360.6 188.7L360.8 188.4L361.0 188.2L361.2 188.0L361.4 187.8L361.6 187.5L361.8 187.3L362.0 187.1L362.2 186.8L362.4 186.6L362.6 186.4L362.8 186.1L363.0 185.9L363.2 185.7L363.4 185.4L363.6 185.2L363.8 185.0L364.0 184.7L364.2 184.5L364.4 184.3L364.6 184.0L364.8 183.8L365.0 183.6L365.2 183.3L365.4 183.1L365.6 182.9L365.8 182.7L366.0 182.4L366.2 182.2L366.4 182.0L366.6 181.8L366.8 181.6L367.0 181.3L367.2 181.1L367.4 180.9L367.6 180.7L367.8 180.5L368.0 180.3L368.2 180.1L368.4 179.9L368.6 179.7L368.8 179.5L369.0 179.3L369.2 179.1L369.4 178.9L369.6 178.7L369.8 178.5L370.0 178.3L370.2 178.2L370.4 178.0L370.6 177.8L370.8 177.6L371.0 177.4L371.2 177.2L371.4 177.0L371.6 176.8L371.8 176.7L372.0 176.5L372.2 176.3L372.4 176.1L372.6 175.9L372.8 175.8L373.0 175.6L373.2 175.4L373.4 175.2L373.6 175.1L373.8 174.9L374.0 174.7L374.2 174.6L374.4 174.4L374.6 174.3L374.8 174.1L375.0 173.9L375.2 173.8L375.4 173.6L375.6 173.5L375.8 173.4L376.0 173.2L376.2 173.1L376.4 172.9L376.6 172.8L376.8 172.7L377.0 172.5L377.2 172.4L377.4 172.3L377.6 172.2L377.8 172.0L378.0 171.9L378.2 171.8L378.4 171.7L378.6 171.5L378.8 171.4L379.0 171.3L379.2 171.2L379.4 171.1L379.6 170.9L379.8 170.8L380.0 170.7L380.2 170.6L380.4 170.5L380.6 170.4L380.8 170.3L381.0 170.2L381.2 170.1L381.4 170.0L381.6 169.9L381.8 169.8L382.0 169.7L382.2 169.6L382.4 169.5L382.6 169.4L382.8 169.3L383.0 169.2L383.2 169.1L383.4 169.0L383.6 168.9L383.8 168.9L384.0 168.8L384.2 168.7L384.4 168.6L384.6 168.6L384.8 168.5L385.0 168.4L385.2 168.4L385.4 168.3L385.6 168.2L385.8 168.2L386.0 168.1L386.2 168.0L386.4 168.0L386.6 167.9L386.8 167.8L387.0 167.8L387.2 167.7L387.4 167.7L387.6 167.6L387.8 167.5L388.0 167.5L388.2 167.4L388.4 167.4L388.6 167.3L388.8 167.3L389.0 167.2L389.2 167.2L389.4 167.1L389.6 167.1L389.8 167.0L390.0 167.0L390.2 166.9L390.4 166.9L390.6 166.8L390.8 166.8L391.0 166.8L391.2 166.7L391.4 166.7L391.6 166.7L391.8 166.6L392.0 166.6L392.2 166.6L392.4 166.5L392.6 166.5L392.7 166.5L392.8 166.5L392.9 166.5L393.0 166.5L393.1 166.5L393.2 166.5L393.3 166.5L393.4 166.5L393.5 166.5L393.6 166.5L393.7 166.5L393.8 166.5L393.9 166.6L394.0 166.6L394.1 166.6L394.2 166.6L394.3 166.6L394.4 166.6L394.5 166.6L394.6 166.6L394.7 166.6L394.8 166.7L394.9 166.7L395.0 166.7L395.1 166.7L395.2 166.7L395.3 166.7L395.4 166.8L395.5 166.8L395.6 166.8L395.7 166.8L395.8 166.9L395.9 166.9L396.0 166.9L396.1 166.9L396.2 167.0L396.3 167.0L396.4 167.0L396.5 167.0L396.6 167.1L396.7 167.1L396.8 167.1L396.9 167.2L397.0 167.2L397.1 167.3L397.2 167.3L397.3 167.3L397.4 167.4L397.5 167.4L397.6 167.4L397.7 167.5L397.8 167.5L397.9 167.6L398.0 167.6L398.1 167.7L398.2 167.7L398.3 167.8L398.4 167.8L398.5 167.9L398.6 167.9L398.7 168.0L398.8 168.0L398.9 168.1L399.0 168.1L399.1 168.2L399.2 168.3L399.3 168.3L399.4 168.4L399.5 168.5L399.6 168.5L399.7 168.6L399.8 168.7L399.9 168.7L400.0 168.8L400.1 168.9L400.2 169.0L400.3 169.0L400.4 169.1L400.5 169.2L400.6 169.3L400.7 169.4L400.8 169.5L400.9 169.5L401.0 169.6L401.1 169.7L401.2 169.8L401.3 169.9L401.4 170.0L401.5 170.1L401.6 170.2L401.7 170.3L401.8 170.4L401.9 170.5L402.0 170.7L402.1 170.8L402.2 170.9L402.3 171.0L402.4 171.1L402.5 171.3L402.6 171.4L402.7 171.5L402.8 171.7L402.9 171.8L403.0 171.9L403.1 172.1L403.2 172.2L403.3 172.4L403.4 172.5L403.5 172.7L403.6 172.8L403.7 173.0L403.8 173.2L403.9 173.4L404.0 173.5L404.1 173.7L404.2 173.9L404.3 174.1L404.4 174.3L404.5 174.5L404.6 174.7L404.7 174.9L404.8 175.1L404.9 175.4L405.0 175.6L405.1 175.9L405.2 176.1L405.3 176.4L405.4 176.6L405.5 176.9L405.6 177.2L405.7 177.5L405.8 177.8L405.9 178.1L406.0 178.4L406.1 178.7L406.2 179.1L406.3 179.5L406.4 179.8L406.5 180.2L406.6 180.7L406.7 181.1L406.8 181.5L406.9 182.0L407.0 182.5L407.1 183.1L407.2 183.6L407.3 184.2L407.4 184.8L407.5 185.5L407.6 186.2L407.7 187.0L407.8 187.9L407.9 188.8L408.0 189.8L408.1 191.0L408.2 192.2L408.3 193.7L408.4 195.4L408.5 197.5L408.6 200.0L408.7 203.4L408.8 208.4L408.9 218.5L409.0 236.0L409.1 211.4L409.3 206.3L409.6 202.8L409.8 200.2L410.0 198.2L410.3 196.5L410.5 195.1L410.7 193.9L410.9 192.9L411.2 192.1L411.4 191.3L411.6 190.7L411.9 190.2L412.1 189.8L412.3 189.5L412.5 189.3L412.8 189.2L413.0 189.2L413.2 189.2L413.5 189.4L413.7 189.7L413.9 190.1L414.1 190.6L414.4 191.3L414.6 192.1L414.8 193.1L415.1 194.3L415.3 195.9L415.5 197.8L415.7 200.3L416.0 203.7L416.2 208.9L416.4 220.2L416.7 214.9L416.9 203.2L417.1 197.9L417.3 194.6L417.6 192.1L417.8 190.2L418.0 188.8L418.3 187.6L418.5 186.6L418.7 185.9L418.9 185.2L419.2 184.8L419.4 184.4L419.6 184.2L419.9 184.0L420.1 184.0L420.3 184.0L420.5 184.1L420.8 184.4L421.0 184.6L421.2 185.0L421.5 185.5L421.7 186.0L421.9 186.6L422.1 187.3L422.4 188.1L422.6 189.0L422.8 190.0L423.1 191.1L423.3 192.3L423.5 193.8L423.7 195.4L424.0 197.3L424.2 199.6L424.4 202.5L424.7 206.5L424.9 212.8L425.1 229.6L425.3 209.4L425.6 200.7L425.8 196.1L426.0 193.1L426.3 190.8L426.5 189.0L426.7 187.5L426.9 186.3L427.2 185.2L427.4 184.3L427.6 183.5L427.9 182.7L428.1 182.1L428.3 181.5L428.5 181.0L428.8 180.5L429.0 180.1L429.2 179.7L429.5 179.4L429.7 179.1L429.9 178.9L430.1 178.6L430.4 178.4L430.6 178.3L430.8 178.2L431.1 178.1L431.3 178.1L431.5 178.2L431.7 178.3L432.0 178.5L432.2 178.7L432.4 179.0L432.7 179.4L432.9 180.0L433.1 180.6L433.3 181.5L433.6 182.5L433.8 183.7L434.0 185.3L434.3 187.3L434.5 190.1L434.7 194.0L434.9 200.9L435.2 230.5L435.4 213.6L435.6 205.9L435.9 201.6L436.1 198.7L436.3 196.5L436.5 194.8L436.8 193.6L437.0 192.6L437.2 192.0L437.5 191.5L437.7 191.4L437.9 191.4L438.1 191.7L438.4 192.3L438.6 193.1L438.8 194.3L439.1 195.9L439.3 198.2L439.5 201.3L439.7 206.1L440.0 215.7L440.2 219.3L440.4 204.9L440.7 199.3L440.9 195.9L441.1 193.5L441.3 191.8L441.6 190.6L441.8 189.7L442.0 189.1L442.3 188.7L442.5 188.5L442.7 188.5L442.9 188.7L443.2 189.0L443.4 189.5L443.6 190.2L443.9 191.0L444.1 192.0L444.3 193.3L444.5 194.7L444.8 196.5L445.0 198.8L445.2 201.7L445.5 205.6L445.7 212.1L445.9 231.1L446.1 210.6L446.4 202.3L446.6 197.8L446.8 194.8L447.1 192.6L447.3 190.8L447.5 189.4L447.7 188.3L448.0 187.3L448.2 186.5L448.4 185.8L448.7 185.3L448.9 184.9L449.1 184.6L449.3 184.5L449.6 184.5L449.8 184.6L450.0 184.8L450.3 185.3L450.5 186.0L450.7 186.9L450.9 188.2L451.2 190.0L451.4 192.5L451.6 196.1L451.9 202.4L452.1 223.2L452.3 213.7L452.5 205.5L452.8 201.1L453.0 198.3L453.2 196.3L453.5 194.9L453.7 194.1L453.9 193.7L454.1 193.7L454.4 194.2L454.6 195.1L454.8 196.6L455.1 198.9L455.3 202.3L455.5 208.2L455.7 223.6L456.0 212.0L456.2 203.0L456.4 198.6L456.7 195.8L456.9 194.0L457.1 192.8L457.3 192.1L457.6 191.7L457.8 191.7L458.0 192.0L458.3 192.6L458.5 193.4L458.7 194.6L458.9 196.2L459.2 198.2L459.4 200.9L459.6 204.7L459.9 210.8L460.1 227.3L460.3 212.3L460.5 203.4L460.8 198.9L461.0 195.9L461.2 193.7L461.5 192.1L461.7 190.8L461.9 189.9L462.1 189.2L462.4 188.8L462.6 188.6L462.8 188.7L463.1 189.1L463.3 189.8L463.5 190.9L463.7 192.7L464.0 195.3L464.2 199.5L464.4 207.8L464.7 227.8L464.9 209.4L465.1 203.3L465.3 199.8L465.6 197.6L465.8 196.3L466.0 195.7L466.3 195.8L466.5 196.6L466.7 198.1L466.9 200.7L467.2 205.1L467.4 214.1L467.6 221.9L467.9 206.3L468.1 200.7L468.3 197.6L468.5 195.8L468.8 194.7L469.0 194.2L469.2 194.3L469.5 194.8L469.7 195.8L469.9 197.2L470.1 199.3L470.4 202.3L470.6 206.9L470.8 215.6L471.1 224.8L471.3 207.4L471.5 201.4L471.7 197.9L472.0 195.5L472.2 193.8L472.4 192.7L472.7 192.0L472.9 191.7L473.1 191.8L473.3 192.4L473.6 193.7L473.8 195.7L474.0 199.2L474.3 205.5L474.5 231.9L474.7 212.1L474.9 204.6L475.2 200.8L475.4 198.6L475.6 197.6L475.9 197.5L476.1 198.4L476.3 200.5L476.5 204.2L476.8 211.8L477.0 232.1L477.2 208.1L477.5 202.0L477.7 198.8L477.9 197.1L478.1 196.4L478.4 196.3L478.6 197.0L478.8 198.4L479.1 200.5L479.3 203.9L479.5 209.5L479.7 223.7L480.0 214.3L480.2 204.8L480.4 200.2L480.7 197.4L480.9 195.7L481.1 194.6L481.3 194.2L481.6 194.4L481.8 195.3L482.0 197.2L482.3 200.6L482.5 207.6L482.7 242.7L482.9 210.6L483.2 204.1L483.4 200.8L483.6 199.3L483.9 199.1L484.1 200.2L484.3 202.9L484.5 208.4L484.8 225.4L485.0 212.2L485.2 204.0L485.5 200.4L485.7 198.6L485.9 198.0L486.1 198.4L486.4 199.7L486.6 202.1L486.8 206.1L487.1 214.0L487.3 230.8L487.5 208.8L487.7 202.7L488.0 199.3L488.2 197.3L488.4 196.3L488.7 196.2L488.9 197.1L489.1 199.1L489.3 203.3L489.6 213.4L489.8 219.8L490.0 207.5L490.3 202.8L490.5 200.8L490.7 200.4L490.9 201.8L491.2 205.4L491.4 214.0L491.6 222.8L491.9 207.3L492.1 202.4L492.3 200.1L492.5 199.5L492.8 200.1L493.0 202.0L493.2 205.6L493.4 212.7L493.7 246.2L493.9 210.1L494.1 203.5L494.4 200.2L494.6 198.4L494.8 197.9L495.0 198.6L495.3 200.8L495.5 205.8L495.7 221.4L496.0 214.4L496.2 205.9L496.4 202.5L496.6 201.6L496.9 202.8L497.1 206.6L497.3 217.0L497.6 217.8L497.8 206.5L498.0 202.4L498.2 200.9L498.5 201.2L498.7 203.0L498.9 206.9L499.2 215.5L499.4 224.3L499.6 208.2L499.8 202.9L500.1 200.3L500.3 199.4L500.5 200.0L500.8 202.6L501.0 209.1L501.2 242.0L501.4 210.7L501.7 204.8L501.9 202.8L502.1 203.4L502.4 207.1L502.6 217.9L502.8 217.1L503.0 206.5L503.3 202.9L503.5 202.1L503.7 203.2L504.0 206.5L504.2 214.2L504.4 229.0L504.6 209.2L504.9 203.6L505.1 201.2L505.3 200.8L505.6 202.4L505.8 207.2L506.0 225.4L506.2 213.5L506.5 206.1L506.7 203.8L506.9 204.7L507.2 209.5L507.4 229.0L507.6 212.2L507.8 205.3L508.1 203.2L508.3 203.7L508.5 206.8L508.8 214.4L509.0 228.2L509.2 209.3L509.4 204.0L509.7 202.1L509.9 202.5L510.1 205.7L510.4 216.2L510.6 218.2L510.8 207.7L511.0 204.8L511.3 205.6L511.5 211.2L511.7 250.6L512.0 210.5L512.2 205.2L512.4 204.1L512.6 206.0L512.9 211.8L513.1 242.1L513.3 211.7L513.6 205.3L513.8 203.1L514.0 203.8L514.2 208.2L514.5 227.6L514.7 213.3L514.9 206.7L515.2 205.7L515.4 209.3L515.6 225.3L515.8 213.5L516.1 206.5L516.3 205.0L516.5 207.1L516.8 214.2L517.0 229.9L517.2 209.9L517.4 205.0L517.7 204.1L517.9 206.7L518.1 217.2L518.4 217.8L518.6 208.1L518.8 206.4L519.0 209.9L519.3 227.9L519.5 213.0L519.7 206.7L520.0 206.1L520.2 209.6L520.4 222.4L520.6 216.0L520.9 207.3L521.1 204.9L521.3 206.6L521.6 215.1L521.8 220.6L522.0 209.0L522.2 207.2L522.5 211.4L522.7 253.2L522.9 211.3L523.2 206.9L523.4 207.7L523.6 214.3L523.8 230.1L524.1 210.3L524.3 206.1L524.5 206.7L524.8 213.7L525.0 223.8L525.2 209.8L525.4 207.9L525.7 213.1L525.9 230.3L526.1 210.3L526.4 207.4L526.6 210.0L526.8 222.6L527.0 216.1L527.3 207.9L527.5 206.7L527.7 211.4L528.0 237.5L528.2 211.5L528.4 208.5L528.6 213.5L528.9 229.1L529.1 210.5L529.3 208.1L529.6 212.1L529.8 238.9L530.0 212.6L530.2 207.6L530.5 208.8L530.7 220.8L530.9 216.2L531.2 209.3L531.4 211.7L531.6 241.2L531.8 212.3L532.1 208.7L532.3 212.4L532.5 241.7L532.8 212.6L533.0 208.1L533.2 210.5L533.4 234.7L533.7 213.2L533.9 209.8L534.1 216.7L534.4 220.5L534.6 210.0L534.8 210.6L535.0 222.0L535.3 216.8L535.5 209.1L535.7 210.2L536.0 226.4L536.2 214.5L536.4 210.3L536.6 217.7L536.9 219.3L537.1 210.3L537.3 212.1L537.6 232.3L537.8 213.8L538.0 209.3L538.2 213.8L538.5 226.6L538.7 211.5L538.9 213.0L539.2 242.4L539.4 212.2L539.6 211.2L539.8 222.6L540.1 216.7L540.3 210.0L540.5 213.5L540.8 229.2L541.0 212.0L541.2 214.0L541.4 231.5L541.7 212.0L541.9 212.6L542.1 234.1L542.4 213.9L542.6 210.6L542.8 219.9L543.0 217.4L543.3 211.9L543.5 223.1L543.7 215.9L544.0 211.7L544.2 221.0L544.4 218.0L544.6 211.0L544.9 216.7L545.1 220.8L545.3 212.3L545.6 221.7L545.8 216.7L546.0 212.2L546.2 223.0L546.5 216.8L546.7 211.5L546.9 221.2L547.2 217.0L547.4 213.3L547.6 241.8L547.8 213.8L548.1 214.6L548.3 237.7L548.5 213.0L548.8 214.4L549.0 228.5L549.2 213.3L549.4 221.5L549.7 217.1L549.9 213.5L550.1 232.9L550.4 214.6L550.6 213.8L550.8 236.7L551.0 213.8L551.3 221.2L551.5 217.4L551.7 214.1L552.0 243.8L552.2 214.2L552.4 215.6L552.6 224.9L552.9 214.1L553.1 233.6L553.3 214.9L553.6 217.4L553.8 223.5L554.0 213.3L554.2 225.7L554.5 216.1L554.7 218.3L554.9 220.4L555.2 214.7L555.4 250.2L555.6 214.5L555.8 218.7L556.1 219.7L556.3 216.2L556.5 226.0L556.8 214.7L557.0 233.5L557.2 215.3L557.4 218.5L557.7 220.1L557.9 216.8L558.1 224.2L558.4 215.3L558.6 261.9L558.8 214.9L559.0 223.1L559.3 217.3L559.5 220.9L559.7 218.4L560.0 217.9L560.2 223.4L560.4 215.3L560.6 236.1L560.9 215.9L561.1 242.4L561.3 215.7L561.6 235.5L561.8 215.8L562.0 224.5L562.2 217.3L562.5 225.5L562.7 217.1L562.9 223.3L563.2 218.0L563.4 219.8L563.6 219.6L563.8 221.7L564.1 218.5L564.3 221.6L564.5 219.1L564.8 219.7L565.0 219.9L565.2 222.6L565.4 218.2L565.7 223.9L565.9 218.1L566.1 223.1L566.4 218.2L566.6 230.6L566.8 217.1L567.0 237.8L567.3 216.7L567.5 250.4L567.7 217.6L568.0 228.8L568.2 218.5L568.4 224.2L568.6 219.0L568.9 221.4L569.1 224.8L569.3 218.2L569.6 234.5L569.8 217.3L570.0 244.6L570.2 218.7L570.5 223.3L570.7 222.1L570.9 219.5L571.2 227.6L571.4 218.4L571.6 233.0L571.8 219.6L572.1 222.5L572.3 223.1L572.5 219.1L572.8 245.8L573.0 219.3L573.2 223.8L573.4 223.0L573.7 219.3L573.9 240.0L574.1 220.0L574.4 222.3L574.6 226.4L574.8 219.1L575.0 228.3L575.3 222.9L575.5 219.7L575.7 249.3L576.0 220.5L576.2 221.4L576.4 235.3L576.6 219.1L576.9 225.2L577.1 230.1L577.3 219.6L577.6 225.9L577.8 225.7L578.0 219.9L578.2 225.6L578.5 228.3L578.7 219.5L578.9 226.8L579.2 231.1L579.4 220.3L579.6 223.8L579.8 233.3L580.1 221.2L580.3 221.5L580.5 246.2L580.8 222.3L581.0 220.9L581.2 228.0L581.4 229.9L581.7 220.3L581.9 223.5L582.1 244.4L582.4 224.6L582.6 220.5L582.8 226.9L583.0 242.8L583.3 223.2L583.5 221.0L583.7 228.6L584.0 239.8L584.2 223.4L584.4 221.1L584.6 227.3L584.9 257.4L585.1 225.3L585.3 221.1L585.6 224.3L585.8 234.5L586.0 231.3L586.2 222.2L586.5 222.1L586.7 225.1L586.9 243.1L587.2 228.2L587.4 223.3L587.6 222.0L587.8 224.8L588.1 237.0L588.3 238.4L588.5 226.1L588.8 222.1L589.0 222.9L589.2 225.4L589.4 235.1L589.7 237.1L589.9 228.2L590.1 224.0L590.4 222.3L590.6 223.9L590.8 226.2L591.0 234.0L591.3 246.4L591.5 233.1L591.7 227.0L592.0 223.5L592.2 223.3L592.4 223.3L592.6 224.7L592.9 228.0L593.1 230.9L593.3 240.8L593.6 244.7L593.8 237.0L594.0 230.9L594.2 226.6L594.5 226.0L594.7 224.9L594.9 223.7L595.2 224.0L595.4 223.8L595.6 223.9L595.8 224.6L596.1 224.6L596.3 225.2L596.5 226.1L596.8 225.8L597.0 226.5L597.2 227.2L597.4 226.6L597.7 226.9L597.9 227.3L598.1 226.3L598.4 226.3L598.6 226.4L598.8 225.4L599.0 225.2L599.3 225.2L599.5 224.8L599.7 224.6L600.0 225.2L600.2 225.9L600.4 226.2L600.6 228.7L600.9 231.7L601.1 234.6L601.3 253.3L601.6 243.9L601.8 235.2L602.0 228.9L602.2 226.8L602.5 225.8L602.7 225.9L602.9 226.8L603.2 231.6L603.4 241.8L603.6 246.5L603.8 230.9L604.1 227.2L604.3 226.1L604.5 227.4L604.8 231.0L605.0 257.3L605.2 234.7L605.4 228.3L605.7 226.3L605.9 227.9L606.1 238.5L606.4 239.9L606.6 229.2L606.8 226.6L607.0 228.8L607.3 247.3L607.5 233.5L607.7 227.4L608.0 228.2L608.2 237.3L608.4 234.5L608.6 227.3L608.9 228.8L609.1 246.0L609.3 232.4L609.6 227.2L609.8 231.7L610.0 239.8L610.2 228.0L610.5 229.7L610.7 262.0L610.9 229.4L611.2 229.1L611.4 254.4L611.6 229.1L611.8 229.0L612.1 250.6L612.3 228.5L612.5 231.8L612.8 238.3L613.0 228.1L613.2 239.3L613.4 231.4L613.7 230.0L613.9 245.1L614.1 228.3L614.4 239.9L614.6 229.7L614.8 231.9L615.0 233.5L615.3 229.4L615.5 240.0L615.7 228.7L616.0 252.0L616.2 228.7L616.4 263.0L616.6 228.9L616.9 253.5L617.1 229.0L617.3 258.0L617.6 229.0L617.8 258.5L618.0 229.1L618.2 242.8L618.5 229.9L618.7 235.6L618.9 232.2L619.2 231.4L619.4 238.9L619.6 229.7L619.8 251.4L620.1 231.1L620.3 233.6L620.5 239.8L620.8 230.0L621.0 240.6L621.2 234.0L621.4 230.6L621.7 247.8L621.9 232.2L622.1 230.9L622.4 251.6L622.6 233.8L622.8 230.8L623.0 240.2L623.3 238.4L623.5 230.5L623.7 233.1L624.0 277.6L624.2 234.7L624.4 230.9L624.6 234.2L624.9 254.5L625.1 235.9L625.3 231.5L625.6 232.1L625.8 238.0L626.0 268.5L626.2 236.2L626.5 232.3L626.7 231.5L626.9 233.5L627.2 238.7L627.4 270.0L627.6 243.2L627.8 236.1L628.1 232.7L628.3 231.9L628.5 232.0L628.8 232.6L629.0 233.9L629.2 236.5L629.4 238.7L629.7 241.2L629.9 246.7L630.1 249.4L630.4 251.8L630.6 260.8L630.8 256.5L631.0 252.4L631.3 252.3L631.5 246.2L631.7 242.0L632.0 240.1L632.2 237.0L632.4 234.8L632.6 233.7L632.9 232.8L633.1 233.1L633.3 234.5L633.6 237.3L633.8 246.8L634.0 251.6L634.2 239.4L634.5 234.3L634.7 233.3L634.9 235.7L635.2 243.7L635.4 246.9L635.6 235.5L635.8 233.6L636.1 236.8L636.3 275.8L636.5 237.2L636.8 233.8L637.0 238.2L637.2 250.0L637.4 234.8L637.7 235.7L637.9 263.2L638.1 235.9L638.4 235.6L638.6 264.6L638.8 235.2L639.0 237.5L639.3 243.8L639.5 234.5L639.7 252.8L640.0 235.7L640.2 239.2L640.4 238.9L640.6 236.8L640.9 242.3L641.1 235.8L641.3 245.9L641.6 235.5L641.8 244.1L642.0 236.6L642.2 240.2L642.5 239.0L642.7 237.2L642.9 245.7L643.2 235.2L643.4 250.4L643.6 237.5L643.8 237.2L644.1 255.9L644.3 236.1L644.5 239.2L644.8 251.0L645.0 236.3L645.2 237.5L645.4 258.3L645.7 240.2L645.9 236.0L646.1 239.2L646.4 262.0L646.6 241.9L646.8 236.7L647.0 236.9L647.3 241.5L647.5 257.9L647.7 247.3L648.0 239.9L648.2 237.2L648.4 236.5L648.6 237.0L648.9 238.2L649.1 240.1L649.3 242.3L649.6 244.6L649.8 246.6L650.0 247.9L650.2 248.0L650.5 246.9L650.7 245.0L650.9 242.8L651.2 240.7L651.4 238.9L651.6 237.7L651.8 237.3L652.1 238.2L652.3 241.2L652.5 249.8L652.8 254.9L653.0 241.7L653.2 238.0L653.4 238.9L653.7 247.5L653.9 249.4L654.1 239.0L654.4 238.9L654.6 251.4L654.8 243.4L655.0 238.1L655.3 246.2L655.5 244.1L655.7 238.6L656.0 257.6L656.2 239.7L656.4 242.3L656.6 245.1L656.9 239.3L657.1 253.5L657.3 238.9L657.6 256.0L657.8 239.1L658.0 251.7L658.2 239.8L658.5 244.8L658.7 243.9L658.9 239.8L659.2 274.5L659.4 239.8L659.6 242.6L659.8 256.0L660.1 240.1L660.3 241.4L660.5 266.6L660.8 243.8L661.0 239.6L661.2 242.1L661.4 255.1L661.7 251.3L661.9 242.5L662.1 239.9L662.4 240.3L662.6 242.0L662.8 245.6L663.0 251.2L663.3 257.7L663.5 275.0L663.7 268.7L664.0 271.3L664.2 279.7L664.4 271.1L664.6 255.1L664.9 249.1L665.1 244.9L665.3 241.8L665.6 240.7L665.8 241.6L666.0 246.1L666.2 267.1L666.5 246.7L666.7 241.3L666.9 242.6L667.2 258.3L667.4 245.8L667.6 241.3"/>
<path class="c" stroke="#005a00" d="M116.7 330.2L116.9 330.2L117.1 330.2L117.3 330.2L117.5 330.2L117.7 330.2L117.9 330.2L118.1 330.2L118.3 330.2L118.5 330.2L118.7 330.2L118.9 330.2L119.1 330.2L119.3 330.2L119.5 330.2L119.7 330.2L119.9 330.2L120.1 330.2L120.3 330.2L120.5 330.2L120.7 330.2L120.9 330.2L121.1 330.2L121.3 330.2L121.5 330.2L121.7 330.2L121.9 330.2L122.1 330.2L122.3 330.2L122.5 330.2L122.7 330.2L122.9 330.2L123.1 330.2L123.3 330.2L123.5 330.2L123.7 330.2L123.9 330.2L124.1 330.2L124.3 330.2L124.5 330.3L124.7 330.3L124.9 330.3L125.1 330.3L125.3 330.3L125.5 330.3L125.7 330.3L125.9 330.3L126.1 330.3L126.3 330.3L126.5 330.3L126.7 330.3L126.9 330.3L127.1 330.3L127.3 330.3L127.5 330.3L127.7 330.3L127.9 330.3L128.1 330.3L128.3 330.3L128.5 330.3L128.7 330.3L128.9 330.3L129.1 330.3L129.3 330.3L129.5 330.3L129.7 330.3L129.9 330.3L130.1 330.3L130.3 330.3L130.5 330.3L130.7 330.3L130.9 330.3L131.1 330.3L131.3 330.3L131.5 330.3L131.7 330.3L131.9 330.3L132.1 330.3L132.3 330.3L132.5 330.3L132.7 330.3L132.9 330.3L133.1 330.3L133.3 330.3L133.5 330.3L133.7 330.3L133.9 330.3L134.1 330.3L134.3 330.3L134.5 330.3L134.7 330.3L134.9 330.3L135.1 330.3L135.3 330.3L135.5 330.3L135.7 330.3L135.9 330.3L136.1 330.3L136.3 330.3L136.5 330.3L136.7 330.3L136.9 330.3L137.1 330.3L137.3 330.3L137.5 330.3L137.7 330.3L137.9 330.3L138.1 330.3L138.3 330.3L138.5 330.3L138.7 330.3L138.9 330.4L139.1 330.4L139.3 330.4L139.5 330.4L139.7 330.4L139.9 330.4L140.1 330.4L140.3 330.4L140.5 330.4L140.7 330.4L140.9 330.4L141.1 330.4L141.3 330.4L141.5 330.4L141.7 330.4L141.9 330.4L142.1 330.4L142.3 330.4L142.5 330.4L142.7 330.4L142.9 330.4L143.1 330.4L143.3 330.4L143.5 330.4L143.7 330.4L143.9 330.4L144.1 330.4L144.3 330.4L144.5 330.4L144.7 330.4L144.9 330.4L145.1 330.4L145.3 330.4L145.5 330.4L145.7 330.4L145.9 330.4L146.1 330.4L146.3 330.4L146.5 330.4L146.7 330.4L146.9 330.4L147.1 330.4L147.3 330.4L147.5 330.4L147.7 330.5L147.9 330.5L148.1 330.5L148.3 330.5L148.5 330.5L148.7 330.5L148.9 330.5L149.1 330.5L149.3 330.5L149.5 330.5L149.7 330.5L149.9 330.5L150.1 330.5L150.3 330.5L150.5 330.5L150.7 330.5L150.9 330.5L151.1 330.5L151.3 330.5L151.5 330.5L151.7 330.5L151.9 330.5L152.1 330.5L152.3 330.5L152.5 330.5L152.7 330.5L152.9 330.5L153.1 330.5L153.3 330.5L153.5 330.5L153.7 330.5L153.9 330.5L154.1 330.5L154.3 330.6L154.5 330.6L154.7 330.6L154.9 330.6L155.1 330.6L155.3 330.6L155.5 330.6L155.7 330.6L155.9 330.6L156.1 330.6L156.3 330.6L156.5 330.6L156.7 330.6L156.9 330.6L157.1 330.6L157.3 330.6L157.5 330.6L157.7 330.6L157.9 330.6L158.1 330.6L158.3 330.6L158.5 330.6L158.7 330.6L158.9 330.6L159.1 330.6L159.3 330.7L159.5 330.7L159.7 330.7L159.9 330.7L160.1 330.7L160.3 330.7L160.5 330.7L160.7 330.7L160.9 330.7L161.1 330.7L161.3 330.7L161.5 330.7L161.7 330.7L161.9 330.7L162.1 330.7L162.3 330.7L162.5 330.7L162.7 330.7L162.9 330.7L163.1 330.7L163.3 330.7L163.5 330.8L163.7 330.8L163.9 330.8L164.1 330.8L164.3 330.8L164.5 330.8L164.7 330.8L164.9 330.8L165.1 330.8L165.3 330.8L165.5 330.8L165.7 330.8L165.9 330.8L166.1 330.8L166.3 330.8L166.5 330.8L166.7 330.8L166.9 330.8L167.1 330.9L167.3 330.9L167.5 330.9L167.7 330.9L167.9 330.9L168.1 330.9L168.3 330.9L168.5 330.9L168.7 330.9L168.9 330.9L169.1 330.9L169.3 330.9L169.5 330.9L169.7 330.9L169.9 330.9L170.1 331.0L170.3 331.0L170.5 331.0L170.7 331.0L170.9 331.0L171.1 331.0L171.3 331.0L171.5 331.0L171.7 331.0L171.9 331.0L172.1 331.0L172.3 331.0L172.5 331.0L172.7 331.0L172.9 331.1L173.1 331.1L173.3 331.1L173.5 331.1L173.7 331.1L173.9 331.1L174.1 331.1L174.3 331.1L174.5 331.1L174.7 331.1L174.9 331.1L175.1 331.1L175.3 331.2L175.5 331.2L175.7 331.2L175.9 331.2L176.1 331.2L176.3 331.2L176.5 331.2L176.7 331.2L176.9 331.2L177.1 331.2L177.3 331.2L177.5 331.3L177.7 331.3L177.9 331.3L178.1 331.3L178.3 331.3L178.5 331.3L178.7 331.3L178.9 331.3L179.1 331.3L179.3 331.3L179.5 331.4L179.7 331.4L179.9 331.4L180.1 331.4L180.3 331.4L180.5 331.4L180.7 331.4L180.9 331.4L181.1 331.4L181.3 331.5L181.5 331.5L181.7 331.5L181.9 331.5L182.1 331.5L182.3 331.5L182.5 331.5L182.7 331.5L182.9 331.5L183.1 331.6L183.3 331.6L183.5 331.6L183.7 331.6L183.9 331.6L184.1 331.6L184.3 331.6L184.5 331.6L184.7 331.7L184.9 331.7L185.1 331.7L185.3 331.7L185.5 331.7L185.7 331.7L185.9 331.7L186.1 331.8L186.3 331.8L186.5 331.8L186.7 331.8L186.9 331.8L187.1 331.8L187.3 331.8L187.5 331.9L187.7 331.9L187.9 331.9L188.1 331.9L188.3 331.9L188.5 331.9L188.7 331.9L188.9 332.0L189.1 332.0L189.3 332.0L189.5 332.0L189.7 332.0L189.9 332.0L190.1 332.1L190.3 332.1L190.5 332.1L190.7 332.1L190.9 332.1L191.1 332.1L191.3 332.2L191.5 332.2L191.7 332.2L191.9 332.2L192.1 332.2L192.3 332.2L192.5 332.3L192.7 332.3L192.9 332.3L193.1 332.3L193.3 332.3L193.5 332.4L193.7 332.4L193.9 332.4L194.1 332.4L194.3 332.4L194.5 332.5L194.7 332.5L194.9 332.5L195.1 332.5L195.3 332.5L195.5 332.6L195.7 332.6L195.9 332.6L196.1 332.6L196.3 332.6L196.5 332.7L196.7 332.7L196.9 332.7L197.1 332.7L197.3 332.7L197.5 332.8L197.7 332.8L197.9 332.8L198.1 332.8L198.3 332.9L198.5 332.9L198.7 332.9L198.9 332.9L199.1 333.0L199.3 333.0L199.5 333.0L199.7 333.0L199.9 333.1L200.1 333.1L200.3 333.1L200.5 333.1L200.7 333.2L200.9 333.2L201.1 333.2L201.3 333.2L201.5 333.3L201.7 333.3L201.9 333.3L202.1 333.4L202.3 333.4L202.5 333.4L202.7 333.4L202.9 333.5L203.1 333.5L203.3 333.5L203.5 333.6L203.7 333.6L203.9 333.6L204.1 333.6L204.3 333.7L204.5 333.7L204.7 333.7L204.9 333.8L205.1 333.8L205.3 333.8L205.5 333.9L205.7 333.9L205.9 333.9L206.1 334.0L206.3 334.0L206.5 334.0L206.7 334.1L206.9 334.1L207.1 334.1L207.3 334.2L207.5 334.2L207.7 334.2L207.9 334.3L208.1 334.3L208.3 334.3L208.5 334.4L208.7 334.4L208.9 334.5L209.1 334.5L209.3 334.5L209.5 334.6L209.7 334.6L209.9 334.7L210.1 334.7L210.3 334.7L210.5 334.8L210.7 334.8L210.9 334.9L211.1 334.9L211.3 334.9L211.5 335.0L211.7 335.0L211.9 335.1L212.1 335.1L212.3 335.2L212.5 335.2L212.7 335.3L212.9 335.3L213.1 335.3L213.3 335.4L213.5 335.4L213.7 335.5L213.9 335.5L214.1 335.6L214.3 335.6L214.5 335.7L214.7 335.7L214.9 335.8L215.1 335.8L215.3 335.9L215.5 335.9L215.7 336.0L215.9 336.0L216.1 336.1L216.3 336.1L216.5 336.2L216.7 336.3L216.9 336.3L217.1 336.4L217.3 336.4L217.5 336.5L217.7 336.5L217.9 336.6L218.1 336.7L218.3 336.7L218.5 336.8L218.7 336.8L218.9 336.9L219.1 337.0L219.3 337.0L219.5 337.1L219.7 337.1L219.9 337.2L220.1 337.3L220.3 337.3L220.5 337.4L220.7 337.5L220.9 337.5L221.1 337.6L221.3 337.7L221.5 337.7L221.7 337.8L221.9 337.9L222.1 337.9L222.3 338.0L222.5 338.1L222.7 338.2L222.9 338.2L223.1 338.3L223.3 338.4L223.5 338.5L223.7 338.5L223.9 338.6L224.1 338.7L224.3 338.8L224.5 338.9L224.7 338.9L224.9 339.0L225.1 339.1L225.3 339.2L225.5 339.3L225.7 339.4L225.9 339.4L226.1 339.5L226.3 339.6L226.5 339.7L226.7 339.8L226.9 339.9L227.1 340.0L227.3 340.1L227.5 340.2L227.7 340.3L227.9 340.4L228.1 340.5L228.3 340.6L228.5 340.7L228.7 340.7L228.9 340.9L229.1 341.0L229.3 341.1L229.5 341.2L229.7 341.3L229.9 341.4L230.1 341.5L230.3 341.6L230.5 341.7L230.7 341.8L230.9 341.9L231.1 342.0L231.3 342.1L231.5 342.3L231.7 342.4L231.9 342.5L232.1 342.6L232.3 342.7L232.5 342.9L232.7 343.0L232.9 343.1L233.1 343.2L233.3 343.4L233.5 343.5L233.7 343.6L233.9 343.8L234.1 343.9L234.3 344.0L234.5 344.2L234.7 344.3L234.9 344.4L235.1 344.6L235.3 344.7L235.5 344.9L235.7 345.0L235.9 345.2L236.1 345.3L236.3 345.5L236.5 345.6L236.7 345.8L236.9 345.9L237.1 346.1L237.3 346.3L237.5 346.4L237.7 346.6L237.9 346.8L238.1 346.9L238.3 347.1L238.5 347.3L238.7 347.5L238.9 347.6L239.1 347.8L239.3 348.0L239.5 348.2L239.7 348.4L239.9 348.6L240.1 348.7L240.3 348.9L240.5 349.1L240.7 349.3L240.9 349.5L241.1 349.7L241.3 349.9L241.5 350.2L241.7 350.4L241.9 350.6L242.1 350.8L242.3 351.0L242.5 351.2L242.7 351.5L242.9 351.7L243.1 351.9L243.3 352.2L243.5 352.4L243.7 352.7L243.9 352.9L244.1 353.1L244.3 353.4L244.5 353.7L244.7 353.9L244.9 354.2L245.1 354.4L245.3 354.7L245.5 355.0L245.7 355.3L245.9 355.5L246.1 355.8L246.3 356.1L246.5 356.4L246.7 356.7L246.9 357.0L247.1 357.3L247.3 357.6L247.5 358.0L247.7 358.3L247.9 358.6L248.1 358.9L248.3 359.3L248.5 359.6L248.7 360.0L248.9 360.3L249.1 360.7L249.3 361.0L249.5 361.4L249.7 361.8L249.9 362.2L250.1 362.6L250.3 362.9L250.5 363.3L250.7 363.8L250.9 364.2L251.1 364.6L251.3 365.0L251.5 365.5L251.7 365.9L251.9 366.3L252.1 366.8L252.3 367.3L252.5 367.7L252.7 368.2L252.9 368.7L253.1 369.2L253.3 369.7L253.5 370.2L253.7 370.8L253.9 371.3L254.1 371.8L254.3 372.4L254.5 372.9L254.7 373.5L254.9 374.1L255.1 374.7L255.3 375.3L255.5 375.9L255.7 376.5L255.9 377.2L256.1 377.8L256.3 378.5L256.5 379.1L256.7 379.8L256.9 380.5L257.1 381.2L257.3 381.9L257.5 382.7L257.7 383.4L257.9 384.1L258.1 384.9L258.3 385.7L258.5 386.4L258.7 387.2L258.9 388.0L259.1 388.8L259.3 389.6L259.5 390.4L259.7 391.2L259.9 392.0L260.1 392.9L260.3 393.7L260.5 394.5L260.7 395.3L260.9 396.0L261.1 396.8L261.3 397.5L261.5 398.2L261.7 398.9L261.9 399.6L262.1 400.2L262.3 400.7L262.5 401.2L262.7 401.7L262.9 402.0L263.1 402.3L263.3 402.5L263.5 402.7L263.7 402.7L263.9 402.7L264.1 402.5L264.3 402.3L264.5 402.0L264.7 401.6L264.9 401.1L265.1 400.5L265.3 399.8L265.5 399.1L265.7 398.3L265.9 397.4L266.1 396.5L266.3 395.6L266.5 394.6L266.7 393.5L266.9 392.5L267.1 391.4L267.3 390.3L267.5 389.1L267.7 388.0L267.9 386.8L268.1 385.7L268.3 384.5L268.5 383.4L268.7 382.2L268.9 381.0L269.1 379.9L269.3 378.7L269.5 377.6L269.7 376.5L269.9 375.3L270.1 374.2L270.3 373.1L270.5 372.0L270.7 370.9L270.9 369.9L271.1 368.8L271.3 367.7L271.5 366.7L271.7 365.7L271.9 364.7L272.1 363.7L272.3 362.7L272.5 361.7L272.7 360.7L272.9 359.7L273.1 358.8L273.3 357.8L273.5 356.9L273.7 356.0L273.9 355.1L274.1 354.2L274.3 353.3L274.5 352.4L274.7 351.5L274.9 350.7L275.1 349.8L275.3 349.0L275.5 348.1L275.7 347.3L275.9 346.5L276.1 345.7L276.3 344.9L276.5 344.1L276.7 343.3L276.9 342.5L277.1 341.7L277.3 340.9L277.5 340.2L277.7 339.4L277.9 338.7L278.1 337.9L278.3 337.2L278.5 336.5L278.7 335.7L278.9 335.0L279.1 334.3L279.3 333.6L279.5 332.9L279.7 332.2L279.9 331.5L280.1 330.8L280.3 330.1L280.5 329.5L280.7 328.8L280.9 328.1L281.1 327.5L281.3 326.8L281.5 326.1L281.7 325.5L281.9 324.9L282.1 324.2L282.3 323.6L282.5 322.9L282.7 322.3L282.9 321.7L283.0 321.4L283.2 320.8L283.4 320.2L283.6 319.6L283.8 319.1L284.0 318.5L284.2 317.9L284.4 317.4L284.6 316.8L284.8 316.3L285.0 315.7L285.2 315.2L285.4 314.7L285.6 314.1L285.8 313.6L286.0 313.1L286.2 312.6L286.4 312.0L286.6 311.5L286.8 311.0L287.0 310.5L287.2 310.0L287.4 309.5L287.6 309.0L287.8 308.5L288.0 308.0L288.2 307.5L288.4 307.0L288.6 306.5L288.8 306.0L289.0 305.5L289.2 305.0L289.4 304.5L289.6 304.0L289.8 303.5L290.0 303.0L290.2 302.5L290.4 302.0L290.6 301.5L290.8 301.0L291.0 300.5L291.2 300.0L291.4 299.5L291.6 299.0L291.8 298.6L292.0 298.1L292.2 297.6L292.4 297.1L292.6 296.7L292.8 296.2L293.0 295.7L293.2 295.2L293.4 294.8L293.6 294.3L293.8 293.8L294.0 293.4L294.2 292.9L294.4 292.4L294.6 292.0L294.8 291.5L295.0 291.0L295.2 290.5L295.4 290.1L295.6 289.6L295.8 289.1L296.0 288.7L296.2 288.2L296.4 287.7L296.6 287.3L296.8 286.8L297.0 286.3L297.2 285.9L297.4 285.4L297.6 285.0L297.8 284.5L298.0 284.0L298.2 283.6L298.4 283.1L298.6 282.6L298.8 282.2L299.0 281.7L299.2 281.3L299.4 280.8L299.6 280.3L299.8 279.9L300.0 279.4L300.2 279.0L300.4 278.5L300.6 278.0L300.8 277.6L301.0 277.1L301.2 276.7L301.4 276.2L301.6 275.8L301.8 275.3L302.0 274.9L302.2 274.4L302.4 274.0L302.6 273.5L302.8 273.1L303.0 272.6L303.2 272.2L303.4 271.7L303.6 271.3L303.8 270.8L304.0 270.4L304.2 269.9L304.4 269.5L304.6 269.0L304.8 268.6L305.0 268.2L305.2 267.7L305.4 267.3L305.6 266.8L305.8 266.4L306.0 266.0L306.2 265.5L306.4 265.1L306.6 264.7L306.8 264.2L307.0 263.8L307.2 263.4L307.4 262.9L307.6 262.5L307.8 262.1L308.0 261.6L308.2 261.2L308.4 260.8L308.6 260.4L308.8 259.9L309.0 259.5L309.2 259.1L309.4 258.7L309.6 258.3L309.8 257.8L310.0 257.4L310.2 257.0L310.4 256.6L310.6 256.2L310.8 255.8L311.0 255.3L311.2 254.9L311.4 254.5L311.6 254.1L311.8 253.7L312.0 253.3L312.2 252.9L312.4 252.5L312.6 252.1L312.8 251.7L313.0 251.3L313.2 250.9L313.4 250.5L313.6 250.1L313.8 249.7L314.0 249.3L314.2 248.9L314.4 248.5L314.6 248.1L314.8 247.7L315.0 247.4L315.2 247.0L315.4 246.6L315.6 246.2L315.8 245.8L316.0 245.4L316.2 245.0L316.4 244.6L316.6 244.3L316.8 243.9L317.0 243.5L317.2 243.1L317.4 242.7L317.6 242.3L317.8 242.0L318.0 241.6L318.2 241.2L318.4 240.8L318.6 240.4L318.8 240.1L319.0 239.7L319.2 239.3L319.4 238.9L319.6 238.5L319.8 238.2L320.0 237.8L320.2 237.4L320.4 237.0L320.6 236.7L320.8 236.3L321.0 235.9L321.2 235.5L321.4 235.1L321.6 234.8L321.8 234.4L322.0 234.0L322.2 233.6L322.4 233.3L322.6 232.9L322.8 232.5L323.0 232.1L323.2 231.8L323.4 231.4L323.6 231.0L323.8 230.6L324.0 230.2L324.2 229.9L324.4 229.5L324.6 229.1L324.8 228.7L325.0 228.4L325.2 228.0L325.4 227.6L325.6 227.2L325.8 226.9L326.0 226.5L326.2 226.1L326.4 225.7L326.6 225.3L326.8 225.0L327.0 224.6L327.2 224.2L327.4 223.8L327.6 223.5L327.8 223.1L328.0 222.7L328.2 222.3L328.4 222.0L328.6 221.6L328.8 221.2L329.0 220.8L329.2 220.5L329.4 220.1L329.6 219.7L329.8 219.4L330.0 219.0L330.2 218.6L330.4 218.3L330.6 217.9L330.8 217.5L331.0 217.2L331.2 216.8L331.4 216.4L331.6 216.1L331.8 215.7L332.0 215.3L332.2 215.0L332.4 214.6L332.6 214.3L332.8 213.9L333.0 213.5L333.2 213.2L333.4 212.8L333.6 212.5L333.8 212.1L334.0 211.8L334.2 211.4L334.4 211.1L334.6 210.7L334.8 210.4L335.0 210.0L335.2 209.7L335.4 209.3L335.6 209.0L335.8 208.7L336.0 208.3L336.2 208.0L336.4 207.6L336.6 207.3L336.8 207.0L337.0 206.6L337.2 206.3L337.4 206.0L337.6 205.6L337.8 205.3L338.0 205.0L338.2 204.7L338.4 204.3L338.6 204.0L338.8 203.7L339.0 203.4L339.2 203.1L339.4 202.8L339.6 202.4L339.8 202.1L340.0 201.8L340.2 201.5L340.4 201.2L340.6 200.9L340.8 200.6L341.0 200.3L341.2 200.0L341.4 199.7L341.6 199.3L341.8 199.0L342.0 198.7L342.2 198.4L342.4 198.1L342.6 197.8L342.8 197.5L343.0 197.2L343.2 196.9L343.4 196.6L343.6 196.3L343.8 196.0L344.0 195.7L344.2 195.4L344.4 195.1L344.6 194.8L344.8 194.5L345.0 194.2L345.2 193.9L345.4 193.6L345.6 193.4L345.8 193.1L346.0 192.8L346.2 192.5L346.4 192.2L346.6 191.9L346.8 191.6L347.0 191.3L347.2 191.0L347.4 190.7L347.6 190.4L347.8 190.1L348.0 189.8L348.2 189.5L348.4 189.2L348.6 188.9L348.8 188.6L349.0 188.2L349.2 187.9L349.4 187.6L349.6 187.3L349.8 187.0L350.0 186.7L350.2 186.4L350.4 186.1L350.6 185.8L350.8 185.5L351.0 185.2L351.2 184.8L351.4 184.5L351.6 184.2L351.8 183.9L352.0 183.6L352.2 183.2L352.4 182.9L352.6 182.6L352.8 182.3L353.0 181.9L353.2 181.6L353.4 181.3L353.6 180.9L353.8 180.6L354.0 180.3L354.2 179.9L354.4 179.6L354.6 179.3L354.8 178.9L355.0 178.6L355.2 178.3L355.4 177.9L355.6 177.6L355.8 177.3L356.0 176.9L356.2 176.6L356.4 176.2L356.6 175.9L356.8 175.6L357.0 175.2L357.2 174.9L357.4 174.6L357.6 174.2L357.8 173.9L358.0 173.6L358.2 173.2L358.4 172.9L358.6 172.6L358.8 172.2L359.0 171.9L359.2 171.6L359.4 171.3L359.6 170.9L359.8 170.6L360.0 170.3L360.2 170.0L360.4 169.7L360.6 169.3L360.8 169.0L361.0 168.7L361.2 168.4L361.4 168.1L361.6 167.8L361.8 167.5L362.0 167.2L362.2 166.9L362.4 166.6L362.6 166.3L362.8 166.0L363.0 165.7L363.2 165.4L363.4 165.1L363.6 164.9L363.8 164.6L364.0 164.3L364.2 164.0L364.4 163.8L364.6 163.5L364.8 163.2L365.0 162.9L365.2 162.7L365.4 162.4L365.6 162.1L365.8 161.9L366.0 161.6L366.2 161.3L366.4 161.1L366.6 160.8L366.8 160.6L367.0 160.3L367.2 160.1L367.4 159.8L367.6 159.6L367.8 159.4L368.0 159.1L368.2 158.9L368.4 158.7L368.6 158.4L368.8 158.2L369.0 158.0L369.2 157.8L369.4 157.6L369.6 157.4L369.8 157.1L370.0 156.9L370.2 156.7L370.4 156.5L370.6 156.3L370.8 156.1L371.0 155.9L371.2 155.7L371.4 155.5L371.6 155.3L371.8 155.1L372.0 154.9L372.2 154.7L372.4 154.5L372.6 154.3L372.8 154.2L373.0 154.0L373.2 153.8L373.4 153.6L373.6 153.4L373.8 153.2L374.0 153.1L374.2 152.9L374.4 152.7L374.6 152.5L374.8 152.4L375.0 152.2L375.2 152.0L375.4 151.8L375.6 151.7L375.8 151.5L376.0 151.3L376.2 151.2L376.4 151.0L376.6 150.8L376.8 150.7L377.0 150.5L377.2 150.4L377.4 150.2L377.6 150.0L377.8 149.9L378.0 149.7L378.2 149.5L378.4 149.4L378.6 149.2L378.8 149.0L379.0 148.8L379.2 148.7L379.4 148.5L379.6 148.3L379.8 148.2L380.0 148.0L380.2 147.8L380.4 147.7L380.6 147.5L380.8 147.4L381.0 147.2L381.2 147.1L381.4 146.9L381.6 146.8L381.8 146.6L382.0 146.5L382.2 146.3L382.4 146.2L382.6 146.1L382.8 146.0L383.0 145.8L383.2 145.7L383.4 145.6L383.6 145.5L383.8 145.4L384.0 145.3L384.2 145.2L384.4 145.1L384.6 145.1L384.8 145.0L385.0 144.9L385.2 144.9L385.4 144.8L385.6 144.7L385.8 144.7L386.0 144.6L386.2 144.5L386.4 144.5L386.6 144.4L386.8 144.4L387.0 144.3L387.2 144.2L387.4 144.2L387.6 144.1L387.8 144.1L388.0 144.0L388.2 144.0L388.4 143.9L388.6 143.9L388.8 143.8L389.0 143.8L389.2 143.7L389.4 143.7L389.6 143.6L389.8 143.6L390.0 143.6L390.2 143.5L390.4 143.5L390.6 143.5L390.8 143.5L391.0 143.5L391.2 143.4L391.4 143.4L391.6 143.4L391.8 143.4L392.0 143.4L392.2 143.4L392.4 143.4L392.6 143.4L392.8 143.4L393.0 143.5L393.2 143.5L393.4 143.5L393.6 143.6L393.8 143.6L394.0 143.7L394.2 143.7L394.4 143.8L394.6 143.9L394.8 143.9L395.0 144.0L395.2 144.1L395.4 144.2L395.6 144.3L395.8 144.4L396.0 144.5L396.2 144.5L396.4 144.6L396.6 144.8L396.8 144.9L397.0 145.0L397.2 145.1L397.4 145.2L397.6 145.3L397.8 145.4L398.0 145.5L398.2 145.7L398.4 145.8L398.6 145.9L398.8 146.0L399.0 146.1L399.2 146.3L399.4 146.4L399.6 146.5L399.8 146.7L400.0 146.8L400.2 147.0L400.4 147.1L400.6 147.3L400.8 147.5L401.0 147.7L401.2 147.9L401.4 148.1L401.6 148.3L401.8 148.5L402.0 148.7L402.2 148.9L402.4 149.2L402.6 149.4L402.8 149.7L403.0 150.0L403.2 150.2L403.4 150.5L403.6 150.8L403.8 151.1L404.0 151.4L404.2 151.7L404.4 152.1L404.6 152.4L404.8 152.7L405.0 153.1L405.2 153.4L405.4 153.8L405.6 154.2L405.8 154.6L406.0 155.0L406.2 155.4L406.4 155.9L406.6 156.5L406.8 157.2L407.0 157.9L407.2 158.7L407.4 159.6L407.6 160.4L407.8 161.3L408.0 162.2L408.2 163.0L408.4 163.7L408.6 164.4L408.7 164.8L409.0 165.4L409.2 165.9L409.5 166.5L409.7 167.1L410.0 167.6L410.2 168.1L410.5 168.6L410.7 169.1L411.0 169.6L411.2 170.1L411.5 170.5L411.7 170.9L412.0 171.4L412.2 171.7L412.5 172.1L412.7 172.4L413.0 172.8L413.2 173.1L413.5 173.3L413.7 173.6L414.0 173.8L414.2 174.0L414.5 174.1L414.7 174.3L415.0 174.4L415.2 174.4L415.5 174.5L415.7 174.5L416.0 174.5L416.2 174.4L416.5 174.3L416.7 174.2L417.0 174.1L417.2 173.9L417.5 173.7L417.7 173.5L418.0 173.2L418.2 172.9L418.5 172.6L418.7 172.2L419.0 171.9L419.2 171.5L419.5 171.1L419.7 170.6L420.0 170.2L420.2 169.7L420.5 169.2L420.7 168.7L421.0 168.1L421.2 167.6L421.5 167.0L421.7 166.4L422.0 165.9L422.2 165.3L422.5 164.7L422.7 164.1L423.0 163.5L423.2 162.9L423.5 162.3L423.7 161.7L424.0 161.1L424.2 160.6L424.5 160.0L424.7 159.5L425.0 159.0L425.2 158.4L425.5 158.0L425.7 157.5L426.0 157.1L426.2 156.6L426.5 156.3L426.7 155.9L427.0 155.6L427.2 155.3L427.5 155.0L427.7 154.8L428.0 154.6L428.2 154.5L428.5 154.4L428.7 154.3L429.0 154.3L429.2 154.3L429.5 154.4L429.7 154.5L430.0 154.6L430.2 154.8L430.5 155.0L430.7 155.2L431.0 155.5L431.2 155.8L431.5 156.2L431.7 156.6L432.0 157.0L432.2 157.5L432.5 157.9L432.7 158.5L433.0 159.0L433.2 159.5L433.5 160.1L433.7 160.7L434.0 161.2L434.2 161.8L434.5 162.4L434.7 163.0L435.0 163.6L435.2 164.2L435.5 164.8L435.7 165.3L436.0 165.9L436.2 166.4L436.5 166.9L436.7 167.4L437.0 167.8L437.2 168.2L437.5 168.6L437.7 168.9L438.0 169.2L438.2 169.5L438.5 169.7L438.7 169.8L439.0 169.9L439.2 170.0L439.5 170.0L439.7 170.0L440.0 169.9L440.2 169.7L440.5 169.6L440.7 169.3L441.0 169.0L441.2 168.7L441.5 168.3L441.7 167.9L442.0 167.5L442.2 167.0L442.5 166.5L442.7 166.0L443.0 165.4L443.2 164.8L443.5 164.3L443.7 163.7L444.0 163.1L444.2 162.5L444.5 161.9L444.7 161.3L445.0 160.8L445.2 160.2L445.5 159.7L445.7 159.3L446.0 158.8L446.2 158.4L446.5 158.1L446.7 157.8L447.0 157.5L447.2 157.4L447.5 157.2L447.7 157.1L448.0 157.1L448.2 157.2L448.5 157.3L448.7 157.4L449.0 157.6L449.2 157.9L449.5 158.3L449.7 158.6L450.0 159.0L450.2 159.5L450.5 160.0L450.7 160.5L451.0 161.1L451.2 161.7L451.5 162.3L451.7 162.9L452.0 163.5L452.2 164.0L452.5 164.6L452.7 165.2L453.0 165.7L453.2 166.1L453.5 166.6L453.7 167.0L454.0 167.3L454.2 167.6L454.5 167.8L454.7 168.0L455.0 168.0L455.2 168.1L455.5 168.0L455.7 167.9L456.0 167.7L456.2 167.4L456.5 167.1L456.7 166.7L457.0 166.3L457.2 165.8L457.5 165.3L457.7 164.7L458.0 164.2L458.2 163.6L458.5 163.0L458.7 162.4L459.0 161.8L459.2 161.3L459.5 160.7L459.7 160.3L460.0 159.8L460.2 159.4L460.5 159.1L460.7 158.9L461.0 158.7L461.2 158.6L461.5 158.6L461.7 158.6L462.0 158.8L462.2 159.0L462.5 159.3L462.7 159.6L463.0 160.0L463.2 160.5L463.5 161.0L463.7 161.6L464.0 162.1L464.2 162.7L464.5 163.3L464.7 163.9L465.0 164.5L465.2 165.0L465.5 165.5L465.7 165.9L466.0 166.3L466.2 166.6L466.5 166.8L466.7 166.9L467.0 167.0L467.2 166.9L467.5 166.8L467.7 166.5L468.0 166.2L468.2 165.9L468.5 165.4L468.7 164.9L469.0 164.4L469.2 163.8L469.5 163.2L469.7 162.6L470.0 162.0L470.2 161.5L470.5 161.0L470.7 160.5L471.0 160.1L471.2 159.8L471.5 159.6L471.7 159.5L472.0 159.4L472.2 159.5L472.5 159.7L472.7 159.9L473.0 160.3L473.2 160.7L473.5 161.2L473.7 161.7L474.0 162.3L474.2 162.9L474.5 163.5L474.7 164.0L475.0 164.6L475.2 165.1L475.5 165.5L475.7 165.8L476.0 166.1L476.2 166.2L476.5 166.2L476.7 166.2L477.0 166.0L477.2 165.7L477.5 165.3L477.7 164.9L478.0 164.4L478.2 163.8L478.5 163.2L478.7 162.6L479.0 162.1L479.2 161.5L479.5 161.0L479.7 160.6L480.0 160.3L480.2 160.1L480.5 160.0L480.7 160.1L481.0 160.2L481.2 160.4L481.5 160.8L481.7 161.3L482.0 161.8L482.2 162.3L482.5 162.9L482.7 163.5L483.0 164.1L483.2 164.6L483.5 165.0L483.7 165.4L484.0 165.6L484.2 165.7L484.5 165.7L484.7 165.6L485.0 165.3L485.2 165.0L485.5 164.5L485.7 164.0L486.0 163.4L486.2 162.8L486.5 162.2L486.7 161.7L487.0 161.2L487.2 160.9L487.5 160.6L487.7 160.5L488.0 160.5L488.2 160.6L488.5 160.9L488.7 161.3L489.0 161.7L489.2 162.3L489.5 162.9L489.7 163.5L490.0 164.0L490.2 164.5L490.5 164.9L490.7 165.2L490.9 165.3L491.2 165.4L491.4 165.3L491.6 165.1L491.9 164.8L492.1 164.4L492.3 163.9L492.5 163.4L492.8 162.9L493.0 162.3L493.2 161.8L493.4 161.4L493.7 161.1L493.9 160.9L494.1 160.8L494.4 160.8L494.6 161.0L494.8 161.2L495.0 161.6L495.3 162.1L495.5 162.6L495.7 163.1L496.0 163.7L496.2 164.2L496.4 164.6L496.6 164.9L496.9 165.1L497.1 165.1L497.3 165.0L497.6 164.8L497.8 164.5L498.0 164.0L498.2 163.5L498.5 163.0L498.7 162.4L498.9 161.9L499.2 161.5L499.4 161.2L499.6 161.0L499.8 161.0L500.1 161.1L500.3 161.4L500.5 161.8L500.8 162.2L501.0 162.7L501.2 163.3L501.4 163.8L501.7 164.3L501.9 164.6L502.1 164.8L502.4 164.9L502.6 164.8L502.8 164.6L503.0 164.2L503.3 163.7L503.5 163.2L503.7 162.7L504.0 162.2L504.2 161.7L504.4 161.4L504.6 161.2L504.9 161.2L505.1 161.4L505.3 161.7L505.6 162.1L505.8 162.6L506.0 163.1L506.2 163.6L506.5 164.1L506.7 164.5L506.9 164.7L507.2 164.7L507.4 164.6L507.6 164.3L507.8 163.9L508.1 163.4L508.3 162.8L508.5 162.3L508.8 161.9L509.0 161.5L509.2 161.4L509.4 161.4L509.7 161.6L509.9 161.9L510.1 162.4L510.4 162.9L510.6 163.5L510.8 163.9L511.0 164.3L511.3 164.5L511.5 164.6L511.7 164.4L512.0 164.1L512.2 163.6L512.4 163.1L512.6 162.6L512.9 162.1L513.1 161.7L513.3 161.5L513.6 161.5L513.8 161.7L514.0 162.1L514.2 162.5L514.5 163.1L514.7 163.6L514.9 164.0L515.2 164.3L515.4 164.4L515.6 164.3L515.8 164.1L516.1 163.6L516.3 163.1L516.5 162.6L516.8 162.1L517.0 161.8L517.2 161.6L517.4 161.7L517.7 161.9L517.9 162.4L518.1 162.9L518.4 163.4L518.6 163.9L518.8 164.2L519.0 164.3L519.3 164.2L519.5 163.9L519.7 163.5L520.0 163.0L520.2 162.4L520.4 162.0L520.6 161.8L520.9 161.7L521.1 161.9L521.3 162.3L521.6 162.8L521.8 163.3L522.0 163.8L522.2 164.1L522.5 164.2L522.7 164.1L522.9 163.8L523.2 163.3L523.4 162.8L523.6 162.3L523.8 161.9L524.1 161.8L524.3 161.9L524.5 162.2L524.8 162.7L525.0 163.3L525.2 163.8L525.4 164.1L525.7 164.2L525.9 164.0L526.1 163.6L526.4 163.1L526.6 162.6L526.8 162.1L527.0 161.9L527.3 161.9L527.5 162.2L527.7 162.6L528.0 163.1L528.2 163.6L528.4 164.0L528.6 164.1L528.9 163.9L529.1 163.5L529.3 163.0L529.6 162.5L529.8 162.1L530.0 161.9L530.2 162.0L530.5 162.4L530.7 162.9L530.9 163.4L531.2 163.8L531.4 164.0L531.6 163.9L531.8 163.6L532.1 163.1L532.3 162.6L532.5 162.2L532.8 162.0L533.0 162.1L533.2 162.5L533.4 163.0L533.7 163.5L533.9 163.9L534.1 164.0L534.4 163.8L534.6 163.3L534.8 162.8L535.0 162.3L535.3 162.1L535.5 162.1L535.7 162.5L536.0 163.0L536.2 163.5L536.4 163.8L536.6 163.9L536.9 163.7L537.1 163.2L537.3 162.7L537.6 162.3L537.8 162.1L538.0 162.2L538.2 162.7L538.5 163.2L538.7 163.7L538.9 163.9L539.2 163.8L539.4 163.4L539.6 162.9L539.8 162.4L540.1 162.1L540.3 162.2L540.5 162.6L540.8 163.2L541.0 163.6L541.2 163.8L541.4 163.7L541.7 163.3L541.9 162.8L542.1 162.3L542.4 162.2L542.6 162.4L542.8 162.8L543.0 163.4L543.3 163.7L543.5 163.8L543.7 163.5L544.0 163.0L544.2 162.5L544.4 162.2L544.6 162.3L544.9 162.7L545.1 163.3L545.3 163.7L545.6 163.8L545.8 163.5L546.0 163.0L546.2 162.5L546.5 162.3L546.7 162.4L546.9 162.9L547.2 163.4L547.4 163.7L547.6 163.7L547.8 163.3L548.1 162.8L548.3 162.4L548.5 162.3L548.8 162.6L549.0 163.2L549.2 163.6L549.4 163.7L549.7 163.4L549.9 162.9L550.1 162.4L550.4 162.3L550.6 162.6L550.8 163.1L551.0 163.5L551.3 163.7L551.5 163.4L551.7 162.9L552.0 162.4L552.2 162.4L552.4 162.7L552.6 163.2L552.9 163.6L553.1 163.6L553.3 163.2L553.6 162.7L553.8 162.4L554.0 162.5L554.2 162.9L554.5 163.4L554.7 163.6L554.9 163.4L555.2 162.9L555.4 162.5L555.6 162.4L555.8 162.8L556.1 163.3L556.3 163.6L556.5 163.5L556.8 163.0L557.0 162.5L557.2 162.4L557.4 162.8L557.7 163.3L557.9 163.6L558.1 163.4L558.4 162.9L558.6 162.5L558.8 162.5L559.0 162.9L559.3 163.4L559.5 163.6L559.7 163.3L560.0 162.8L560.2 162.4L560.4 162.6L560.6 163.1L560.9 163.5L561.1 163.5L561.3 163.0L561.6 162.6L561.8 162.5L562.0 162.9L562.2 163.4L562.5 163.5L562.7 163.2L562.9 162.7L563.2 162.5L563.4 162.8L563.6 163.3L563.8 163.5L564.1 163.2L564.3 162.7L564.5 162.5L564.8 162.8L565.0 163.3L565.2 163.5L565.4 163.2L565.7 162.7L565.9 162.5L566.1 162.8L566.4 163.4L566.6 163.5L566.8 163.1L567.0 162.6L567.3 162.6L567.5 163.0L567.7 163.4L568.0 163.4L568.2 162.9L568.4 162.5L568.6 162.7L568.9 163.3L569.1 163.5L569.3 163.1L569.6 162.6L569.8 162.6L570.0 163.0L570.2 163.4L570.5 163.3L570.7 162.8L570.9 162.6L571.2 162.9L571.4 163.4L571.6 163.4L571.8 162.9L572.1 162.6L572.3 162.8L572.5 163.3L572.8 163.4L573.0 162.9L573.2 162.6L573.4 162.8L573.7 163.3L573.9 163.4L574.1 162.9L574.4 162.6L574.6 162.9L574.8 163.4L575.0 163.3L575.3 162.8L575.5 162.6L575.7 163.0L576.0 163.4L576.2 163.2L576.4 162.7L576.6 162.7L576.9 163.2L577.1 163.4L577.3 163.0L577.6 162.6L577.8 162.9L578.0 163.3L578.2 163.2L578.5 162.7L578.7 162.7L578.9 163.2L579.2 163.4L579.4 163.0L579.6 162.6L579.8 163.0L580.1 163.4L580.3 163.1L580.5 162.7L580.8 162.8L581.0 163.3L581.2 163.2L581.4 162.8L581.7 162.7L581.9 163.2L582.1 163.3L582.4 162.8L582.6 162.7L582.8 163.2L583.0 163.3L583.3 162.9L583.5 162.7L583.7 163.1L584.0 163.3L584.2 162.9L584.4 162.7L584.6 163.1L584.9 163.3L585.1 162.8L585.3 162.7L585.6 163.2L585.8 163.3L586.0 162.8L586.2 162.8L586.5 163.3L586.7 163.2L586.9 162.7L587.2 162.9L587.4 163.3L587.6 163.0L587.8 162.7L588.1 163.1L588.3 163.3L588.5 162.8L588.8 162.8L589.0 163.2L589.2 163.2L589.4 162.7L589.7 163.0L589.9 163.3L590.1 162.9L590.4 162.7L590.6 163.2L590.8 163.2L591.0 162.7L591.3 163.0L591.5 163.3L591.7 162.9L592.0 162.8L592.2 163.3L592.4 163.0L592.6 162.7L592.9 163.1L593.1 163.2L593.3 162.7L593.6 163.0L593.8 163.3L594.0 162.8L594.2 162.9L594.5 163.3L594.7 162.9L594.9 162.8L595.2 163.2L595.4 163.0L595.6 162.8L595.8 163.2L596.1 163.1L596.3 162.7L596.5 163.2L596.8 163.1L597.0 162.7L597.2 163.1L597.4 163.1L597.7 162.7L597.9 163.1L598.1 163.1L598.4 162.7L598.6 163.2L598.8 163.1L599.0 162.8L599.3 163.2L599.5 163.0L599.7 162.8L600.0 163.2L600.2 162.9L600.4 162.8L600.6 163.2L600.9 162.9L601.1 162.9L601.3 163.2L601.6 162.8L601.8 163.1L602.0 163.1L602.2 162.8L602.5 163.2L602.7 163.0L602.9 162.9L603.2 163.2L603.4 162.8L603.6 163.0L603.8 163.1L604.1 162.8L604.3 163.2L604.5 162.9L604.8 162.9L605.0 163.2L605.2 162.8L605.4 163.1L605.7 163.0L605.9 162.9L606.1 163.2L606.4 162.8L606.6 163.1L606.8 163.0L607.0 162.9L607.3 163.2L607.5 162.8L607.7 163.2L608.0 162.9L608.2 163.0L608.4 163.1L608.6 162.8L608.9 163.2L609.1 162.8L609.3 163.1L609.6 163.0L609.8 162.9L610.0 163.2L610.2 162.8L610.5 163.2L610.7 162.8L610.9 163.1L611.2 162.9L611.4 163.0L611.6 163.1L611.8 162.9L612.1 163.2L612.3 162.8L612.5 163.2L612.8 162.8L613.0 163.2L613.2 162.9L613.4 163.1L613.7 162.9L613.9 163.0L614.1 163.0L614.4 163.0L614.6 163.1L614.8 162.9L615.0 163.1L615.3 162.9L615.5 163.1L615.7 162.9L616.0 163.1L616.2 162.8L616.4 163.2L616.6 162.8L616.9 163.2L617.1 162.8L617.3 163.2L617.6 162.9L617.8 163.1L618.0 162.9L618.2 163.1L618.5 162.9L618.7 163.1L618.9 162.9L619.2 163.1L619.4 163.0L619.6 163.0L619.8 163.0L620.1 162.9L620.3 163.1L620.5 162.9L620.8 163.1L621.0 162.8L621.2 163.2L621.4 162.9L621.7 163.1L621.9 162.9L622.1 163.0L622.4 163.0L622.6 162.9L622.8 163.1L623.0 162.9L623.3 163.1L623.5 162.9L623.7 163.1L624.0 163.0L624.2 162.9L624.4 163.1L624.6 162.9L624.9 163.1L625.1 162.9L625.3 163.0L625.6 163.1L625.8 162.9L626.0 163.1L626.2 162.9L626.5 163.0L626.7 163.1L626.9 162.9L627.2 163.1L627.4 163.0L627.6 162.9L627.8 163.1L628.1 162.9L628.3 163.0L628.5 163.1L628.8 162.9L629.0 163.1L629.2 163.1L629.4 162.9L629.7 163.1L629.9 163.0L630.1 162.9L630.4 163.1L630.6 163.0L630.8 162.9L631.0 163.1L631.3 163.0L631.5 162.9L631.7 163.1L632.0 163.0L632.2 162.9L632.4 163.0L632.6 163.1L632.9 162.9L633.1 163.0L633.3 163.1L633.6 162.9L633.8 162.9L634.0 163.1L634.2 163.0L634.5 162.9L634.7 163.0L634.9 163.1L635.2 163.0L635.4 162.9L635.6 163.0L635.8 163.1L636.1 162.9L636.3 162.9L636.5 163.1L636.8 163.1L637.0 163.0L637.2 162.9L637.4 163.0L637.7 163.1L637.9 163.0L638.1 162.9L638.4 163.0L638.6 163.1L638.8 163.1L639.0 162.9L639.3 162.9L639.5 163.0L639.7 163.1L640.0 163.1L640.2 163.0L640.4 162.9L640.6 163.0L640.9 163.1L641.1 163.1L641.3 163.0L641.6 162.9L641.8 162.9L642.0 163.0L642.2 163.1L642.5 163.1L642.7 163.1L642.9 163.0L643.2 162.9L643.4 162.9L643.6 163.0L643.8 163.0L644.1 163.1L644.3 163.1L644.5 163.1L644.8 163.0L645.0 162.9L645.2 162.9L645.4 162.9L645.7 162.9L645.9 163.0L646.1 163.0L646.4 163.1L646.6 163.1L646.8 163.1L647.0 163.1L647.3 163.0L647.5 163.0L647.7 163.0L648.0 163.0L648.2 162.9L648.4 162.9L648.6 162.9L648.9 162.9L649.1 162.9L649.3 162.9L649.6 162.9L649.8 162.9L650.0 162.9L650.2 162.9L650.5 162.9L650.7 162.9L650.9 162.9L651.2 162.9L651.4 162.9L651.6 162.9L651.8 162.9L652.1 162.9L652.3 163.0L652.5 163.0L652.8 163.0L653.0 163.0L653.2 163.1L653.4 163.1L653.7 163.1L653.9 163.1L654.1 163.0L654.4 163.0L654.6 162.9L654.8 162.9L655.0 162.9L655.3 163.0L655.5 163.0L655.7 163.1L656.0 163.1L656.2 163.0L656.4 163.0L656.6 162.9L656.9 162.9L657.1 163.0L657.3 163.1L657.6 163.1L657.8 163.0L658.0 162.9L658.2 163.0L658.5 163.0L658.7 163.1L658.9 163.0L659.2 162.9L659.4 162.9L659.6 163.0L659.8 163.1L660.1 163.0L660.3 162.9L660.5 163.0L660.8 163.1L661.0 163.0L661.2 162.9L661.4 163.0L661.7 163.1L661.9 163.0L662.1 162.9L662.4 163.1L662.6 163.0L662.8 162.9L663.0 163.0L663.3 163.1L663.5 162.9L663.7 163.0L664.0 163.1L664.2 162.9L664.4 163.0L664.6 163.0L664.9 162.9L665.1 163.0L665.3 163.0L665.6 162.9L665.8 163.1L666.0 163.0L666.2 163.0L666.5 163.0L666.7 162.9L666.9 163.1L667.2 163.0L667.4 163.0L667.6 163.0"/>
</g>
<g style="opacity:0.999">
<g fill="none" stroke="#000" stroke-width="1.85"><rect x="93.19" y="438.85" width="10.5" height="14.4" rx="5.25" ry="6.7"/><rect x="114.14" y="438.85" width="10.5" height="14.4" rx="5.25" ry="6.7"/><rect x="203.49" y="438.85" width="10.5" height="14.4" rx="5.25" ry="6.7"/><rect x="238.39" y="438.85" width="10.5" height="14.4" rx="5.25" ry="6.7"/><rect x="334.75" y="438.85" width="10.5" height="14.4" rx="5.25" ry="6.7"/><rect x="348.69" y="438.85" width="10.5" height="14.4" rx="5.25" ry="6.7"/><rect x="431.07" y="438.85" width="10.5" height="14.4" rx="5.25" ry="6.7"/><rect x="452.02" y="438.85" width="10.5" height="14.4" rx="5.25" ry="6.7"/><rect x="465.97" y="438.85" width="10.5" height="14.4" rx="5.25" ry="6.7"/><rect x="534.39" y="438.85" width="10.5" height="14.4" rx="5.25" ry="6.7"/><rect x="548.35" y="438.85" width="10.5" height="14.4" rx="5.25" ry="6.7"/><rect x="569.30" y="438.85" width="10.5" height="14.4" rx="5.25" ry="6.7"/><rect x="583.25" y="438.85" width="10.5" height="14.4" rx="5.25" ry="6.7"/><rect x="637.72" y="438.85" width="10.5" height="14.4" rx="5.25" ry="6.7"/><rect x="651.67" y="438.85" width="10.5" height="14.4" rx="5.25" ry="6.7"/><rect x="665.62" y="438.85" width="10.5" height="14.4" rx="5.25" ry="6.7"/><rect x="686.57" y="438.85" width="10.5" height="14.4" rx="5.25" ry="6.7"/><rect x="700.52" y="438.85" width="10.5" height="14.4" rx="5.25" ry="6.7"/></g>
<path fill="none" stroke="#000" stroke-width="1.95" d="M129.84 441.4 Q132.15 440.6 132.94 438.3 M133.50 437.9 V453.9M226.19 441.4 Q228.49 440.6 229.29 438.3 M229.84 437.9 V453.9M315.55 441.4 Q317.85 440.6 318.65 438.3 M319.19 437.9 V453.9M418.87 441.4 Q421.17 440.6 421.97 438.3 M422.52 437.9 V453.9M522.19 441.4 Q524.49 440.6 525.29 438.3 M525.84 437.9 V453.9M625.52 441.4 Q627.82 440.6 628.62 438.3 M629.17 437.9 V453.9"/>
<g fill="#000"><rect x="107.7" y="451.5" width="2.4" height="2.5"/><rect x="218.0" y="451.5" width="2.4" height="2.5"/><rect x="328.3" y="451.5" width="2.4" height="2.5"/><rect x="445.6" y="451.5" width="2.4" height="2.5"/><rect x="562.9" y="451.5" width="2.4" height="2.5"/><rect x="680.1" y="451.5" width="2.4" height="2.5"/></g>
<text transform="translate(43.0,421.8) rotate(0.03)" font-size="24" class="sf tk" textLength="27.4" lengthAdjust="spacingAndGlyphs">10</text>
<path d="M72.1 407.1 h8" stroke="#000" stroke-width="1.4"/>
<text transform="translate(83.2,411.3) rotate(0.03)" font-size="15.2" font-weight="bold" class="sf" textLength="15.6" lengthAdjust="spacingAndGlyphs">30</text>
<text transform="translate(43.0,382.0) rotate(0.03)" font-size="24" class="sf tk" textLength="27.4" lengthAdjust="spacingAndGlyphs">10</text>
<path d="M72.1 367.3 h8" stroke="#000" stroke-width="1.4"/>
<text transform="translate(83.2,371.5) rotate(0.03)" font-size="15.2" font-weight="bold" class="sf" textLength="15.6" lengthAdjust="spacingAndGlyphs">28</text>
<text transform="translate(43.0,333.7) rotate(0.03)" font-size="24" class="sf tk" textLength="27.4" lengthAdjust="spacingAndGlyphs">10</text>
<path d="M72.1 319.0 h8" stroke="#000" stroke-width="1.4"/>
<text transform="translate(83.2,323.2) rotate(0.03)" font-size="15.2" font-weight="bold" class="sf" textLength="15.6" lengthAdjust="spacingAndGlyphs">26</text>
<text transform="translate(43.0,285.3) rotate(0.03)" font-size="24" class="sf tk" textLength="27.4" lengthAdjust="spacingAndGlyphs">10</text>
<path d="M72.1 270.6 h8" stroke="#000" stroke-width="1.4"/>
<text transform="translate(83.2,274.8) rotate(0.03)" font-size="15.2" font-weight="bold" class="sf" textLength="15.6" lengthAdjust="spacingAndGlyphs">24</text>
<text transform="translate(43.0,237.0) rotate(0.03)" font-size="24" class="sf tk" textLength="27.4" lengthAdjust="spacingAndGlyphs">10</text>
<path d="M72.1 222.3 h8" stroke="#000" stroke-width="1.4"/>
<text transform="translate(83.2,226.5) rotate(0.03)" font-size="15.2" font-weight="bold" class="sf" textLength="15.6" lengthAdjust="spacingAndGlyphs">22</text>
<text transform="translate(43.0,188.7) rotate(0.03)" font-size="24" class="sf tk" textLength="27.4" lengthAdjust="spacingAndGlyphs">10</text>
<path d="M72.1 174.0 h8" stroke="#000" stroke-width="1.4"/>
<text transform="translate(83.2,178.2) rotate(0.03)" font-size="15.2" font-weight="bold" class="sf" textLength="15.6" lengthAdjust="spacingAndGlyphs">20</text>
<text transform="translate(43.0,140.4) rotate(0.03)" font-size="24" class="sf tk" textLength="27.4" lengthAdjust="spacingAndGlyphs">10</text>
<path d="M72.1 125.7 h8" stroke="#000" stroke-width="1.4"/>
<text transform="translate(83.2,129.9) rotate(0.03)" font-size="15.2" font-weight="bold" class="sf" textLength="15.6" lengthAdjust="spacingAndGlyphs">18</text>
<text transform="translate(43.0,92.1) rotate(0.03)" font-size="24" class="sf tk" textLength="27.4" lengthAdjust="spacingAndGlyphs">10</text>
<path d="M72.1 77.4 h8" stroke="#000" stroke-width="1.4"/>
<text transform="translate(83.2,81.6) rotate(0.03)" font-size="15.2" font-weight="bold" class="sf" textLength="15.6" lengthAdjust="spacingAndGlyphs">16</text>
<text x="361.8" y="481.2" font-size="24" class="sf kk" font-style="italic" textLength="12.2" lengthAdjust="spacingAndGlyphs">k</text>
<path d="M376.3 486.3 L388.3 463.2" stroke="#000" stroke-width="1.9"/>
<text x="390.7" y="481.2" font-size="24" class="sf kk" font-style="italic" textLength="12.8" lengthAdjust="spacingAndGlyphs">k</text>
<text transform="translate(404,486.8) rotate(0.03)" font-size="15.4" class="ss" font-weight="bold" textLength="8.6" lengthAdjust="spacingAndGlyphs">0</text>
<g transform="translate(24.2,0) rotate(-90)">
<path d="M-280.4 -19.2 v21.8 M-188 -19.2 v21.8" stroke="#000" stroke-width="1.9"/>
<text x="-271.6" y="0" font-size="24" class="sf kk" font-style="italic" textLength="12.2" lengthAdjust="spacingAndGlyphs">k</text>
<text x="-259" y="-11.5" font-size="14.6" class="ss" font-weight="bold">6</text>
<text x="-250.8" y="0" font-size="25.5" class="sf gg" textLength="15" lengthAdjust="spacingAndGlyphs">G</text>
<text x="-234.5" y="5.6" font-size="17" class="sf" font-weight="bold">n</text>
<text x="-224.5" y="-1" font-size="25" class="sf tk">(</text>
<text x="-214.2" y="0" font-size="24" class="sf kk" font-style="italic" textLength="12.2" lengthAdjust="spacingAndGlyphs">k</text>
<text x="-201" y="-1" font-size="25" class="sf tk">)</text>
</g>
</g>
</svg>
</body></html>
